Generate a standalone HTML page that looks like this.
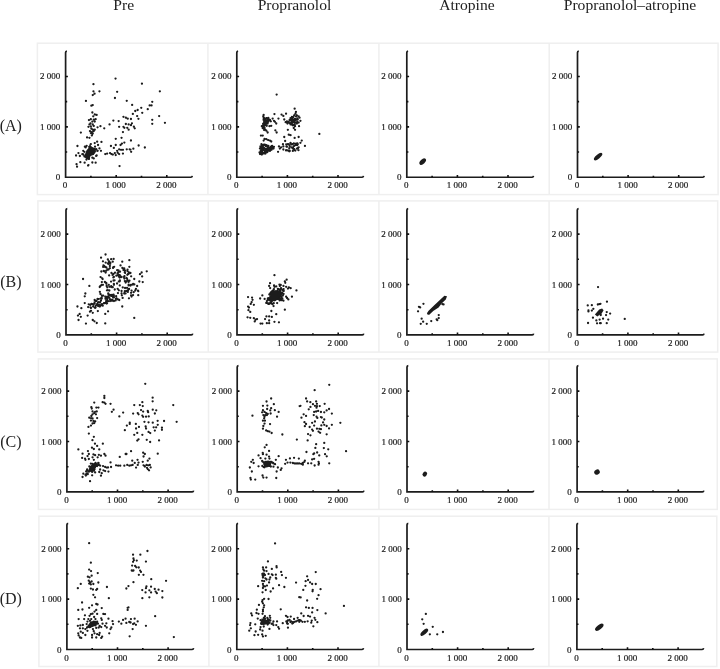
<!DOCTYPE html>
<html><head><meta charset="utf-8"><style>
html,body{margin:0;padding:0;background:#fff;width:720px;height:669px;overflow:hidden}
svg{display:block;will-change:transform}
text{-webkit-font-smoothing:antialiased}
</style></head><body>
<svg width="720" height="669" viewBox="0 0 720 669">
<rect x="37.4" y="43.2" width="680.7" height="151.4" fill="none" stroke="#efefef" stroke-width="1.5"/>
<line x1="207.9" y1="43.2" x2="207.9" y2="194.6" stroke="#efefef" stroke-width="1.5"/>
<line x1="378.9" y1="43.2" x2="378.9" y2="194.6" stroke="#efefef" stroke-width="1.5"/>
<line x1="549.2" y1="43.2" x2="549.2" y2="194.6" stroke="#efefef" stroke-width="1.5"/>
<rect x="37.9" y="200.9" width="679.77" height="151.2" fill="none" stroke="#efefef" stroke-width="1.5"/>
<line x1="208.23" y1="200.9" x2="208.23" y2="352.1" stroke="#efefef" stroke-width="1.5"/>
<line x1="378.9" y1="200.9" x2="378.9" y2="352.1" stroke="#efefef" stroke-width="1.5"/>
<line x1="549.1" y1="200.9" x2="549.1" y2="352.1" stroke="#efefef" stroke-width="1.5"/>
<rect x="38.4" y="358.9" width="678.83" height="150.5" fill="none" stroke="#efefef" stroke-width="1.5"/>
<line x1="208.57" y1="358.9" x2="208.57" y2="509.4" stroke="#efefef" stroke-width="1.5"/>
<line x1="378.9" y1="358.9" x2="378.9" y2="509.4" stroke="#efefef" stroke-width="1.5"/>
<line x1="549.0" y1="358.9" x2="549.0" y2="509.4" stroke="#efefef" stroke-width="1.5"/>
<rect x="38.9" y="516.2" width="677.9" height="150.3" fill="none" stroke="#efefef" stroke-width="1.5"/>
<line x1="208.9" y1="516.2" x2="208.9" y2="666.5" stroke="#efefef" stroke-width="1.5"/>
<line x1="378.9" y1="516.2" x2="378.9" y2="666.5" stroke="#efefef" stroke-width="1.5"/>
<line x1="548.9" y1="516.2" x2="548.9" y2="666.5" stroke="#efefef" stroke-width="1.5"/>
<path d="M66.9,51.05 Q65.6,51.25 65.6,52.45 L65.6,177.25 L190.9,177.25 Q192.1,177.25 192.3,175.95" fill="none" stroke="#1c1c1c" stroke-width="1.7" stroke-linejoin="miter"/>
<path d="M65.6,152.05 h1.6 M90.9,177.25 v-1.6 M65.6,126.85 h2.3 M116.2,177.25 v-2.3 M65.6,101.65 h1.6 M141.5,177.25 v-1.6 M65.6,76.45 h2.3 M166.8,177.25 v-2.3" stroke="#111" stroke-width="1.6" fill="none"/>
<text x="60.3" y="180.25" text-anchor="end" font-family="Liberation Serif" font-size="9" fill="#1a1a1a" stroke="#1a1a1a" stroke-width="0.2">0</text>
<text x="65.1" y="188.25" text-anchor="middle" font-family="Liberation Serif" font-size="9" fill="#1a1a1a" stroke="#1a1a1a" stroke-width="0.2">0</text>
<text x="60.3" y="129.85" text-anchor="end" font-family="Liberation Serif" font-size="9" fill="#1a1a1a" stroke="#1a1a1a" stroke-width="0.2">1 000</text>
<text x="115.7" y="188.25" text-anchor="middle" font-family="Liberation Serif" font-size="9" fill="#1a1a1a" stroke="#1a1a1a" stroke-width="0.2">1 000</text>
<text x="60.3" y="79.45" text-anchor="end" font-family="Liberation Serif" font-size="9" fill="#1a1a1a" stroke="#1a1a1a" stroke-width="0.2">2 000</text>
<text x="166.3" y="188.25" text-anchor="middle" font-family="Liberation Serif" font-size="9" fill="#1a1a1a" stroke="#1a1a1a" stroke-width="0.2">2 000</text>
<path d="M238.1,51.05 Q236.8,51.25 236.8,52.45 L236.8,177.25 L362.1,177.25 Q363.3,177.25 363.5,175.95" fill="none" stroke="#1c1c1c" stroke-width="1.7" stroke-linejoin="miter"/>
<path d="M236.8,152.05 h1.6 M262.1,177.25 v-1.6 M236.8,126.85 h2.3 M287.4,177.25 v-2.3 M236.8,101.65 h1.6 M312.7,177.25 v-1.6 M236.8,76.45 h2.3 M338,177.25 v-2.3" stroke="#111" stroke-width="1.6" fill="none"/>
<text x="231.5" y="180.25" text-anchor="end" font-family="Liberation Serif" font-size="9" fill="#1a1a1a" stroke="#1a1a1a" stroke-width="0.2">0</text>
<text x="236.3" y="188.25" text-anchor="middle" font-family="Liberation Serif" font-size="9" fill="#1a1a1a" stroke="#1a1a1a" stroke-width="0.2">0</text>
<text x="231.5" y="129.85" text-anchor="end" font-family="Liberation Serif" font-size="9" fill="#1a1a1a" stroke="#1a1a1a" stroke-width="0.2">1 000</text>
<text x="286.9" y="188.25" text-anchor="middle" font-family="Liberation Serif" font-size="9" fill="#1a1a1a" stroke="#1a1a1a" stroke-width="0.2">1 000</text>
<text x="231.5" y="79.45" text-anchor="end" font-family="Liberation Serif" font-size="9" fill="#1a1a1a" stroke="#1a1a1a" stroke-width="0.2">2 000</text>
<text x="337.5" y="188.25" text-anchor="middle" font-family="Liberation Serif" font-size="9" fill="#1a1a1a" stroke="#1a1a1a" stroke-width="0.2">2 000</text>
<path d="M408.1,51.05 Q406.8,51.25 406.8,52.45 L406.8,177.25 L532.1,177.25 Q533.3,177.25 533.5,175.95" fill="none" stroke="#1c1c1c" stroke-width="1.7" stroke-linejoin="miter"/>
<path d="M406.8,152.05 h1.6 M432.1,177.25 v-1.6 M406.8,126.85 h2.3 M457.4,177.25 v-2.3 M406.8,101.65 h1.6 M482.7,177.25 v-1.6 M406.8,76.45 h2.3 M508,177.25 v-2.3" stroke="#111" stroke-width="1.6" fill="none"/>
<text x="401.5" y="180.25" text-anchor="end" font-family="Liberation Serif" font-size="9" fill="#1a1a1a" stroke="#1a1a1a" stroke-width="0.2">0</text>
<text x="406.3" y="188.25" text-anchor="middle" font-family="Liberation Serif" font-size="9" fill="#1a1a1a" stroke="#1a1a1a" stroke-width="0.2">0</text>
<text x="401.5" y="129.85" text-anchor="end" font-family="Liberation Serif" font-size="9" fill="#1a1a1a" stroke="#1a1a1a" stroke-width="0.2">1 000</text>
<text x="456.9" y="188.25" text-anchor="middle" font-family="Liberation Serif" font-size="9" fill="#1a1a1a" stroke="#1a1a1a" stroke-width="0.2">1 000</text>
<text x="401.5" y="79.45" text-anchor="end" font-family="Liberation Serif" font-size="9" fill="#1a1a1a" stroke="#1a1a1a" stroke-width="0.2">2 000</text>
<text x="507.5" y="188.25" text-anchor="middle" font-family="Liberation Serif" font-size="9" fill="#1a1a1a" stroke="#1a1a1a" stroke-width="0.2">2 000</text>
<path d="M578.8,51.05 Q577.5,51.25 577.5,52.45 L577.5,177.25 L702.8,177.25 Q704,177.25 704.2,175.95" fill="none" stroke="#1c1c1c" stroke-width="1.7" stroke-linejoin="miter"/>
<path d="M577.5,152.05 h1.6 M602.8,177.25 v-1.6 M577.5,126.85 h2.3 M628.1,177.25 v-2.3 M577.5,101.65 h1.6 M653.4,177.25 v-1.6 M577.5,76.45 h2.3 M678.7,177.25 v-2.3" stroke="#111" stroke-width="1.6" fill="none"/>
<text x="572.2" y="180.25" text-anchor="end" font-family="Liberation Serif" font-size="9" fill="#1a1a1a" stroke="#1a1a1a" stroke-width="0.2">0</text>
<text x="577" y="188.25" text-anchor="middle" font-family="Liberation Serif" font-size="9" fill="#1a1a1a" stroke="#1a1a1a" stroke-width="0.2">0</text>
<text x="572.2" y="129.85" text-anchor="end" font-family="Liberation Serif" font-size="9" fill="#1a1a1a" stroke="#1a1a1a" stroke-width="0.2">1 000</text>
<text x="627.6" y="188.25" text-anchor="middle" font-family="Liberation Serif" font-size="9" fill="#1a1a1a" stroke="#1a1a1a" stroke-width="0.2">1 000</text>
<text x="572.2" y="79.45" text-anchor="end" font-family="Liberation Serif" font-size="9" fill="#1a1a1a" stroke="#1a1a1a" stroke-width="0.2">2 000</text>
<text x="678.2" y="188.25" text-anchor="middle" font-family="Liberation Serif" font-size="9" fill="#1a1a1a" stroke="#1a1a1a" stroke-width="0.2">2 000</text>
<path d="M67.3,208.7 Q66,208.9 66,210.1 L66,334.9 L191.3,334.9 Q192.5,334.9 192.7,333.6" fill="none" stroke="#1c1c1c" stroke-width="1.7" stroke-linejoin="miter"/>
<path d="M66,309.7 h1.6 M91.3,334.9 v-1.6 M66,284.5 h2.3 M116.6,334.9 v-2.3 M66,259.3 h1.6 M141.9,334.9 v-1.6 M66,234.1 h2.3 M167.2,334.9 v-2.3" stroke="#111" stroke-width="1.6" fill="none"/>
<text x="60.7" y="337.9" text-anchor="end" font-family="Liberation Serif" font-size="9" fill="#1a1a1a" stroke="#1a1a1a" stroke-width="0.2">0</text>
<text x="65.5" y="345.9" text-anchor="middle" font-family="Liberation Serif" font-size="9" fill="#1a1a1a" stroke="#1a1a1a" stroke-width="0.2">0</text>
<text x="60.7" y="287.5" text-anchor="end" font-family="Liberation Serif" font-size="9" fill="#1a1a1a" stroke="#1a1a1a" stroke-width="0.2">1 000</text>
<text x="116.1" y="345.9" text-anchor="middle" font-family="Liberation Serif" font-size="9" fill="#1a1a1a" stroke="#1a1a1a" stroke-width="0.2">1 000</text>
<text x="60.7" y="237.1" text-anchor="end" font-family="Liberation Serif" font-size="9" fill="#1a1a1a" stroke="#1a1a1a" stroke-width="0.2">2 000</text>
<text x="166.7" y="345.9" text-anchor="middle" font-family="Liberation Serif" font-size="9" fill="#1a1a1a" stroke="#1a1a1a" stroke-width="0.2">2 000</text>
<path d="M238.3,208.7 Q237,208.9 237,210.1 L237,334.9 L362.3,334.9 Q363.5,334.9 363.7,333.6" fill="none" stroke="#1c1c1c" stroke-width="1.7" stroke-linejoin="miter"/>
<path d="M237,309.7 h1.6 M262.3,334.9 v-1.6 M237,284.5 h2.3 M287.6,334.9 v-2.3 M237,259.3 h1.6 M312.9,334.9 v-1.6 M237,234.1 h2.3 M338.2,334.9 v-2.3" stroke="#111" stroke-width="1.6" fill="none"/>
<text x="231.7" y="337.9" text-anchor="end" font-family="Liberation Serif" font-size="9" fill="#1a1a1a" stroke="#1a1a1a" stroke-width="0.2">0</text>
<text x="236.5" y="345.9" text-anchor="middle" font-family="Liberation Serif" font-size="9" fill="#1a1a1a" stroke="#1a1a1a" stroke-width="0.2">0</text>
<text x="231.7" y="287.5" text-anchor="end" font-family="Liberation Serif" font-size="9" fill="#1a1a1a" stroke="#1a1a1a" stroke-width="0.2">1 000</text>
<text x="287.1" y="345.9" text-anchor="middle" font-family="Liberation Serif" font-size="9" fill="#1a1a1a" stroke="#1a1a1a" stroke-width="0.2">1 000</text>
<text x="231.7" y="237.1" text-anchor="end" font-family="Liberation Serif" font-size="9" fill="#1a1a1a" stroke="#1a1a1a" stroke-width="0.2">2 000</text>
<text x="337.7" y="345.9" text-anchor="middle" font-family="Liberation Serif" font-size="9" fill="#1a1a1a" stroke="#1a1a1a" stroke-width="0.2">2 000</text>
<path d="M408.2,208.7 Q406.9,208.9 406.9,210.1 L406.9,334.9 L532.2,334.9 Q533.4,334.9 533.6,333.6" fill="none" stroke="#1c1c1c" stroke-width="1.7" stroke-linejoin="miter"/>
<path d="M406.9,309.7 h1.6 M432.2,334.9 v-1.6 M406.9,284.5 h2.3 M457.5,334.9 v-2.3 M406.9,259.3 h1.6 M482.8,334.9 v-1.6 M406.9,234.1 h2.3 M508.1,334.9 v-2.3" stroke="#111" stroke-width="1.6" fill="none"/>
<text x="401.6" y="337.9" text-anchor="end" font-family="Liberation Serif" font-size="9" fill="#1a1a1a" stroke="#1a1a1a" stroke-width="0.2">0</text>
<text x="406.4" y="345.9" text-anchor="middle" font-family="Liberation Serif" font-size="9" fill="#1a1a1a" stroke="#1a1a1a" stroke-width="0.2">0</text>
<text x="401.6" y="287.5" text-anchor="end" font-family="Liberation Serif" font-size="9" fill="#1a1a1a" stroke="#1a1a1a" stroke-width="0.2">1 000</text>
<text x="457" y="345.9" text-anchor="middle" font-family="Liberation Serif" font-size="9" fill="#1a1a1a" stroke="#1a1a1a" stroke-width="0.2">1 000</text>
<text x="401.6" y="237.1" text-anchor="end" font-family="Liberation Serif" font-size="9" fill="#1a1a1a" stroke="#1a1a1a" stroke-width="0.2">2 000</text>
<text x="507.6" y="345.9" text-anchor="middle" font-family="Liberation Serif" font-size="9" fill="#1a1a1a" stroke="#1a1a1a" stroke-width="0.2">2 000</text>
<path d="M578.6,208.7 Q577.3,208.9 577.3,210.1 L577.3,334.9 L702.6,334.9 Q703.8,334.9 704,333.6" fill="none" stroke="#1c1c1c" stroke-width="1.7" stroke-linejoin="miter"/>
<path d="M577.3,309.7 h1.6 M602.6,334.9 v-1.6 M577.3,284.5 h2.3 M627.9,334.9 v-2.3 M577.3,259.3 h1.6 M653.2,334.9 v-1.6 M577.3,234.1 h2.3 M678.5,334.9 v-2.3" stroke="#111" stroke-width="1.6" fill="none"/>
<text x="572" y="337.9" text-anchor="end" font-family="Liberation Serif" font-size="9" fill="#1a1a1a" stroke="#1a1a1a" stroke-width="0.2">0</text>
<text x="576.8" y="345.9" text-anchor="middle" font-family="Liberation Serif" font-size="9" fill="#1a1a1a" stroke="#1a1a1a" stroke-width="0.2">0</text>
<text x="572" y="287.5" text-anchor="end" font-family="Liberation Serif" font-size="9" fill="#1a1a1a" stroke="#1a1a1a" stroke-width="0.2">1 000</text>
<text x="627.4" y="345.9" text-anchor="middle" font-family="Liberation Serif" font-size="9" fill="#1a1a1a" stroke="#1a1a1a" stroke-width="0.2">1 000</text>
<text x="572" y="237.1" text-anchor="end" font-family="Liberation Serif" font-size="9" fill="#1a1a1a" stroke="#1a1a1a" stroke-width="0.2">2 000</text>
<text x="678" y="345.9" text-anchor="middle" font-family="Liberation Serif" font-size="9" fill="#1a1a1a" stroke="#1a1a1a" stroke-width="0.2">2 000</text>
<path d="M68.2,365.7 Q66.9,365.9 66.9,367.1 L66.9,491.9 L192.2,491.9 Q193.4,491.9 193.6,490.6" fill="none" stroke="#1c1c1c" stroke-width="1.7" stroke-linejoin="miter"/>
<path d="M66.9,466.7 h1.6 M92.2,491.9 v-1.6 M66.9,441.5 h2.3 M117.5,491.9 v-2.3 M66.9,416.3 h1.6 M142.8,491.9 v-1.6 M66.9,391.1 h2.3 M168.1,491.9 v-2.3" stroke="#111" stroke-width="1.6" fill="none"/>
<text x="61.6" y="494.9" text-anchor="end" font-family="Liberation Serif" font-size="9" fill="#1a1a1a" stroke="#1a1a1a" stroke-width="0.2">0</text>
<text x="66.4" y="502.9" text-anchor="middle" font-family="Liberation Serif" font-size="9" fill="#1a1a1a" stroke="#1a1a1a" stroke-width="0.2">0</text>
<text x="61.6" y="444.5" text-anchor="end" font-family="Liberation Serif" font-size="9" fill="#1a1a1a" stroke="#1a1a1a" stroke-width="0.2">1 000</text>
<text x="117" y="502.9" text-anchor="middle" font-family="Liberation Serif" font-size="9" fill="#1a1a1a" stroke="#1a1a1a" stroke-width="0.2">1 000</text>
<text x="61.6" y="394.1" text-anchor="end" font-family="Liberation Serif" font-size="9" fill="#1a1a1a" stroke="#1a1a1a" stroke-width="0.2">2 000</text>
<text x="167.6" y="502.9" text-anchor="middle" font-family="Liberation Serif" font-size="9" fill="#1a1a1a" stroke="#1a1a1a" stroke-width="0.2">2 000</text>
<path d="M238.5,365.7 Q237.2,365.9 237.2,367.1 L237.2,491.9 L362.5,491.9 Q363.7,491.9 363.9,490.6" fill="none" stroke="#1c1c1c" stroke-width="1.7" stroke-linejoin="miter"/>
<path d="M237.2,466.7 h1.6 M262.5,491.9 v-1.6 M237.2,441.5 h2.3 M287.8,491.9 v-2.3 M237.2,416.3 h1.6 M313.1,491.9 v-1.6 M237.2,391.1 h2.3 M338.4,491.9 v-2.3" stroke="#111" stroke-width="1.6" fill="none"/>
<text x="231.9" y="494.9" text-anchor="end" font-family="Liberation Serif" font-size="9" fill="#1a1a1a" stroke="#1a1a1a" stroke-width="0.2">0</text>
<text x="236.7" y="502.9" text-anchor="middle" font-family="Liberation Serif" font-size="9" fill="#1a1a1a" stroke="#1a1a1a" stroke-width="0.2">0</text>
<text x="231.9" y="444.5" text-anchor="end" font-family="Liberation Serif" font-size="9" fill="#1a1a1a" stroke="#1a1a1a" stroke-width="0.2">1 000</text>
<text x="287.3" y="502.9" text-anchor="middle" font-family="Liberation Serif" font-size="9" fill="#1a1a1a" stroke="#1a1a1a" stroke-width="0.2">1 000</text>
<text x="231.9" y="394.1" text-anchor="end" font-family="Liberation Serif" font-size="9" fill="#1a1a1a" stroke="#1a1a1a" stroke-width="0.2">2 000</text>
<text x="337.9" y="502.9" text-anchor="middle" font-family="Liberation Serif" font-size="9" fill="#1a1a1a" stroke="#1a1a1a" stroke-width="0.2">2 000</text>
<path d="M408.3,365.7 Q407,365.9 407,367.1 L407,491.9 L532.3,491.9 Q533.5,491.9 533.7,490.6" fill="none" stroke="#1c1c1c" stroke-width="1.7" stroke-linejoin="miter"/>
<path d="M407,466.7 h1.6 M432.3,491.9 v-1.6 M407,441.5 h2.3 M457.6,491.9 v-2.3 M407,416.3 h1.6 M482.9,491.9 v-1.6 M407,391.1 h2.3 M508.2,491.9 v-2.3" stroke="#111" stroke-width="1.6" fill="none"/>
<text x="401.7" y="494.9" text-anchor="end" font-family="Liberation Serif" font-size="9" fill="#1a1a1a" stroke="#1a1a1a" stroke-width="0.2">0</text>
<text x="406.5" y="502.9" text-anchor="middle" font-family="Liberation Serif" font-size="9" fill="#1a1a1a" stroke="#1a1a1a" stroke-width="0.2">0</text>
<text x="401.7" y="444.5" text-anchor="end" font-family="Liberation Serif" font-size="9" fill="#1a1a1a" stroke="#1a1a1a" stroke-width="0.2">1 000</text>
<text x="457.1" y="502.9" text-anchor="middle" font-family="Liberation Serif" font-size="9" fill="#1a1a1a" stroke="#1a1a1a" stroke-width="0.2">1 000</text>
<text x="401.7" y="394.1" text-anchor="end" font-family="Liberation Serif" font-size="9" fill="#1a1a1a" stroke="#1a1a1a" stroke-width="0.2">2 000</text>
<text x="507.7" y="502.9" text-anchor="middle" font-family="Liberation Serif" font-size="9" fill="#1a1a1a" stroke="#1a1a1a" stroke-width="0.2">2 000</text>
<path d="M578.4,365.7 Q577.1,365.9 577.1,367.1 L577.1,491.9 L702.4,491.9 Q703.6,491.9 703.8,490.6" fill="none" stroke="#1c1c1c" stroke-width="1.7" stroke-linejoin="miter"/>
<path d="M577.1,466.7 h1.6 M602.4,491.9 v-1.6 M577.1,441.5 h2.3 M627.7,491.9 v-2.3 M577.1,416.3 h1.6 M653,491.9 v-1.6 M577.1,391.1 h2.3 M678.3,491.9 v-2.3" stroke="#111" stroke-width="1.6" fill="none"/>
<text x="571.8" y="494.9" text-anchor="end" font-family="Liberation Serif" font-size="9" fill="#1a1a1a" stroke="#1a1a1a" stroke-width="0.2">0</text>
<text x="576.6" y="502.9" text-anchor="middle" font-family="Liberation Serif" font-size="9" fill="#1a1a1a" stroke="#1a1a1a" stroke-width="0.2">0</text>
<text x="571.8" y="444.5" text-anchor="end" font-family="Liberation Serif" font-size="9" fill="#1a1a1a" stroke="#1a1a1a" stroke-width="0.2">1 000</text>
<text x="627.2" y="502.9" text-anchor="middle" font-family="Liberation Serif" font-size="9" fill="#1a1a1a" stroke="#1a1a1a" stroke-width="0.2">1 000</text>
<text x="571.8" y="394.1" text-anchor="end" font-family="Liberation Serif" font-size="9" fill="#1a1a1a" stroke="#1a1a1a" stroke-width="0.2">2 000</text>
<text x="677.8" y="502.9" text-anchor="middle" font-family="Liberation Serif" font-size="9" fill="#1a1a1a" stroke="#1a1a1a" stroke-width="0.2">2 000</text>
<path d="M68.2,523.3 Q66.9,523.5 66.9,524.7 L66.9,649.5 L192.2,649.5 Q193.4,649.5 193.6,648.2" fill="none" stroke="#1c1c1c" stroke-width="1.7" stroke-linejoin="miter"/>
<path d="M66.9,624.3 h1.6 M92.2,649.5 v-1.6 M66.9,599.1 h2.3 M117.5,649.5 v-2.3 M66.9,573.9 h1.6 M142.8,649.5 v-1.6 M66.9,548.7 h2.3 M168.1,649.5 v-2.3" stroke="#111" stroke-width="1.6" fill="none"/>
<text x="61.6" y="652.5" text-anchor="end" font-family="Liberation Serif" font-size="9" fill="#1a1a1a" stroke="#1a1a1a" stroke-width="0.2">0</text>
<text x="66.4" y="660.5" text-anchor="middle" font-family="Liberation Serif" font-size="9" fill="#1a1a1a" stroke="#1a1a1a" stroke-width="0.2">0</text>
<text x="61.6" y="602.1" text-anchor="end" font-family="Liberation Serif" font-size="9" fill="#1a1a1a" stroke="#1a1a1a" stroke-width="0.2">1 000</text>
<text x="117" y="660.5" text-anchor="middle" font-family="Liberation Serif" font-size="9" fill="#1a1a1a" stroke="#1a1a1a" stroke-width="0.2">1 000</text>
<text x="61.6" y="551.7" text-anchor="end" font-family="Liberation Serif" font-size="9" fill="#1a1a1a" stroke="#1a1a1a" stroke-width="0.2">2 000</text>
<text x="167.6" y="660.5" text-anchor="middle" font-family="Liberation Serif" font-size="9" fill="#1a1a1a" stroke="#1a1a1a" stroke-width="0.2">2 000</text>
<path d="M238.1,523.3 Q236.8,523.5 236.8,524.7 L236.8,649.5 L362.1,649.5 Q363.3,649.5 363.5,648.2" fill="none" stroke="#1c1c1c" stroke-width="1.7" stroke-linejoin="miter"/>
<path d="M236.8,624.3 h1.6 M262.1,649.5 v-1.6 M236.8,599.1 h2.3 M287.4,649.5 v-2.3 M236.8,573.9 h1.6 M312.7,649.5 v-1.6 M236.8,548.7 h2.3 M338,649.5 v-2.3" stroke="#111" stroke-width="1.6" fill="none"/>
<text x="231.5" y="652.5" text-anchor="end" font-family="Liberation Serif" font-size="9" fill="#1a1a1a" stroke="#1a1a1a" stroke-width="0.2">0</text>
<text x="236.3" y="660.5" text-anchor="middle" font-family="Liberation Serif" font-size="9" fill="#1a1a1a" stroke="#1a1a1a" stroke-width="0.2">0</text>
<text x="231.5" y="602.1" text-anchor="end" font-family="Liberation Serif" font-size="9" fill="#1a1a1a" stroke="#1a1a1a" stroke-width="0.2">1 000</text>
<text x="286.9" y="660.5" text-anchor="middle" font-family="Liberation Serif" font-size="9" fill="#1a1a1a" stroke="#1a1a1a" stroke-width="0.2">1 000</text>
<text x="231.5" y="551.7" text-anchor="end" font-family="Liberation Serif" font-size="9" fill="#1a1a1a" stroke="#1a1a1a" stroke-width="0.2">2 000</text>
<text x="337.5" y="660.5" text-anchor="middle" font-family="Liberation Serif" font-size="9" fill="#1a1a1a" stroke="#1a1a1a" stroke-width="0.2">2 000</text>
<path d="M408.3,523.3 Q407,523.5 407,524.7 L407,649.5 L532.3,649.5 Q533.5,649.5 533.7,648.2" fill="none" stroke="#1c1c1c" stroke-width="1.7" stroke-linejoin="miter"/>
<path d="M407,624.3 h1.6 M432.3,649.5 v-1.6 M407,599.1 h2.3 M457.6,649.5 v-2.3 M407,573.9 h1.6 M482.9,649.5 v-1.6 M407,548.7 h2.3 M508.2,649.5 v-2.3" stroke="#111" stroke-width="1.6" fill="none"/>
<text x="401.7" y="652.5" text-anchor="end" font-family="Liberation Serif" font-size="9" fill="#1a1a1a" stroke="#1a1a1a" stroke-width="0.2">0</text>
<text x="406.5" y="660.5" text-anchor="middle" font-family="Liberation Serif" font-size="9" fill="#1a1a1a" stroke="#1a1a1a" stroke-width="0.2">0</text>
<text x="401.7" y="602.1" text-anchor="end" font-family="Liberation Serif" font-size="9" fill="#1a1a1a" stroke="#1a1a1a" stroke-width="0.2">1 000</text>
<text x="457.1" y="660.5" text-anchor="middle" font-family="Liberation Serif" font-size="9" fill="#1a1a1a" stroke="#1a1a1a" stroke-width="0.2">1 000</text>
<text x="401.7" y="551.7" text-anchor="end" font-family="Liberation Serif" font-size="9" fill="#1a1a1a" stroke="#1a1a1a" stroke-width="0.2">2 000</text>
<text x="507.7" y="660.5" text-anchor="middle" font-family="Liberation Serif" font-size="9" fill="#1a1a1a" stroke="#1a1a1a" stroke-width="0.2">2 000</text>
<path d="M578.2,523.3 Q576.9,523.5 576.9,524.7 L576.9,649.5 L702.2,649.5 Q703.4,649.5 703.6,648.2" fill="none" stroke="#1c1c1c" stroke-width="1.7" stroke-linejoin="miter"/>
<path d="M576.9,624.3 h1.6 M602.2,649.5 v-1.6 M576.9,599.1 h2.3 M627.5,649.5 v-2.3 M576.9,573.9 h1.6 M652.8,649.5 v-1.6 M576.9,548.7 h2.3 M678.1,649.5 v-2.3" stroke="#111" stroke-width="1.6" fill="none"/>
<text x="571.6" y="652.5" text-anchor="end" font-family="Liberation Serif" font-size="9" fill="#1a1a1a" stroke="#1a1a1a" stroke-width="0.2">0</text>
<text x="576.4" y="660.5" text-anchor="middle" font-family="Liberation Serif" font-size="9" fill="#1a1a1a" stroke="#1a1a1a" stroke-width="0.2">0</text>
<text x="571.6" y="602.1" text-anchor="end" font-family="Liberation Serif" font-size="9" fill="#1a1a1a" stroke="#1a1a1a" stroke-width="0.2">1 000</text>
<text x="627" y="660.5" text-anchor="middle" font-family="Liberation Serif" font-size="9" fill="#1a1a1a" stroke="#1a1a1a" stroke-width="0.2">1 000</text>
<text x="571.6" y="551.7" text-anchor="end" font-family="Liberation Serif" font-size="9" fill="#1a1a1a" stroke="#1a1a1a" stroke-width="0.2">2 000</text>
<text x="677.6" y="660.5" text-anchor="middle" font-family="Liberation Serif" font-size="9" fill="#1a1a1a" stroke="#1a1a1a" stroke-width="0.2">2 000</text>
<text x="123.7" y="10.2" text-anchor="middle" font-family="Liberation Serif" font-size="15.6" fill="#222">Pre</text>
<text x="294.5" y="10.2" text-anchor="middle" font-family="Liberation Serif" font-size="15.6" fill="#222">Propranolol</text>
<text x="466.9" y="10.2" text-anchor="middle" font-family="Liberation Serif" font-size="15.6" fill="#222">Atropine</text>
<text x="630.0" y="10.2" text-anchor="middle" font-family="Liberation Serif" font-size="15.6" fill="#222">Propranolol–atropine</text>
<text x="10.8" y="130.9" text-anchor="middle" font-family="Liberation Serif" font-size="16" fill="#222">(A)</text>
<text x="10.8" y="287.0" text-anchor="middle" font-family="Liberation Serif" font-size="16" fill="#222">(B)</text>
<text x="10.8" y="446.6" text-anchor="middle" font-family="Liberation Serif" font-size="16" fill="#222">(C)</text>
<text x="10.8" y="604.0" text-anchor="middle" font-family="Liberation Serif" font-size="16" fill="#222">(D)</text>
<path fill="#1c1c1c" d="M114.4,78.6a1.15,1.15 0 1,0 2.3,0a1.15,1.15 0 1,0 -2.3,0M92.3,84.2a1.15,1.15 0 1,0 2.3,0a1.15,1.15 0 1,0 -2.3,0M92.3,91.3a1.15,1.15 0 1,0 2.3,0a1.15,1.15 0 1,0 -2.3,0M98.3,91.3a1.15,1.15 0 1,0 2.3,0a1.15,1.15 0 1,0 -2.3,0M116,91.8a1.15,1.15 0 1,0 2.3,0a1.15,1.15 0 1,0 -2.3,0M91.6,95.1a1.15,1.15 0 1,0 2.3,0a1.15,1.15 0 1,0 -2.3,0M93.4,93.7a1.15,1.15 0 1,0 2.3,0a1.15,1.15 0 1,0 -2.3,0M113.8,98a1.15,1.15 0 1,0 2.3,0a1.15,1.15 0 1,0 -2.3,0M84.8,100.9a1.15,1.15 0 1,0 2.3,0a1.15,1.15 0 1,0 -2.3,0M125.6,100.8a1.15,1.15 0 1,0 2.3,0a1.15,1.15 0 1,0 -2.3,0M90.2,105.7a1.15,1.15 0 1,0 2.3,0a1.15,1.15 0 1,0 -2.3,0M91.6,105.1a1.15,1.15 0 1,0 2.3,0a1.15,1.15 0 1,0 -2.3,0M140.8,83.7a1.15,1.15 0 1,0 2.3,0a1.15,1.15 0 1,0 -2.3,0M158.7,91.3a1.15,1.15 0 1,0 2.3,0a1.15,1.15 0 1,0 -2.3,0M151.1,101.8a1.15,1.15 0 1,0 2.3,0a1.15,1.15 0 1,0 -2.3,0M131,104.9a1.15,1.15 0 1,0 2.3,0a1.15,1.15 0 1,0 -2.3,0M148.5,105.4a1.15,1.15 0 1,0 2.3,0a1.15,1.15 0 1,0 -2.3,0M150.4,105.4a1.15,1.15 0 1,0 2.3,0a1.15,1.15 0 1,0 -2.3,0M140.1,107.8a1.15,1.15 0 1,0 2.3,0a1.15,1.15 0 1,0 -2.3,0M146.6,109.2a1.15,1.15 0 1,0 2.3,0a1.15,1.15 0 1,0 -2.3,0M136.5,110a1.15,1.15 0 1,0 2.3,0a1.15,1.15 0 1,0 -2.3,0M134.1,111a1.15,1.15 0 1,0 2.3,0a1.15,1.15 0 1,0 -2.3,0M158,116.1a1.15,1.15 0 1,0 2.3,0a1.15,1.15 0 1,0 -2.3,0M151.1,119.8a1.15,1.15 0 1,0 2.3,0a1.15,1.15 0 1,0 -2.3,0M151.1,123.8a1.15,1.15 0 1,0 2.3,0a1.15,1.15 0 1,0 -2.3,0M163.8,122.8a1.15,1.15 0 1,0 2.3,0a1.15,1.15 0 1,0 -2.3,0M141.1,112.8a1.15,1.15 0 1,0 2.3,0a1.15,1.15 0 1,0 -2.3,0M131.7,113.9a1.15,1.15 0 1,0 2.3,0a1.15,1.15 0 1,0 -2.3,0M136,116.1a1.15,1.15 0 1,0 2.3,0a1.15,1.15 0 1,0 -2.3,0M137.3,118.8a1.15,1.15 0 1,0 2.3,0a1.15,1.15 0 1,0 -2.3,0M129.8,119a1.15,1.15 0 1,0 2.3,0a1.15,1.15 0 1,0 -2.3,0M130.8,123.3a1.15,1.15 0 1,0 2.3,0a1.15,1.15 0 1,0 -2.3,0M129.8,125.2a1.15,1.15 0 1,0 2.3,0a1.15,1.15 0 1,0 -2.3,0M132.7,126.7a1.15,1.15 0 1,0 2.3,0a1.15,1.15 0 1,0 -2.3,0M133.6,128.3a1.15,1.15 0 1,0 2.3,0a1.15,1.15 0 1,0 -2.3,0M129.8,140.5a1.15,1.15 0 1,0 2.3,0a1.15,1.15 0 1,0 -2.3,0M137.5,145.5a1.15,1.15 0 1,0 2.3,0a1.15,1.15 0 1,0 -2.3,0M143.7,147.5a1.15,1.15 0 1,0 2.3,0a1.15,1.15 0 1,0 -2.3,0M132.2,148.7a1.15,1.15 0 1,0 2.3,0a1.15,1.15 0 1,0 -2.3,0M129.3,149.6a1.15,1.15 0 1,0 2.3,0a1.15,1.15 0 1,0 -2.3,0M130,151.8a1.15,1.15 0 1,0 2.3,0a1.15,1.15 0 1,0 -2.3,0M91.2,112.5a1.15,1.15 0 1,0 2.3,0a1.15,1.15 0 1,0 -2.3,0M95.5,114.9a1.15,1.15 0 1,0 2.3,0a1.15,1.15 0 1,0 -2.3,0M93.6,114.4a1.15,1.15 0 1,0 2.3,0a1.15,1.15 0 1,0 -2.3,0M92.1,116.3a1.15,1.15 0 1,0 2.3,0a1.15,1.15 0 1,0 -2.3,0M87.8,120.1a1.15,1.15 0 1,0 2.3,0a1.15,1.15 0 1,0 -2.3,0M89.7,119.2a1.15,1.15 0 1,0 2.3,0a1.15,1.15 0 1,0 -2.3,0M92.6,119.7a1.15,1.15 0 1,0 2.3,0a1.15,1.15 0 1,0 -2.3,0M94.5,119.2a1.15,1.15 0 1,0 2.3,0a1.15,1.15 0 1,0 -2.3,0M91.2,121.6a1.15,1.15 0 1,0 2.3,0a1.15,1.15 0 1,0 -2.3,0M93.6,121.6a1.15,1.15 0 1,0 2.3,0a1.15,1.15 0 1,0 -2.3,0M89.3,123.5a1.15,1.15 0 1,0 2.3,0a1.15,1.15 0 1,0 -2.3,0M88.3,124.4a1.15,1.15 0 1,0 2.3,0a1.15,1.15 0 1,0 -2.3,0M91.6,124.4a1.15,1.15 0 1,0 2.3,0a1.15,1.15 0 1,0 -2.3,0M87.3,126.8a1.15,1.15 0 1,0 2.3,0a1.15,1.15 0 1,0 -2.3,0M89.7,126.4a1.15,1.15 0 1,0 2.3,0a1.15,1.15 0 1,0 -2.3,0M92.6,125.9a1.15,1.15 0 1,0 2.3,0a1.15,1.15 0 1,0 -2.3,0M90.2,128.7a1.15,1.15 0 1,0 2.3,0a1.15,1.15 0 1,0 -2.3,0M91.6,129.7a1.15,1.15 0 1,0 2.3,0a1.15,1.15 0 1,0 -2.3,0M93.6,129.7a1.15,1.15 0 1,0 2.3,0a1.15,1.15 0 1,0 -2.3,0M88.8,131.1a1.15,1.15 0 1,0 2.3,0a1.15,1.15 0 1,0 -2.3,0M90.7,132.1a1.15,1.15 0 1,0 2.3,0a1.15,1.15 0 1,0 -2.3,0M92.6,131.1a1.15,1.15 0 1,0 2.3,0a1.15,1.15 0 1,0 -2.3,0M89.7,133.1a1.15,1.15 0 1,0 2.3,0a1.15,1.15 0 1,0 -2.3,0M91.6,133.5a1.15,1.15 0 1,0 2.3,0a1.15,1.15 0 1,0 -2.3,0M90.7,135.4a1.15,1.15 0 1,0 2.3,0a1.15,1.15 0 1,0 -2.3,0M96.4,127.3a1.15,1.15 0 1,0 2.3,0a1.15,1.15 0 1,0 -2.3,0M99.3,126.2a1.15,1.15 0 1,0 2.3,0a1.15,1.15 0 1,0 -2.3,0M103.1,128.3a1.15,1.15 0 1,0 2.3,0a1.15,1.15 0 1,0 -2.3,0M79.7,132.6a1.15,1.15 0 1,0 2.3,0a1.15,1.15 0 1,0 -2.3,0M85.9,137.4a1.15,1.15 0 1,0 2.3,0a1.15,1.15 0 1,0 -2.3,0M88.3,137.8a1.15,1.15 0 1,0 2.3,0a1.15,1.15 0 1,0 -2.3,0M89.7,144.1a1.15,1.15 0 1,0 2.3,0a1.15,1.15 0 1,0 -2.3,0M93.6,143.1a1.15,1.15 0 1,0 2.3,0a1.15,1.15 0 1,0 -2.3,0M96,141.7a1.15,1.15 0 1,0 2.3,0a1.15,1.15 0 1,0 -2.3,0M100.3,141.9a1.15,1.15 0 1,0 2.3,0a1.15,1.15 0 1,0 -2.3,0M96.9,145a1.15,1.15 0 1,0 2.3,0a1.15,1.15 0 1,0 -2.3,0M76.3,146a1.15,1.15 0 1,0 2.3,0a1.15,1.15 0 1,0 -2.3,0M84.5,147.4a1.15,1.15 0 1,0 2.3,0a1.15,1.15 0 1,0 -2.3,0M82.1,150.8a1.15,1.15 0 1,0 2.3,0a1.15,1.15 0 1,0 -2.3,0M98.3,148.4a1.15,1.15 0 1,0 2.3,0a1.15,1.15 0 1,0 -2.3,0M99.8,150.8a1.15,1.15 0 1,0 2.3,0a1.15,1.15 0 1,0 -2.3,0M77.3,153.1a1.15,1.15 0 1,0 2.3,0a1.15,1.15 0 1,0 -2.3,0M74.9,155.5a1.15,1.15 0 1,0 2.3,0a1.15,1.15 0 1,0 -2.3,0M78.7,156a1.15,1.15 0 1,0 2.3,0a1.15,1.15 0 1,0 -2.3,0M95.5,155.5a1.15,1.15 0 1,0 2.3,0a1.15,1.15 0 1,0 -2.3,0M92.6,158.4a1.15,1.15 0 1,0 2.3,0a1.15,1.15 0 1,0 -2.3,0M87.8,158.9a1.15,1.15 0 1,0 2.3,0a1.15,1.15 0 1,0 -2.3,0M79.2,162.2a1.15,1.15 0 1,0 2.3,0a1.15,1.15 0 1,0 -2.3,0M83.5,162.7a1.15,1.15 0 1,0 2.3,0a1.15,1.15 0 1,0 -2.3,0M91.2,162.5a1.15,1.15 0 1,0 2.3,0a1.15,1.15 0 1,0 -2.3,0M94.5,162.7a1.15,1.15 0 1,0 2.3,0a1.15,1.15 0 1,0 -2.3,0M75.4,164.2a1.15,1.15 0 1,0 2.3,0a1.15,1.15 0 1,0 -2.3,0M75.9,166.7a1.15,1.15 0 1,0 2.3,0a1.15,1.15 0 1,0 -2.3,0M86.9,165.6a1.15,1.15 0 1,0 2.3,0a1.15,1.15 0 1,0 -2.3,0M87.3,165.1a1.15,1.15 0 1,0 2.3,0a1.15,1.15 0 1,0 -2.3,0M104.1,154.1a1.15,1.15 0 1,0 2.3,0a1.15,1.15 0 1,0 -2.3,0M106,153.6a1.15,1.15 0 1,0 2.3,0a1.15,1.15 0 1,0 -2.3,0M108.9,153.1a1.15,1.15 0 1,0 2.3,0a1.15,1.15 0 1,0 -2.3,0M110.3,154.1a1.15,1.15 0 1,0 2.3,0a1.15,1.15 0 1,0 -2.3,0M111.7,154.6a1.15,1.15 0 1,0 2.3,0a1.15,1.15 0 1,0 -2.3,0M113.7,153.1a1.15,1.15 0 1,0 2.3,0a1.15,1.15 0 1,0 -2.3,0M114.6,155.1a1.15,1.15 0 1,0 2.3,0a1.15,1.15 0 1,0 -2.3,0M116.5,152.7a1.15,1.15 0 1,0 2.3,0a1.15,1.15 0 1,0 -2.3,0M118,154.1a1.15,1.15 0 1,0 2.3,0a1.15,1.15 0 1,0 -2.3,0M116,150.8a1.15,1.15 0 1,0 2.3,0a1.15,1.15 0 1,0 -2.3,0M118,149.3a1.15,1.15 0 1,0 2.3,0a1.15,1.15 0 1,0 -2.3,0M119.9,149.8a1.15,1.15 0 1,0 2.3,0a1.15,1.15 0 1,0 -2.3,0M121.8,149.8a1.15,1.15 0 1,0 2.3,0a1.15,1.15 0 1,0 -2.3,0M121.8,153.6a1.15,1.15 0 1,0 2.3,0a1.15,1.15 0 1,0 -2.3,0M112.7,147.9a1.15,1.15 0 1,0 2.3,0a1.15,1.15 0 1,0 -2.3,0M109.8,146a1.15,1.15 0 1,0 2.3,0a1.15,1.15 0 1,0 -2.3,0M114.6,145a1.15,1.15 0 1,0 2.3,0a1.15,1.15 0 1,0 -2.3,0M119.4,145a1.15,1.15 0 1,0 2.3,0a1.15,1.15 0 1,0 -2.3,0M123.2,142.6a1.15,1.15 0 1,0 2.3,0a1.15,1.15 0 1,0 -2.3,0M120.8,143.6a1.15,1.15 0 1,0 2.3,0a1.15,1.15 0 1,0 -2.3,0M125.6,149.3a1.15,1.15 0 1,0 2.3,0a1.15,1.15 0 1,0 -2.3,0M128.5,149.3a1.15,1.15 0 1,0 2.3,0a1.15,1.15 0 1,0 -2.3,0M118.4,166.1a1.15,1.15 0 1,0 2.3,0a1.15,1.15 0 1,0 -2.3,0M114.6,138.8a1.15,1.15 0 1,0 2.3,0a1.15,1.15 0 1,0 -2.3,0M120.4,137.8a1.15,1.15 0 1,0 2.3,0a1.15,1.15 0 1,0 -2.3,0M121.8,132.1a1.15,1.15 0 1,0 2.3,0a1.15,1.15 0 1,0 -2.3,0M118,126.8a1.15,1.15 0 1,0 2.3,0a1.15,1.15 0 1,0 -2.3,0M122.3,126.8a1.15,1.15 0 1,0 2.3,0a1.15,1.15 0 1,0 -2.3,0M123.2,127.8a1.15,1.15 0 1,0 2.3,0a1.15,1.15 0 1,0 -2.3,0M124.7,124a1.15,1.15 0 1,0 2.3,0a1.15,1.15 0 1,0 -2.3,0M126.1,127.8a1.15,1.15 0 1,0 2.3,0a1.15,1.15 0 1,0 -2.3,0M127.5,129.7a1.15,1.15 0 1,0 2.3,0a1.15,1.15 0 1,0 -2.3,0M127.5,124.4a1.15,1.15 0 1,0 2.3,0a1.15,1.15 0 1,0 -2.3,0M122.3,116.8a1.15,1.15 0 1,0 2.3,0a1.15,1.15 0 1,0 -2.3,0M124.7,117.7a1.15,1.15 0 1,0 2.3,0a1.15,1.15 0 1,0 -2.3,0M126.6,118.7a1.15,1.15 0 1,0 2.3,0a1.15,1.15 0 1,0 -2.3,0M112.2,120.6a1.15,1.15 0 1,0 2.3,0a1.15,1.15 0 1,0 -2.3,0M117.5,121.1a1.15,1.15 0 1,0 2.3,0a1.15,1.15 0 1,0 -2.3,0M108.4,124.4a1.15,1.15 0 1,0 2.3,0a1.15,1.15 0 1,0 -2.3,0M88,152.8a1.15,1.15 0 1,0 2.3,0a1.15,1.15 0 1,0 -2.3,0M96.5,150.8a1.15,1.15 0 1,0 2.3,0a1.15,1.15 0 1,0 -2.3,0M89,153.3a1.15,1.15 0 1,0 2.3,0a1.15,1.15 0 1,0 -2.3,0M83.2,151.8a1.15,1.15 0 1,0 2.3,0a1.15,1.15 0 1,0 -2.3,0M91.2,157.7a1.15,1.15 0 1,0 2.3,0a1.15,1.15 0 1,0 -2.3,0M91.6,153.9a1.15,1.15 0 1,0 2.3,0a1.15,1.15 0 1,0 -2.3,0M87.8,158.7a1.15,1.15 0 1,0 2.3,0a1.15,1.15 0 1,0 -2.3,0M89.2,154.4a1.15,1.15 0 1,0 2.3,0a1.15,1.15 0 1,0 -2.3,0M88.8,154.9a1.15,1.15 0 1,0 2.3,0a1.15,1.15 0 1,0 -2.3,0M88.1,146.8a1.15,1.15 0 1,0 2.3,0a1.15,1.15 0 1,0 -2.3,0M95,155.9a1.15,1.15 0 1,0 2.3,0a1.15,1.15 0 1,0 -2.3,0M85.5,145.8a1.15,1.15 0 1,0 2.3,0a1.15,1.15 0 1,0 -2.3,0M93.6,149.4a1.15,1.15 0 1,0 2.3,0a1.15,1.15 0 1,0 -2.3,0M95.1,149.1a1.15,1.15 0 1,0 2.3,0a1.15,1.15 0 1,0 -2.3,0M96.2,150.9a1.15,1.15 0 1,0 2.3,0a1.15,1.15 0 1,0 -2.3,0M81.2,154.2a1.15,1.15 0 1,0 2.3,0a1.15,1.15 0 1,0 -2.3,0M93.9,146.7a1.15,1.15 0 1,0 2.3,0a1.15,1.15 0 1,0 -2.3,0M89.9,150.4a1.15,1.15 0 1,0 2.3,0a1.15,1.15 0 1,0 -2.3,0M83.3,156.4a1.15,1.15 0 1,0 2.3,0a1.15,1.15 0 1,0 -2.3,0M82.2,154.5a1.15,1.15 0 1,0 2.3,0a1.15,1.15 0 1,0 -2.3,0M83.7,146.7a1.15,1.15 0 1,0 2.3,0a1.15,1.15 0 1,0 -2.3,0M85.3,159.6a1.15,1.15 0 1,0 2.3,0a1.15,1.15 0 1,0 -2.3,0"/>
<polygon fill="#1c1c1c" points="89.7,143.9 91.8,146.8 95.6,148.5 96,151.8 93.9,154.7 90.6,156 89.3,159.8 86.4,158.9 83.9,156.8 85.1,153.9 86.4,150.6 88.5,148"/>
<path fill="#1c1c1c" d="M262.5,115a1.15,1.15 0 1,0 2.3,0a1.15,1.15 0 1,0 -2.3,0M262.1,116.3a1.15,1.15 0 1,0 2.3,0a1.15,1.15 0 1,0 -2.3,0M273.3,114.1a1.15,1.15 0 1,0 2.3,0a1.15,1.15 0 1,0 -2.3,0M263.4,118.6a1.15,1.15 0 1,0 2.3,0a1.15,1.15 0 1,0 -2.3,0M265.2,118.1a1.15,1.15 0 1,0 2.3,0a1.15,1.15 0 1,0 -2.3,0M267,118.6a1.15,1.15 0 1,0 2.3,0a1.15,1.15 0 1,0 -2.3,0M262.5,119.9a1.15,1.15 0 1,0 2.3,0a1.15,1.15 0 1,0 -2.3,0M264.3,119.9a1.15,1.15 0 1,0 2.3,0a1.15,1.15 0 1,0 -2.3,0M266.1,120.8a1.15,1.15 0 1,0 2.3,0a1.15,1.15 0 1,0 -2.3,0M268.8,119.9a1.15,1.15 0 1,0 2.3,0a1.15,1.15 0 1,0 -2.3,0M271.5,118.6a1.15,1.15 0 1,0 2.3,0a1.15,1.15 0 1,0 -2.3,0M272.8,120.8a1.15,1.15 0 1,0 2.3,0a1.15,1.15 0 1,0 -2.3,0M273.7,121.7a1.15,1.15 0 1,0 2.3,0a1.15,1.15 0 1,0 -2.3,0M263,122.2a1.15,1.15 0 1,0 2.3,0a1.15,1.15 0 1,0 -2.3,0M264.8,122.6a1.15,1.15 0 1,0 2.3,0a1.15,1.15 0 1,0 -2.3,0M266.5,123.5a1.15,1.15 0 1,0 2.3,0a1.15,1.15 0 1,0 -2.3,0M269.7,121.3a1.15,1.15 0 1,0 2.3,0a1.15,1.15 0 1,0 -2.3,0M262.1,124.4a1.15,1.15 0 1,0 2.3,0a1.15,1.15 0 1,0 -2.3,0M263.9,124.9a1.15,1.15 0 1,0 2.3,0a1.15,1.15 0 1,0 -2.3,0M265.6,125.8a1.15,1.15 0 1,0 2.3,0a1.15,1.15 0 1,0 -2.3,0M268.3,126.2a1.15,1.15 0 1,0 2.3,0a1.15,1.15 0 1,0 -2.3,0M270.1,125.8a1.15,1.15 0 1,0 2.3,0a1.15,1.15 0 1,0 -2.3,0M261.6,127.6a1.15,1.15 0 1,0 2.3,0a1.15,1.15 0 1,0 -2.3,0M263.4,128a1.15,1.15 0 1,0 2.3,0a1.15,1.15 0 1,0 -2.3,0M264.3,129.8a1.15,1.15 0 1,0 2.3,0a1.15,1.15 0 1,0 -2.3,0M265.2,130.7a1.15,1.15 0 1,0 2.3,0a1.15,1.15 0 1,0 -2.3,0M266.5,132.5a1.15,1.15 0 1,0 2.3,0a1.15,1.15 0 1,0 -2.3,0M275.1,123.5a1.15,1.15 0 1,0 2.3,0a1.15,1.15 0 1,0 -2.3,0M277.3,118.6a1.15,1.15 0 1,0 2.3,0a1.15,1.15 0 1,0 -2.3,0M274.2,130.3a1.15,1.15 0 1,0 2.3,0a1.15,1.15 0 1,0 -2.3,0M275.5,132.5a1.15,1.15 0 1,0 2.3,0a1.15,1.15 0 1,0 -2.3,0M260.7,126.2a1.15,1.15 0 1,0 2.3,0a1.15,1.15 0 1,0 -2.3,0M262.3,126.5a1.15,1.15 0 1,0 2.3,0a1.15,1.15 0 1,0 -2.3,0M262.7,127.9a1.15,1.15 0 1,0 2.3,0a1.15,1.15 0 1,0 -2.3,0M264.8,120.4a1.15,1.15 0 1,0 2.3,0a1.15,1.15 0 1,0 -2.3,0M265.4,118.2a1.15,1.15 0 1,0 2.3,0a1.15,1.15 0 1,0 -2.3,0M266.9,120.4a1.15,1.15 0 1,0 2.3,0a1.15,1.15 0 1,0 -2.3,0M262.8,117.8a1.15,1.15 0 1,0 2.3,0a1.15,1.15 0 1,0 -2.3,0M264.7,118.8a1.15,1.15 0 1,0 2.3,0a1.15,1.15 0 1,0 -2.3,0M262.3,128.2a1.15,1.15 0 1,0 2.3,0a1.15,1.15 0 1,0 -2.3,0M264.4,124.7a1.15,1.15 0 1,0 2.3,0a1.15,1.15 0 1,0 -2.3,0M263.6,123.8a1.15,1.15 0 1,0 2.3,0a1.15,1.15 0 1,0 -2.3,0M262.5,117.7a1.15,1.15 0 1,0 2.3,0a1.15,1.15 0 1,0 -2.3,0M267.4,120.4a1.15,1.15 0 1,0 2.3,0a1.15,1.15 0 1,0 -2.3,0M266.8,120.1a1.15,1.15 0 1,0 2.3,0a1.15,1.15 0 1,0 -2.3,0M262,123.7a1.15,1.15 0 1,0 2.3,0a1.15,1.15 0 1,0 -2.3,0M267.1,120a1.15,1.15 0 1,0 2.3,0a1.15,1.15 0 1,0 -2.3,0M264.1,122.2a1.15,1.15 0 1,0 2.3,0a1.15,1.15 0 1,0 -2.3,0M264.4,122.4a1.15,1.15 0 1,0 2.3,0a1.15,1.15 0 1,0 -2.3,0M264.7,123.9a1.15,1.15 0 1,0 2.3,0a1.15,1.15 0 1,0 -2.3,0M262.8,125.4a1.15,1.15 0 1,0 2.3,0a1.15,1.15 0 1,0 -2.3,0M262.5,119.5a1.15,1.15 0 1,0 2.3,0a1.15,1.15 0 1,0 -2.3,0M263.7,125.3a1.15,1.15 0 1,0 2.3,0a1.15,1.15 0 1,0 -2.3,0M263.4,118.6a1.15,1.15 0 1,0 2.3,0a1.15,1.15 0 1,0 -2.3,0M261.6,128.2a1.15,1.15 0 1,0 2.3,0a1.15,1.15 0 1,0 -2.3,0M266.7,122.3a1.15,1.15 0 1,0 2.3,0a1.15,1.15 0 1,0 -2.3,0M263.9,120.6a1.15,1.15 0 1,0 2.3,0a1.15,1.15 0 1,0 -2.3,0M267.5,119.4a1.15,1.15 0 1,0 2.3,0a1.15,1.15 0 1,0 -2.3,0M261.7,128.1a1.15,1.15 0 1,0 2.3,0a1.15,1.15 0 1,0 -2.3,0M267.2,117.9a1.15,1.15 0 1,0 2.3,0a1.15,1.15 0 1,0 -2.3,0M263,121.1a1.15,1.15 0 1,0 2.3,0a1.15,1.15 0 1,0 -2.3,0M264.2,119.5a1.15,1.15 0 1,0 2.3,0a1.15,1.15 0 1,0 -2.3,0M263,130.1a1.15,1.15 0 1,0 2.3,0a1.15,1.15 0 1,0 -2.3,0M264.2,125.1a1.15,1.15 0 1,0 2.3,0a1.15,1.15 0 1,0 -2.3,0M267.3,121.4a1.15,1.15 0 1,0 2.3,0a1.15,1.15 0 1,0 -2.3,0M265,121a1.15,1.15 0 1,0 2.3,0a1.15,1.15 0 1,0 -2.3,0M265.4,120.7a1.15,1.15 0 1,0 2.3,0a1.15,1.15 0 1,0 -2.3,0M293.5,108.7a1.15,1.15 0 1,0 2.3,0a1.15,1.15 0 1,0 -2.3,0M294.8,111.9a1.15,1.15 0 1,0 2.3,0a1.15,1.15 0 1,0 -2.3,0M294.3,113.7a1.15,1.15 0 1,0 2.3,0a1.15,1.15 0 1,0 -2.3,0M280.4,114.6a1.15,1.15 0 1,0 2.3,0a1.15,1.15 0 1,0 -2.3,0M282.2,115.9a1.15,1.15 0 1,0 2.3,0a1.15,1.15 0 1,0 -2.3,0M284.9,113.7a1.15,1.15 0 1,0 2.3,0a1.15,1.15 0 1,0 -2.3,0M283.1,119.5a1.15,1.15 0 1,0 2.3,0a1.15,1.15 0 1,0 -2.3,0M284.5,122.2a1.15,1.15 0 1,0 2.3,0a1.15,1.15 0 1,0 -2.3,0M286.3,123.5a1.15,1.15 0 1,0 2.3,0a1.15,1.15 0 1,0 -2.3,0M287.6,121.7a1.15,1.15 0 1,0 2.3,0a1.15,1.15 0 1,0 -2.3,0M288.5,119.9a1.15,1.15 0 1,0 2.3,0a1.15,1.15 0 1,0 -2.3,0M289.4,118.1a1.15,1.15 0 1,0 2.3,0a1.15,1.15 0 1,0 -2.3,0M290.8,116.8a1.15,1.15 0 1,0 2.3,0a1.15,1.15 0 1,0 -2.3,0M293,115.5a1.15,1.15 0 1,0 2.3,0a1.15,1.15 0 1,0 -2.3,0M295.7,115.5a1.15,1.15 0 1,0 2.3,0a1.15,1.15 0 1,0 -2.3,0M297.5,116.3a1.15,1.15 0 1,0 2.3,0a1.15,1.15 0 1,0 -2.3,0M298.4,117.7a1.15,1.15 0 1,0 2.3,0a1.15,1.15 0 1,0 -2.3,0M299.3,120.8a1.15,1.15 0 1,0 2.3,0a1.15,1.15 0 1,0 -2.3,0M297.5,122.6a1.15,1.15 0 1,0 2.3,0a1.15,1.15 0 1,0 -2.3,0M295.7,123.5a1.15,1.15 0 1,0 2.3,0a1.15,1.15 0 1,0 -2.3,0M294.8,119.9a1.15,1.15 0 1,0 2.3,0a1.15,1.15 0 1,0 -2.3,0M292.1,119.9a1.15,1.15 0 1,0 2.3,0a1.15,1.15 0 1,0 -2.3,0M290.3,122.6a1.15,1.15 0 1,0 2.3,0a1.15,1.15 0 1,0 -2.3,0M289.4,124.4a1.15,1.15 0 1,0 2.3,0a1.15,1.15 0 1,0 -2.3,0M291.7,125.3a1.15,1.15 0 1,0 2.3,0a1.15,1.15 0 1,0 -2.3,0M293.9,126.2a1.15,1.15 0 1,0 2.3,0a1.15,1.15 0 1,0 -2.3,0M292.6,128a1.15,1.15 0 1,0 2.3,0a1.15,1.15 0 1,0 -2.3,0M293.9,129.8a1.15,1.15 0 1,0 2.3,0a1.15,1.15 0 1,0 -2.3,0M297.9,126.2a1.15,1.15 0 1,0 2.3,0a1.15,1.15 0 1,0 -2.3,0M286.7,129.8a1.15,1.15 0 1,0 2.3,0a1.15,1.15 0 1,0 -2.3,0M285.8,121.3a1.15,1.15 0 1,0 2.3,0a1.15,1.15 0 1,0 -2.3,0M296.6,119.5a1.15,1.15 0 1,0 2.3,0a1.15,1.15 0 1,0 -2.3,0M293,122.2a1.15,1.15 0 1,0 2.3,0a1.15,1.15 0 1,0 -2.3,0M290.3,120.8a1.15,1.15 0 1,0 2.3,0a1.15,1.15 0 1,0 -2.3,0M288.5,123.1a1.15,1.15 0 1,0 2.3,0a1.15,1.15 0 1,0 -2.3,0M294.8,116.3a1.15,1.15 0 1,0 2.3,0a1.15,1.15 0 1,0 -2.3,0M296.1,118.3a1.15,1.15 0 1,0 2.3,0a1.15,1.15 0 1,0 -2.3,0M293.7,118.9a1.15,1.15 0 1,0 2.3,0a1.15,1.15 0 1,0 -2.3,0M291.9,117.4a1.15,1.15 0 1,0 2.3,0a1.15,1.15 0 1,0 -2.3,0M293.3,120.9a1.15,1.15 0 1,0 2.3,0a1.15,1.15 0 1,0 -2.3,0M292.8,124.9a1.15,1.15 0 1,0 2.3,0a1.15,1.15 0 1,0 -2.3,0M293.6,124.8a1.15,1.15 0 1,0 2.3,0a1.15,1.15 0 1,0 -2.3,0M295.5,122.6a1.15,1.15 0 1,0 2.3,0a1.15,1.15 0 1,0 -2.3,0M290.1,119.9a1.15,1.15 0 1,0 2.3,0a1.15,1.15 0 1,0 -2.3,0M295.2,122.5a1.15,1.15 0 1,0 2.3,0a1.15,1.15 0 1,0 -2.3,0M293.7,122.7a1.15,1.15 0 1,0 2.3,0a1.15,1.15 0 1,0 -2.3,0M290.1,123.8a1.15,1.15 0 1,0 2.3,0a1.15,1.15 0 1,0 -2.3,0M293.5,119.8a1.15,1.15 0 1,0 2.3,0a1.15,1.15 0 1,0 -2.3,0M287.6,122.2a1.15,1.15 0 1,0 2.3,0a1.15,1.15 0 1,0 -2.3,0M291.9,122.1a1.15,1.15 0 1,0 2.3,0a1.15,1.15 0 1,0 -2.3,0M291,123a1.15,1.15 0 1,0 2.3,0a1.15,1.15 0 1,0 -2.3,0M290.7,122.5a1.15,1.15 0 1,0 2.3,0a1.15,1.15 0 1,0 -2.3,0M290,122.6a1.15,1.15 0 1,0 2.3,0a1.15,1.15 0 1,0 -2.3,0M292.3,121.5a1.15,1.15 0 1,0 2.3,0a1.15,1.15 0 1,0 -2.3,0M293.5,122.1a1.15,1.15 0 1,0 2.3,0a1.15,1.15 0 1,0 -2.3,0M290.5,121.5a1.15,1.15 0 1,0 2.3,0a1.15,1.15 0 1,0 -2.3,0M291,124.8a1.15,1.15 0 1,0 2.3,0a1.15,1.15 0 1,0 -2.3,0M296.1,122a1.15,1.15 0 1,0 2.3,0a1.15,1.15 0 1,0 -2.3,0M290.9,119.2a1.15,1.15 0 1,0 2.3,0a1.15,1.15 0 1,0 -2.3,0M292.3,120.9a1.15,1.15 0 1,0 2.3,0a1.15,1.15 0 1,0 -2.3,0M290.3,121a1.15,1.15 0 1,0 2.3,0a1.15,1.15 0 1,0 -2.3,0M259.8,135.6a1.15,1.15 0 1,0 2.3,0a1.15,1.15 0 1,0 -2.3,0M261.6,135.6a1.15,1.15 0 1,0 2.3,0a1.15,1.15 0 1,0 -2.3,0M263.4,138.8a1.15,1.15 0 1,0 2.3,0a1.15,1.15 0 1,0 -2.3,0M265.2,139.2a1.15,1.15 0 1,0 2.3,0a1.15,1.15 0 1,0 -2.3,0M267,140.1a1.15,1.15 0 1,0 2.3,0a1.15,1.15 0 1,0 -2.3,0M268.8,140.6a1.15,1.15 0 1,0 2.3,0a1.15,1.15 0 1,0 -2.3,0M270.1,141.5a1.15,1.15 0 1,0 2.3,0a1.15,1.15 0 1,0 -2.3,0M262.5,140.6a1.15,1.15 0 1,0 2.3,0a1.15,1.15 0 1,0 -2.3,0M260.3,144.2a1.15,1.15 0 1,0 2.3,0a1.15,1.15 0 1,0 -2.3,0M271,145.9a1.15,1.15 0 1,0 2.3,0a1.15,1.15 0 1,0 -2.3,0M272.8,146.8a1.15,1.15 0 1,0 2.3,0a1.15,1.15 0 1,0 -2.3,0M272.4,148.6a1.15,1.15 0 1,0 2.3,0a1.15,1.15 0 1,0 -2.3,0M270.6,149.5a1.15,1.15 0 1,0 2.3,0a1.15,1.15 0 1,0 -2.3,0M268.8,150.9a1.15,1.15 0 1,0 2.3,0a1.15,1.15 0 1,0 -2.3,0M266.1,152.2a1.15,1.15 0 1,0 2.3,0a1.15,1.15 0 1,0 -2.3,0M264.3,153.6a1.15,1.15 0 1,0 2.3,0a1.15,1.15 0 1,0 -2.3,0M258.9,154a1.15,1.15 0 1,0 2.3,0a1.15,1.15 0 1,0 -2.3,0M260.7,154.5a1.15,1.15 0 1,0 2.3,0a1.15,1.15 0 1,0 -2.3,0M266.5,148.5a1.15,1.15 0 1,0 2.3,0a1.15,1.15 0 1,0 -2.3,0M265.6,145.5a1.15,1.15 0 1,0 2.3,0a1.15,1.15 0 1,0 -2.3,0M260.8,148.7a1.15,1.15 0 1,0 2.3,0a1.15,1.15 0 1,0 -2.3,0M261.2,148.8a1.15,1.15 0 1,0 2.3,0a1.15,1.15 0 1,0 -2.3,0M268.2,148.5a1.15,1.15 0 1,0 2.3,0a1.15,1.15 0 1,0 -2.3,0M265.4,151.7a1.15,1.15 0 1,0 2.3,0a1.15,1.15 0 1,0 -2.3,0M263.2,144.7a1.15,1.15 0 1,0 2.3,0a1.15,1.15 0 1,0 -2.3,0M269.3,150.2a1.15,1.15 0 1,0 2.3,0a1.15,1.15 0 1,0 -2.3,0M267.5,150.6a1.15,1.15 0 1,0 2.3,0a1.15,1.15 0 1,0 -2.3,0M272,147.9a1.15,1.15 0 1,0 2.3,0a1.15,1.15 0 1,0 -2.3,0M268.9,148a1.15,1.15 0 1,0 2.3,0a1.15,1.15 0 1,0 -2.3,0M266.2,151a1.15,1.15 0 1,0 2.3,0a1.15,1.15 0 1,0 -2.3,0M262.5,145a1.15,1.15 0 1,0 2.3,0a1.15,1.15 0 1,0 -2.3,0M264.8,151.6a1.15,1.15 0 1,0 2.3,0a1.15,1.15 0 1,0 -2.3,0M266.5,148.8a1.15,1.15 0 1,0 2.3,0a1.15,1.15 0 1,0 -2.3,0M267.2,146a1.15,1.15 0 1,0 2.3,0a1.15,1.15 0 1,0 -2.3,0M260.6,147.5a1.15,1.15 0 1,0 2.3,0a1.15,1.15 0 1,0 -2.3,0M262.8,148a1.15,1.15 0 1,0 2.3,0a1.15,1.15 0 1,0 -2.3,0M262.2,147.3a1.15,1.15 0 1,0 2.3,0a1.15,1.15 0 1,0 -2.3,0M269.2,149.8a1.15,1.15 0 1,0 2.3,0a1.15,1.15 0 1,0 -2.3,0M261.7,145.3a1.15,1.15 0 1,0 2.3,0a1.15,1.15 0 1,0 -2.3,0M269.9,146.6a1.15,1.15 0 1,0 2.3,0a1.15,1.15 0 1,0 -2.3,0M260.4,154.2a1.15,1.15 0 1,0 2.3,0a1.15,1.15 0 1,0 -2.3,0M258.8,148.4a1.15,1.15 0 1,0 2.3,0a1.15,1.15 0 1,0 -2.3,0M258.4,152.5a1.15,1.15 0 1,0 2.3,0a1.15,1.15 0 1,0 -2.3,0M268.8,147.7a1.15,1.15 0 1,0 2.3,0a1.15,1.15 0 1,0 -2.3,0M272,148a1.15,1.15 0 1,0 2.3,0a1.15,1.15 0 1,0 -2.3,0M260.8,144.9a1.15,1.15 0 1,0 2.3,0a1.15,1.15 0 1,0 -2.3,0M264.7,146.2a1.15,1.15 0 1,0 2.3,0a1.15,1.15 0 1,0 -2.3,0M261.1,145.2a1.15,1.15 0 1,0 2.3,0a1.15,1.15 0 1,0 -2.3,0M265.6,145.9a1.15,1.15 0 1,0 2.3,0a1.15,1.15 0 1,0 -2.3,0M261.7,148.5a1.15,1.15 0 1,0 2.3,0a1.15,1.15 0 1,0 -2.3,0M271,148.7a1.15,1.15 0 1,0 2.3,0a1.15,1.15 0 1,0 -2.3,0M262.9,153.4a1.15,1.15 0 1,0 2.3,0a1.15,1.15 0 1,0 -2.3,0M267.9,148.4a1.15,1.15 0 1,0 2.3,0a1.15,1.15 0 1,0 -2.3,0M267.2,146.6a1.15,1.15 0 1,0 2.3,0a1.15,1.15 0 1,0 -2.3,0M262.3,148.4a1.15,1.15 0 1,0 2.3,0a1.15,1.15 0 1,0 -2.3,0M269.1,149.9a1.15,1.15 0 1,0 2.3,0a1.15,1.15 0 1,0 -2.3,0M259.6,150.7a1.15,1.15 0 1,0 2.3,0a1.15,1.15 0 1,0 -2.3,0M262.8,149.9a1.15,1.15 0 1,0 2.3,0a1.15,1.15 0 1,0 -2.3,0M270,146.7a1.15,1.15 0 1,0 2.3,0a1.15,1.15 0 1,0 -2.3,0M266.1,149.7a1.15,1.15 0 1,0 2.3,0a1.15,1.15 0 1,0 -2.3,0M261.4,149.9a1.15,1.15 0 1,0 2.3,0a1.15,1.15 0 1,0 -2.3,0M264.8,148.8a1.15,1.15 0 1,0 2.3,0a1.15,1.15 0 1,0 -2.3,0M263.4,152.3a1.15,1.15 0 1,0 2.3,0a1.15,1.15 0 1,0 -2.3,0M260.1,153.1a1.15,1.15 0 1,0 2.3,0a1.15,1.15 0 1,0 -2.3,0M260.9,151.2a1.15,1.15 0 1,0 2.3,0a1.15,1.15 0 1,0 -2.3,0M260.5,148.8a1.15,1.15 0 1,0 2.3,0a1.15,1.15 0 1,0 -2.3,0M264.1,145a1.15,1.15 0 1,0 2.3,0a1.15,1.15 0 1,0 -2.3,0M268.1,149.1a1.15,1.15 0 1,0 2.3,0a1.15,1.15 0 1,0 -2.3,0M267.9,149.7a1.15,1.15 0 1,0 2.3,0a1.15,1.15 0 1,0 -2.3,0M266,149.6a1.15,1.15 0 1,0 2.3,0a1.15,1.15 0 1,0 -2.3,0M262.3,153.4a1.15,1.15 0 1,0 2.3,0a1.15,1.15 0 1,0 -2.3,0M259.3,153.2a1.15,1.15 0 1,0 2.3,0a1.15,1.15 0 1,0 -2.3,0M270.4,149.3a1.15,1.15 0 1,0 2.3,0a1.15,1.15 0 1,0 -2.3,0M266.7,147.2a1.15,1.15 0 1,0 2.3,0a1.15,1.15 0 1,0 -2.3,0M262.6,147.8a1.15,1.15 0 1,0 2.3,0a1.15,1.15 0 1,0 -2.3,0M262.9,148.1a1.15,1.15 0 1,0 2.3,0a1.15,1.15 0 1,0 -2.3,0M264,152.6a1.15,1.15 0 1,0 2.3,0a1.15,1.15 0 1,0 -2.3,0M264.9,149.9a1.15,1.15 0 1,0 2.3,0a1.15,1.15 0 1,0 -2.3,0M261.7,147a1.15,1.15 0 1,0 2.3,0a1.15,1.15 0 1,0 -2.3,0M259.3,146.4a1.15,1.15 0 1,0 2.3,0a1.15,1.15 0 1,0 -2.3,0M261.8,152.9a1.15,1.15 0 1,0 2.3,0a1.15,1.15 0 1,0 -2.3,0M265.2,145.3a1.15,1.15 0 1,0 2.3,0a1.15,1.15 0 1,0 -2.3,0M264.7,145.4a1.15,1.15 0 1,0 2.3,0a1.15,1.15 0 1,0 -2.3,0M266.1,148.7a1.15,1.15 0 1,0 2.3,0a1.15,1.15 0 1,0 -2.3,0M270.3,146.8a1.15,1.15 0 1,0 2.3,0a1.15,1.15 0 1,0 -2.3,0M270.2,146.7a1.15,1.15 0 1,0 2.3,0a1.15,1.15 0 1,0 -2.3,0M258.6,152.5a1.15,1.15 0 1,0 2.3,0a1.15,1.15 0 1,0 -2.3,0M262,147.9a1.15,1.15 0 1,0 2.3,0a1.15,1.15 0 1,0 -2.3,0M260.1,152.8a1.15,1.15 0 1,0 2.3,0a1.15,1.15 0 1,0 -2.3,0M259.3,151.8a1.15,1.15 0 1,0 2.3,0a1.15,1.15 0 1,0 -2.3,0M263.7,151.2a1.15,1.15 0 1,0 2.3,0a1.15,1.15 0 1,0 -2.3,0M262.2,145a1.15,1.15 0 1,0 2.3,0a1.15,1.15 0 1,0 -2.3,0M260.5,154.2a1.15,1.15 0 1,0 2.3,0a1.15,1.15 0 1,0 -2.3,0M287.6,134.7a1.15,1.15 0 1,0 2.3,0a1.15,1.15 0 1,0 -2.3,0M289.4,135.2a1.15,1.15 0 1,0 2.3,0a1.15,1.15 0 1,0 -2.3,0M283.1,137a1.15,1.15 0 1,0 2.3,0a1.15,1.15 0 1,0 -2.3,0M293.5,137.9a1.15,1.15 0 1,0 2.3,0a1.15,1.15 0 1,0 -2.3,0M297.5,137a1.15,1.15 0 1,0 2.3,0a1.15,1.15 0 1,0 -2.3,0M300.6,140.6a1.15,1.15 0 1,0 2.3,0a1.15,1.15 0 1,0 -2.3,0M299.3,142.8a1.15,1.15 0 1,0 2.3,0a1.15,1.15 0 1,0 -2.3,0M284,141a1.15,1.15 0 1,0 2.3,0a1.15,1.15 0 1,0 -2.3,0M281.8,144.2a1.15,1.15 0 1,0 2.3,0a1.15,1.15 0 1,0 -2.3,0M277.8,146.4a1.15,1.15 0 1,0 2.3,0a1.15,1.15 0 1,0 -2.3,0M278.7,148.6a1.15,1.15 0 1,0 2.3,0a1.15,1.15 0 1,0 -2.3,0M280,147.3a1.15,1.15 0 1,0 2.3,0a1.15,1.15 0 1,0 -2.3,0M282.2,149.5a1.15,1.15 0 1,0 2.3,0a1.15,1.15 0 1,0 -2.3,0M276.9,151.8a1.15,1.15 0 1,0 2.3,0a1.15,1.15 0 1,0 -2.3,0M284.9,150.4a1.15,1.15 0 1,0 2.3,0a1.15,1.15 0 1,0 -2.3,0M286.7,150.4a1.15,1.15 0 1,0 2.3,0a1.15,1.15 0 1,0 -2.3,0M288.1,151.3a1.15,1.15 0 1,0 2.3,0a1.15,1.15 0 1,0 -2.3,0M289.4,142.8a1.15,1.15 0 1,0 2.3,0a1.15,1.15 0 1,0 -2.3,0M291.2,144.2a1.15,1.15 0 1,0 2.3,0a1.15,1.15 0 1,0 -2.3,0M293,145.9a1.15,1.15 0 1,0 2.3,0a1.15,1.15 0 1,0 -2.3,0M294.8,145a1.15,1.15 0 1,0 2.3,0a1.15,1.15 0 1,0 -2.3,0M296.6,144.2a1.15,1.15 0 1,0 2.3,0a1.15,1.15 0 1,0 -2.3,0M297.5,147.3a1.15,1.15 0 1,0 2.3,0a1.15,1.15 0 1,0 -2.3,0M295.7,148.6a1.15,1.15 0 1,0 2.3,0a1.15,1.15 0 1,0 -2.3,0M293.9,150.4a1.15,1.15 0 1,0 2.3,0a1.15,1.15 0 1,0 -2.3,0M292.1,148.6a1.15,1.15 0 1,0 2.3,0a1.15,1.15 0 1,0 -2.3,0M290.3,147.3a1.15,1.15 0 1,0 2.3,0a1.15,1.15 0 1,0 -2.3,0M288.5,145.9a1.15,1.15 0 1,0 2.3,0a1.15,1.15 0 1,0 -2.3,0M286.7,144.2a1.15,1.15 0 1,0 2.3,0a1.15,1.15 0 1,0 -2.3,0M285.8,146.8a1.15,1.15 0 1,0 2.3,0a1.15,1.15 0 1,0 -2.3,0M303.8,145.9a1.15,1.15 0 1,0 2.3,0a1.15,1.15 0 1,0 -2.3,0M282.2,146.4a1.15,1.15 0 1,0 2.3,0a1.15,1.15 0 1,0 -2.3,0M291.7,150.9a1.15,1.15 0 1,0 2.3,0a1.15,1.15 0 1,0 -2.3,0M288.1,148.2a1.15,1.15 0 1,0 2.3,0a1.15,1.15 0 1,0 -2.3,0M292.8,149a1.15,1.15 0 1,0 2.3,0a1.15,1.15 0 1,0 -2.3,0M294.2,150.6a1.15,1.15 0 1,0 2.3,0a1.15,1.15 0 1,0 -2.3,0M285.3,146.5a1.15,1.15 0 1,0 2.3,0a1.15,1.15 0 1,0 -2.3,0M296.8,148.2a1.15,1.15 0 1,0 2.3,0a1.15,1.15 0 1,0 -2.3,0M296.2,143.4a1.15,1.15 0 1,0 2.3,0a1.15,1.15 0 1,0 -2.3,0M290.8,144.6a1.15,1.15 0 1,0 2.3,0a1.15,1.15 0 1,0 -2.3,0M291.8,147.5a1.15,1.15 0 1,0 2.3,0a1.15,1.15 0 1,0 -2.3,0M285.1,144.3a1.15,1.15 0 1,0 2.3,0a1.15,1.15 0 1,0 -2.3,0M288.4,150.6a1.15,1.15 0 1,0 2.3,0a1.15,1.15 0 1,0 -2.3,0M294.5,143.8a1.15,1.15 0 1,0 2.3,0a1.15,1.15 0 1,0 -2.3,0M294.9,143.6a1.15,1.15 0 1,0 2.3,0a1.15,1.15 0 1,0 -2.3,0M292.7,143.5a1.15,1.15 0 1,0 2.3,0a1.15,1.15 0 1,0 -2.3,0M285,150.2a1.15,1.15 0 1,0 2.3,0a1.15,1.15 0 1,0 -2.3,0M287.6,144.3a1.15,1.15 0 1,0 2.3,0a1.15,1.15 0 1,0 -2.3,0M297.3,150.2a1.15,1.15 0 1,0 2.3,0a1.15,1.15 0 1,0 -2.3,0M288.6,151a1.15,1.15 0 1,0 2.3,0a1.15,1.15 0 1,0 -2.3,0M291.7,148.4a1.15,1.15 0 1,0 2.3,0a1.15,1.15 0 1,0 -2.3,0M287.5,150.8a1.15,1.15 0 1,0 2.3,0a1.15,1.15 0 1,0 -2.3,0M296.2,145a1.15,1.15 0 1,0 2.3,0a1.15,1.15 0 1,0 -2.3,0M289.5,143.8a1.15,1.15 0 1,0 2.3,0a1.15,1.15 0 1,0 -2.3,0M275.5,94.6a1.15,1.15 0 1,0 2.3,0a1.15,1.15 0 1,0 -2.3,0M318.2,133.9a1.15,1.15 0 1,0 2.3,0a1.15,1.15 0 1,0 -2.3,0"/>
<ellipse fill="#1c1c1c" cx="422.7" cy="161.6" rx="4" ry="2.3" transform="rotate(-45 422.7 161.6)"/>
<ellipse fill="#1c1c1c" cx="598.1" cy="156.6" rx="5.2" ry="2" transform="rotate(-40 598.1 156.6)"/>
<path fill="#1c1c1c" d="M104.4,254.5a1.15,1.15 0 1,0 2.3,0a1.15,1.15 0 1,0 -2.3,0M99.9,257.7a1.15,1.15 0 1,0 2.3,0a1.15,1.15 0 1,0 -2.3,0M101.8,261.3a1.15,1.15 0 1,0 2.3,0a1.15,1.15 0 1,0 -2.3,0M121.1,261.7a1.15,1.15 0 1,0 2.3,0a1.15,1.15 0 1,0 -2.3,0M128.2,260.2a1.15,1.15 0 1,0 2.3,0a1.15,1.15 0 1,0 -2.3,0M119.4,265.4a1.15,1.15 0 1,0 2.3,0a1.15,1.15 0 1,0 -2.3,0M128.2,266.8a1.15,1.15 0 1,0 2.3,0a1.15,1.15 0 1,0 -2.3,0M145.6,271.3a1.15,1.15 0 1,0 2.3,0a1.15,1.15 0 1,0 -2.3,0M140.5,272.5a1.15,1.15 0 1,0 2.3,0a1.15,1.15 0 1,0 -2.3,0M138.8,274.2a1.15,1.15 0 1,0 2.3,0a1.15,1.15 0 1,0 -2.3,0M141,276.4a1.15,1.15 0 1,0 2.3,0a1.15,1.15 0 1,0 -2.3,0M141.6,282.1a1.15,1.15 0 1,0 2.3,0a1.15,1.15 0 1,0 -2.3,0M138.2,281.5a1.15,1.15 0 1,0 2.3,0a1.15,1.15 0 1,0 -2.3,0M133.1,279a1.15,1.15 0 1,0 2.3,0a1.15,1.15 0 1,0 -2.3,0M81.9,279a1.15,1.15 0 1,0 2.3,0a1.15,1.15 0 1,0 -2.3,0M88.2,285.9a1.15,1.15 0 1,0 2.3,0a1.15,1.15 0 1,0 -2.3,0M84.2,293.5a1.15,1.15 0 1,0 2.3,0a1.15,1.15 0 1,0 -2.3,0M83.6,296.3a1.15,1.15 0 1,0 2.3,0a1.15,1.15 0 1,0 -2.3,0M83.6,303.1a1.15,1.15 0 1,0 2.3,0a1.15,1.15 0 1,0 -2.3,0M87.6,304.3a1.15,1.15 0 1,0 2.3,0a1.15,1.15 0 1,0 -2.3,0M76.3,306.5a1.15,1.15 0 1,0 2.3,0a1.15,1.15 0 1,0 -2.3,0M80.2,308.2a1.15,1.15 0 1,0 2.3,0a1.15,1.15 0 1,0 -2.3,0M88.8,311.7a1.15,1.15 0 1,0 2.3,0a1.15,1.15 0 1,0 -2.3,0M91.6,312.8a1.15,1.15 0 1,0 2.3,0a1.15,1.15 0 1,0 -2.3,0M96.7,311.1a1.15,1.15 0 1,0 2.3,0a1.15,1.15 0 1,0 -2.3,0M106.9,311.3a1.15,1.15 0 1,0 2.3,0a1.15,1.15 0 1,0 -2.3,0M104.1,313.9a1.15,1.15 0 1,0 2.3,0a1.15,1.15 0 1,0 -2.3,0M78.5,313.9a1.15,1.15 0 1,0 2.3,0a1.15,1.15 0 1,0 -2.3,0M76.8,315.6a1.15,1.15 0 1,0 2.3,0a1.15,1.15 0 1,0 -2.3,0M79.7,316.8a1.15,1.15 0 1,0 2.3,0a1.15,1.15 0 1,0 -2.3,0M86.5,315.6a1.15,1.15 0 1,0 2.3,0a1.15,1.15 0 1,0 -2.3,0M77.4,320a1.15,1.15 0 1,0 2.3,0a1.15,1.15 0 1,0 -2.3,0M91.6,320a1.15,1.15 0 1,0 2.3,0a1.15,1.15 0 1,0 -2.3,0M93.3,321.3a1.15,1.15 0 1,0 2.3,0a1.15,1.15 0 1,0 -2.3,0M95.6,323a1.15,1.15 0 1,0 2.3,0a1.15,1.15 0 1,0 -2.3,0M84.8,323.6a1.15,1.15 0 1,0 2.3,0a1.15,1.15 0 1,0 -2.3,0M104.1,323.4a1.15,1.15 0 1,0 2.3,0a1.15,1.15 0 1,0 -2.3,0M121.1,306.5a1.15,1.15 0 1,0 2.3,0a1.15,1.15 0 1,0 -2.3,0M133.1,317.9a1.15,1.15 0 1,0 2.3,0a1.15,1.15 0 1,0 -2.3,0M137.1,295.2a1.15,1.15 0 1,0 2.3,0a1.15,1.15 0 1,0 -2.3,0M137.1,291.2a1.15,1.15 0 1,0 2.3,0a1.15,1.15 0 1,0 -2.3,0M134.8,288.9a1.15,1.15 0 1,0 2.3,0a1.15,1.15 0 1,0 -2.3,0M101.2,305.3a1.15,1.15 0 1,0 2.3,0a1.15,1.15 0 1,0 -2.3,0M111.3,295.9a1.15,1.15 0 1,0 2.3,0a1.15,1.15 0 1,0 -2.3,0M129.4,285.6a1.15,1.15 0 1,0 2.3,0a1.15,1.15 0 1,0 -2.3,0M103.8,266.8a1.15,1.15 0 1,0 2.3,0a1.15,1.15 0 1,0 -2.3,0M123.9,288a1.15,1.15 0 1,0 2.3,0a1.15,1.15 0 1,0 -2.3,0M115.4,298.5a1.15,1.15 0 1,0 2.3,0a1.15,1.15 0 1,0 -2.3,0M116,270.2a1.15,1.15 0 1,0 2.3,0a1.15,1.15 0 1,0 -2.3,0M102.6,271a1.15,1.15 0 1,0 2.3,0a1.15,1.15 0 1,0 -2.3,0M107.7,261.9a1.15,1.15 0 1,0 2.3,0a1.15,1.15 0 1,0 -2.3,0M110.3,300.7a1.15,1.15 0 1,0 2.3,0a1.15,1.15 0 1,0 -2.3,0M108.6,295a1.15,1.15 0 1,0 2.3,0a1.15,1.15 0 1,0 -2.3,0M101.1,278.4a1.15,1.15 0 1,0 2.3,0a1.15,1.15 0 1,0 -2.3,0M130.4,290.6a1.15,1.15 0 1,0 2.3,0a1.15,1.15 0 1,0 -2.3,0M112.8,284.8a1.15,1.15 0 1,0 2.3,0a1.15,1.15 0 1,0 -2.3,0M123.1,268.5a1.15,1.15 0 1,0 2.3,0a1.15,1.15 0 1,0 -2.3,0M129.8,284.9a1.15,1.15 0 1,0 2.3,0a1.15,1.15 0 1,0 -2.3,0M126.2,274.8a1.15,1.15 0 1,0 2.3,0a1.15,1.15 0 1,0 -2.3,0M109.2,262.6a1.15,1.15 0 1,0 2.3,0a1.15,1.15 0 1,0 -2.3,0M102,266.9a1.15,1.15 0 1,0 2.3,0a1.15,1.15 0 1,0 -2.3,0M104.5,262.6a1.15,1.15 0 1,0 2.3,0a1.15,1.15 0 1,0 -2.3,0M96.4,299a1.15,1.15 0 1,0 2.3,0a1.15,1.15 0 1,0 -2.3,0M115.9,283.5a1.15,1.15 0 1,0 2.3,0a1.15,1.15 0 1,0 -2.3,0M123.1,293.5a1.15,1.15 0 1,0 2.3,0a1.15,1.15 0 1,0 -2.3,0M125.4,278a1.15,1.15 0 1,0 2.3,0a1.15,1.15 0 1,0 -2.3,0M98.6,287a1.15,1.15 0 1,0 2.3,0a1.15,1.15 0 1,0 -2.3,0M131.5,284.5a1.15,1.15 0 1,0 2.3,0a1.15,1.15 0 1,0 -2.3,0M111.6,261.7a1.15,1.15 0 1,0 2.3,0a1.15,1.15 0 1,0 -2.3,0M102,295.6a1.15,1.15 0 1,0 2.3,0a1.15,1.15 0 1,0 -2.3,0M111.9,267.9a1.15,1.15 0 1,0 2.3,0a1.15,1.15 0 1,0 -2.3,0M136.8,290.7a1.15,1.15 0 1,0 2.3,0a1.15,1.15 0 1,0 -2.3,0M112,297.6a1.15,1.15 0 1,0 2.3,0a1.15,1.15 0 1,0 -2.3,0M105.1,283a1.15,1.15 0 1,0 2.3,0a1.15,1.15 0 1,0 -2.3,0M118.6,285.4a1.15,1.15 0 1,0 2.3,0a1.15,1.15 0 1,0 -2.3,0M96.8,302.6a1.15,1.15 0 1,0 2.3,0a1.15,1.15 0 1,0 -2.3,0M127.7,272.3a1.15,1.15 0 1,0 2.3,0a1.15,1.15 0 1,0 -2.3,0M110.1,286.2a1.15,1.15 0 1,0 2.3,0a1.15,1.15 0 1,0 -2.3,0M125,281.5a1.15,1.15 0 1,0 2.3,0a1.15,1.15 0 1,0 -2.3,0M98.7,306.5a1.15,1.15 0 1,0 2.3,0a1.15,1.15 0 1,0 -2.3,0M108.7,266a1.15,1.15 0 1,0 2.3,0a1.15,1.15 0 1,0 -2.3,0M126.5,280.3a1.15,1.15 0 1,0 2.3,0a1.15,1.15 0 1,0 -2.3,0M89.8,308a1.15,1.15 0 1,0 2.3,0a1.15,1.15 0 1,0 -2.3,0M127.1,290a1.15,1.15 0 1,0 2.3,0a1.15,1.15 0 1,0 -2.3,0M112.7,283.9a1.15,1.15 0 1,0 2.3,0a1.15,1.15 0 1,0 -2.3,0M110,259.2a1.15,1.15 0 1,0 2.3,0a1.15,1.15 0 1,0 -2.3,0M132,284a1.15,1.15 0 1,0 2.3,0a1.15,1.15 0 1,0 -2.3,0M105.9,303.2a1.15,1.15 0 1,0 2.3,0a1.15,1.15 0 1,0 -2.3,0M130.3,295.8a1.15,1.15 0 1,0 2.3,0a1.15,1.15 0 1,0 -2.3,0M116.8,299.4a1.15,1.15 0 1,0 2.3,0a1.15,1.15 0 1,0 -2.3,0M123.7,291.2a1.15,1.15 0 1,0 2.3,0a1.15,1.15 0 1,0 -2.3,0M116.8,293.1a1.15,1.15 0 1,0 2.3,0a1.15,1.15 0 1,0 -2.3,0M113.9,272.7a1.15,1.15 0 1,0 2.3,0a1.15,1.15 0 1,0 -2.3,0M129.3,273a1.15,1.15 0 1,0 2.3,0a1.15,1.15 0 1,0 -2.3,0M120.4,291a1.15,1.15 0 1,0 2.3,0a1.15,1.15 0 1,0 -2.3,0M117.6,276.5a1.15,1.15 0 1,0 2.3,0a1.15,1.15 0 1,0 -2.3,0M107.1,293.5a1.15,1.15 0 1,0 2.3,0a1.15,1.15 0 1,0 -2.3,0M129.9,295.3a1.15,1.15 0 1,0 2.3,0a1.15,1.15 0 1,0 -2.3,0M106.5,298.3a1.15,1.15 0 1,0 2.3,0a1.15,1.15 0 1,0 -2.3,0M108.7,286.8a1.15,1.15 0 1,0 2.3,0a1.15,1.15 0 1,0 -2.3,0M118.6,281.3a1.15,1.15 0 1,0 2.3,0a1.15,1.15 0 1,0 -2.3,0M123.6,272.2a1.15,1.15 0 1,0 2.3,0a1.15,1.15 0 1,0 -2.3,0M130,276.3a1.15,1.15 0 1,0 2.3,0a1.15,1.15 0 1,0 -2.3,0M120.4,277a1.15,1.15 0 1,0 2.3,0a1.15,1.15 0 1,0 -2.3,0M106.8,263.6a1.15,1.15 0 1,0 2.3,0a1.15,1.15 0 1,0 -2.3,0M123.9,270.5a1.15,1.15 0 1,0 2.3,0a1.15,1.15 0 1,0 -2.3,0M112.4,294.7a1.15,1.15 0 1,0 2.3,0a1.15,1.15 0 1,0 -2.3,0M108.7,268.2a1.15,1.15 0 1,0 2.3,0a1.15,1.15 0 1,0 -2.3,0M106.7,263.5a1.15,1.15 0 1,0 2.3,0a1.15,1.15 0 1,0 -2.3,0M107.6,284.8a1.15,1.15 0 1,0 2.3,0a1.15,1.15 0 1,0 -2.3,0M102.3,265.3a1.15,1.15 0 1,0 2.3,0a1.15,1.15 0 1,0 -2.3,0M110.8,295a1.15,1.15 0 1,0 2.3,0a1.15,1.15 0 1,0 -2.3,0M99.4,277.1a1.15,1.15 0 1,0 2.3,0a1.15,1.15 0 1,0 -2.3,0M98.9,302.6a1.15,1.15 0 1,0 2.3,0a1.15,1.15 0 1,0 -2.3,0M118.5,277.6a1.15,1.15 0 1,0 2.3,0a1.15,1.15 0 1,0 -2.3,0M108,275.4a1.15,1.15 0 1,0 2.3,0a1.15,1.15 0 1,0 -2.3,0M123.5,292.7a1.15,1.15 0 1,0 2.3,0a1.15,1.15 0 1,0 -2.3,0M126.4,269.6a1.15,1.15 0 1,0 2.3,0a1.15,1.15 0 1,0 -2.3,0M109.8,299.7a1.15,1.15 0 1,0 2.3,0a1.15,1.15 0 1,0 -2.3,0M125.9,278.8a1.15,1.15 0 1,0 2.3,0a1.15,1.15 0 1,0 -2.3,0M113.4,280.3a1.15,1.15 0 1,0 2.3,0a1.15,1.15 0 1,0 -2.3,0M116.5,288.8a1.15,1.15 0 1,0 2.3,0a1.15,1.15 0 1,0 -2.3,0M110.5,287a1.15,1.15 0 1,0 2.3,0a1.15,1.15 0 1,0 -2.3,0M114.7,298.6a1.15,1.15 0 1,0 2.3,0a1.15,1.15 0 1,0 -2.3,0M126.3,271a1.15,1.15 0 1,0 2.3,0a1.15,1.15 0 1,0 -2.3,0M107.4,269.6a1.15,1.15 0 1,0 2.3,0a1.15,1.15 0 1,0 -2.3,0M101.5,279.1a1.15,1.15 0 1,0 2.3,0a1.15,1.15 0 1,0 -2.3,0M109.1,263.8a1.15,1.15 0 1,0 2.3,0a1.15,1.15 0 1,0 -2.3,0M100.7,282.1a1.15,1.15 0 1,0 2.3,0a1.15,1.15 0 1,0 -2.3,0M105.5,286a1.15,1.15 0 1,0 2.3,0a1.15,1.15 0 1,0 -2.3,0M114.5,300.4a1.15,1.15 0 1,0 2.3,0a1.15,1.15 0 1,0 -2.3,0M105.2,267.5a1.15,1.15 0 1,0 2.3,0a1.15,1.15 0 1,0 -2.3,0M117.4,271a1.15,1.15 0 1,0 2.3,0a1.15,1.15 0 1,0 -2.3,0M99.6,298.4a1.15,1.15 0 1,0 2.3,0a1.15,1.15 0 1,0 -2.3,0M112,267.4a1.15,1.15 0 1,0 2.3,0a1.15,1.15 0 1,0 -2.3,0M124,273.1a1.15,1.15 0 1,0 2.3,0a1.15,1.15 0 1,0 -2.3,0M94.4,300.9a1.15,1.15 0 1,0 2.3,0a1.15,1.15 0 1,0 -2.3,0M121.6,287.4a1.15,1.15 0 1,0 2.3,0a1.15,1.15 0 1,0 -2.3,0M131.9,295.1a1.15,1.15 0 1,0 2.3,0a1.15,1.15 0 1,0 -2.3,0M112.3,274a1.15,1.15 0 1,0 2.3,0a1.15,1.15 0 1,0 -2.3,0M105.2,283.7a1.15,1.15 0 1,0 2.3,0a1.15,1.15 0 1,0 -2.3,0M117,272.6a1.15,1.15 0 1,0 2.3,0a1.15,1.15 0 1,0 -2.3,0M100.4,285a1.15,1.15 0 1,0 2.3,0a1.15,1.15 0 1,0 -2.3,0M132.5,292.2a1.15,1.15 0 1,0 2.3,0a1.15,1.15 0 1,0 -2.3,0M111.6,287.2a1.15,1.15 0 1,0 2.3,0a1.15,1.15 0 1,0 -2.3,0M128.3,280.7a1.15,1.15 0 1,0 2.3,0a1.15,1.15 0 1,0 -2.3,0M98.7,291.8a1.15,1.15 0 1,0 2.3,0a1.15,1.15 0 1,0 -2.3,0M127.5,285.4a1.15,1.15 0 1,0 2.3,0a1.15,1.15 0 1,0 -2.3,0M93.4,302.3a1.15,1.15 0 1,0 2.3,0a1.15,1.15 0 1,0 -2.3,0M125.4,290.9a1.15,1.15 0 1,0 2.3,0a1.15,1.15 0 1,0 -2.3,0M108.3,286.6a1.15,1.15 0 1,0 2.3,0a1.15,1.15 0 1,0 -2.3,0M104.1,296.7a1.15,1.15 0 1,0 2.3,0a1.15,1.15 0 1,0 -2.3,0M118.6,275.2a1.15,1.15 0 1,0 2.3,0a1.15,1.15 0 1,0 -2.3,0M107.3,294.3a1.15,1.15 0 1,0 2.3,0a1.15,1.15 0 1,0 -2.3,0M108.2,290.5a1.15,1.15 0 1,0 2.3,0a1.15,1.15 0 1,0 -2.3,0M110.3,272.9a1.15,1.15 0 1,0 2.3,0a1.15,1.15 0 1,0 -2.3,0M117.7,281.4a1.15,1.15 0 1,0 2.3,0a1.15,1.15 0 1,0 -2.3,0M127.8,298.3a1.15,1.15 0 1,0 2.3,0a1.15,1.15 0 1,0 -2.3,0M124.4,293.4a1.15,1.15 0 1,0 2.3,0a1.15,1.15 0 1,0 -2.3,0M136,286a1.15,1.15 0 1,0 2.3,0a1.15,1.15 0 1,0 -2.3,0M105.8,290.3a1.15,1.15 0 1,0 2.3,0a1.15,1.15 0 1,0 -2.3,0M112.7,277a1.15,1.15 0 1,0 2.3,0a1.15,1.15 0 1,0 -2.3,0M120.7,295.3a1.15,1.15 0 1,0 2.3,0a1.15,1.15 0 1,0 -2.3,0M117.3,274.7a1.15,1.15 0 1,0 2.3,0a1.15,1.15 0 1,0 -2.3,0M112.5,258.9a1.15,1.15 0 1,0 2.3,0a1.15,1.15 0 1,0 -2.3,0M106.7,259.5a1.15,1.15 0 1,0 2.3,0a1.15,1.15 0 1,0 -2.3,0M97.5,299.1a1.15,1.15 0 1,0 2.3,0a1.15,1.15 0 1,0 -2.3,0M122.3,269.9a1.15,1.15 0 1,0 2.3,0a1.15,1.15 0 1,0 -2.3,0M107.9,261.3a1.15,1.15 0 1,0 2.3,0a1.15,1.15 0 1,0 -2.3,0M112.8,301a1.15,1.15 0 1,0 2.3,0a1.15,1.15 0 1,0 -2.3,0M116.4,273.4a1.15,1.15 0 1,0 2.3,0a1.15,1.15 0 1,0 -2.3,0M112.2,277.4a1.15,1.15 0 1,0 2.3,0a1.15,1.15 0 1,0 -2.3,0M118.7,280.4a1.15,1.15 0 1,0 2.3,0a1.15,1.15 0 1,0 -2.3,0M113.6,289.5a1.15,1.15 0 1,0 2.3,0a1.15,1.15 0 1,0 -2.3,0M103.1,266a1.15,1.15 0 1,0 2.3,0a1.15,1.15 0 1,0 -2.3,0M97,306a1.15,1.15 0 1,0 2.3,0a1.15,1.15 0 1,0 -2.3,0M106.5,269.5a1.15,1.15 0 1,0 2.3,0a1.15,1.15 0 1,0 -2.3,0M130.4,296.5a1.15,1.15 0 1,0 2.3,0a1.15,1.15 0 1,0 -2.3,0M125.9,287.9a1.15,1.15 0 1,0 2.3,0a1.15,1.15 0 1,0 -2.3,0M133.2,284.4a1.15,1.15 0 1,0 2.3,0a1.15,1.15 0 1,0 -2.3,0M101.8,284.8a1.15,1.15 0 1,0 2.3,0a1.15,1.15 0 1,0 -2.3,0M105,301.6a1.15,1.15 0 1,0 2.3,0a1.15,1.15 0 1,0 -2.3,0M118.1,300a1.15,1.15 0 1,0 2.3,0a1.15,1.15 0 1,0 -2.3,0M122.8,277.1a1.15,1.15 0 1,0 2.3,0a1.15,1.15 0 1,0 -2.3,0M129.9,292.8a1.15,1.15 0 1,0 2.3,0a1.15,1.15 0 1,0 -2.3,0M111.1,300a1.15,1.15 0 1,0 2.3,0a1.15,1.15 0 1,0 -2.3,0M117,275.1a1.15,1.15 0 1,0 2.3,0a1.15,1.15 0 1,0 -2.3,0M121.5,297.9a1.15,1.15 0 1,0 2.3,0a1.15,1.15 0 1,0 -2.3,0M94.4,307.5a1.15,1.15 0 1,0 2.3,0a1.15,1.15 0 1,0 -2.3,0M99.3,294a1.15,1.15 0 1,0 2.3,0a1.15,1.15 0 1,0 -2.3,0M107.6,263.9a1.15,1.15 0 1,0 2.3,0a1.15,1.15 0 1,0 -2.3,0M99.1,286.2a1.15,1.15 0 1,0 2.3,0a1.15,1.15 0 1,0 -2.3,0M100.2,271.5a1.15,1.15 0 1,0 2.3,0a1.15,1.15 0 1,0 -2.3,0M124.5,282.5a1.15,1.15 0 1,0 2.3,0a1.15,1.15 0 1,0 -2.3,0M113,266.8a1.15,1.15 0 1,0 2.3,0a1.15,1.15 0 1,0 -2.3,0M100.8,295.7a1.15,1.15 0 1,0 2.3,0a1.15,1.15 0 1,0 -2.3,0M106.5,290.2a1.15,1.15 0 1,0 2.3,0a1.15,1.15 0 1,0 -2.3,0M134.1,290.5a1.15,1.15 0 1,0 2.3,0a1.15,1.15 0 1,0 -2.3,0M101.6,305.7a1.15,1.15 0 1,0 2.3,0a1.15,1.15 0 1,0 -2.3,0M118.9,271.7a1.15,1.15 0 1,0 2.3,0a1.15,1.15 0 1,0 -2.3,0M95.4,300.9a1.15,1.15 0 1,0 2.3,0a1.15,1.15 0 1,0 -2.3,0M126.7,291.9a1.15,1.15 0 1,0 2.3,0a1.15,1.15 0 1,0 -2.3,0M123.2,278.5a1.15,1.15 0 1,0 2.3,0a1.15,1.15 0 1,0 -2.3,0M105.6,303.5a1.15,1.15 0 1,0 2.3,0a1.15,1.15 0 1,0 -2.3,0M121.2,267.9a1.15,1.15 0 1,0 2.3,0a1.15,1.15 0 1,0 -2.3,0M103.1,271.1a1.15,1.15 0 1,0 2.3,0a1.15,1.15 0 1,0 -2.3,0M103.7,282a1.15,1.15 0 1,0 2.3,0a1.15,1.15 0 1,0 -2.3,0M123.7,281.1a1.15,1.15 0 1,0 2.3,0a1.15,1.15 0 1,0 -2.3,0M119,276.1a1.15,1.15 0 1,0 2.3,0a1.15,1.15 0 1,0 -2.3,0M96.1,303.8a1.15,1.15 0 1,0 2.3,0a1.15,1.15 0 1,0 -2.3,0M127.5,284.6a1.15,1.15 0 1,0 2.3,0a1.15,1.15 0 1,0 -2.3,0M120.4,293.4a1.15,1.15 0 1,0 2.3,0a1.15,1.15 0 1,0 -2.3,0M115.2,275.7a1.15,1.15 0 1,0 2.3,0a1.15,1.15 0 1,0 -2.3,0M105.2,270.6a1.15,1.15 0 1,0 2.3,0a1.15,1.15 0 1,0 -2.3,0M127,273.9a1.15,1.15 0 1,0 2.3,0a1.15,1.15 0 1,0 -2.3,0M127.9,289a1.15,1.15 0 1,0 2.3,0a1.15,1.15 0 1,0 -2.3,0M106.1,287.4a1.15,1.15 0 1,0 2.3,0a1.15,1.15 0 1,0 -2.3,0M96,304.7a1.15,1.15 0 1,0 2.3,0a1.15,1.15 0 1,0 -2.3,0M123.3,276.2a1.15,1.15 0 1,0 2.3,0a1.15,1.15 0 1,0 -2.3,0M127.5,273.8a1.15,1.15 0 1,0 2.3,0a1.15,1.15 0 1,0 -2.3,0M117.7,290.3a1.15,1.15 0 1,0 2.3,0a1.15,1.15 0 1,0 -2.3,0M117.3,270.5a1.15,1.15 0 1,0 2.3,0a1.15,1.15 0 1,0 -2.3,0M104.5,272.5a1.15,1.15 0 1,0 2.3,0a1.15,1.15 0 1,0 -2.3,0M112.4,280.5a1.15,1.15 0 1,0 2.3,0a1.15,1.15 0 1,0 -2.3,0M111.4,274.9a1.15,1.15 0 1,0 2.3,0a1.15,1.15 0 1,0 -2.3,0M127.4,281.9a1.15,1.15 0 1,0 2.3,0a1.15,1.15 0 1,0 -2.3,0M109.9,281.6a1.15,1.15 0 1,0 2.3,0a1.15,1.15 0 1,0 -2.3,0M106.9,301.2a1.15,1.15 0 1,0 2.3,0a1.15,1.15 0 1,0 -2.3,0M112.8,297.2a1.15,1.15 0 1,0 2.3,0a1.15,1.15 0 1,0 -2.3,0M115,296.2a1.15,1.15 0 1,0 2.3,0a1.15,1.15 0 1,0 -2.3,0M108.9,301.1a1.15,1.15 0 1,0 2.3,0a1.15,1.15 0 1,0 -2.3,0M105.9,299.1a1.15,1.15 0 1,0 2.3,0a1.15,1.15 0 1,0 -2.3,0M100.5,297.6a1.15,1.15 0 1,0 2.3,0a1.15,1.15 0 1,0 -2.3,0M109.6,295.4a1.15,1.15 0 1,0 2.3,0a1.15,1.15 0 1,0 -2.3,0M93.5,300a1.15,1.15 0 1,0 2.3,0a1.15,1.15 0 1,0 -2.3,0M100.6,298.5a1.15,1.15 0 1,0 2.3,0a1.15,1.15 0 1,0 -2.3,0M111.1,300.4a1.15,1.15 0 1,0 2.3,0a1.15,1.15 0 1,0 -2.3,0M108.9,299.2a1.15,1.15 0 1,0 2.3,0a1.15,1.15 0 1,0 -2.3,0M104.6,298.1a1.15,1.15 0 1,0 2.3,0a1.15,1.15 0 1,0 -2.3,0M104.8,298.4a1.15,1.15 0 1,0 2.3,0a1.15,1.15 0 1,0 -2.3,0M111.9,295.3a1.15,1.15 0 1,0 2.3,0a1.15,1.15 0 1,0 -2.3,0M106.2,299.1a1.15,1.15 0 1,0 2.3,0a1.15,1.15 0 1,0 -2.3,0M100.8,304.1a1.15,1.15 0 1,0 2.3,0a1.15,1.15 0 1,0 -2.3,0M110.1,295.9a1.15,1.15 0 1,0 2.3,0a1.15,1.15 0 1,0 -2.3,0M105.1,301a1.15,1.15 0 1,0 2.3,0a1.15,1.15 0 1,0 -2.3,0M104.3,298.8a1.15,1.15 0 1,0 2.3,0a1.15,1.15 0 1,0 -2.3,0M105.4,297a1.15,1.15 0 1,0 2.3,0a1.15,1.15 0 1,0 -2.3,0M102.8,303.2a1.15,1.15 0 1,0 2.3,0a1.15,1.15 0 1,0 -2.3,0M97.7,302.1a1.15,1.15 0 1,0 2.3,0a1.15,1.15 0 1,0 -2.3,0M108.1,297.3a1.15,1.15 0 1,0 2.3,0a1.15,1.15 0 1,0 -2.3,0M103.7,303.2a1.15,1.15 0 1,0 2.3,0a1.15,1.15 0 1,0 -2.3,0M111.2,300.7a1.15,1.15 0 1,0 2.3,0a1.15,1.15 0 1,0 -2.3,0M99.8,300.7a1.15,1.15 0 1,0 2.3,0a1.15,1.15 0 1,0 -2.3,0M107,296.3a1.15,1.15 0 1,0 2.3,0a1.15,1.15 0 1,0 -2.3,0M97.8,304.8a1.15,1.15 0 1,0 2.3,0a1.15,1.15 0 1,0 -2.3,0M111.7,300.6a1.15,1.15 0 1,0 2.3,0a1.15,1.15 0 1,0 -2.3,0M112.7,295.6a1.15,1.15 0 1,0 2.3,0a1.15,1.15 0 1,0 -2.3,0M93.8,307.7a1.15,1.15 0 1,0 2.3,0a1.15,1.15 0 1,0 -2.3,0M99.4,305.5a1.15,1.15 0 1,0 2.3,0a1.15,1.15 0 1,0 -2.3,0M93.5,303.5a1.15,1.15 0 1,0 2.3,0a1.15,1.15 0 1,0 -2.3,0M89.7,307.9a1.15,1.15 0 1,0 2.3,0a1.15,1.15 0 1,0 -2.3,0M89.4,307.3a1.15,1.15 0 1,0 2.3,0a1.15,1.15 0 1,0 -2.3,0M95.5,304.8a1.15,1.15 0 1,0 2.3,0a1.15,1.15 0 1,0 -2.3,0M90.3,304a1.15,1.15 0 1,0 2.3,0a1.15,1.15 0 1,0 -2.3,0M93.9,307.9a1.15,1.15 0 1,0 2.3,0a1.15,1.15 0 1,0 -2.3,0M94.5,305.8a1.15,1.15 0 1,0 2.3,0a1.15,1.15 0 1,0 -2.3,0M92.1,304.4a1.15,1.15 0 1,0 2.3,0a1.15,1.15 0 1,0 -2.3,0M89.9,310.8a1.15,1.15 0 1,0 2.3,0a1.15,1.15 0 1,0 -2.3,0M97.9,305.9a1.15,1.15 0 1,0 2.3,0a1.15,1.15 0 1,0 -2.3,0M97.7,305.3a1.15,1.15 0 1,0 2.3,0a1.15,1.15 0 1,0 -2.3,0M92,306.5a1.15,1.15 0 1,0 2.3,0a1.15,1.15 0 1,0 -2.3,0M89.1,304.9a1.15,1.15 0 1,0 2.3,0a1.15,1.15 0 1,0 -2.3,0M87,307.1a1.15,1.15 0 1,0 2.3,0a1.15,1.15 0 1,0 -2.3,0M91.8,304.2a1.15,1.15 0 1,0 2.3,0a1.15,1.15 0 1,0 -2.3,0M100.4,305a1.15,1.15 0 1,0 2.3,0a1.15,1.15 0 1,0 -2.3,0"/>
<path fill="#1c1c1c" d="M276.7,289a1.15,1.15 0 1,0 2.3,0a1.15,1.15 0 1,0 -2.3,0M270.2,292a1.15,1.15 0 1,0 2.3,0a1.15,1.15 0 1,0 -2.3,0M278.5,298.9a1.15,1.15 0 1,0 2.3,0a1.15,1.15 0 1,0 -2.3,0M281.3,290a1.15,1.15 0 1,0 2.3,0a1.15,1.15 0 1,0 -2.3,0M272.8,289.1a1.15,1.15 0 1,0 2.3,0a1.15,1.15 0 1,0 -2.3,0M269.2,296.3a1.15,1.15 0 1,0 2.3,0a1.15,1.15 0 1,0 -2.3,0M276.9,296.9a1.15,1.15 0 1,0 2.3,0a1.15,1.15 0 1,0 -2.3,0M269.2,297.6a1.15,1.15 0 1,0 2.3,0a1.15,1.15 0 1,0 -2.3,0M279.8,288.7a1.15,1.15 0 1,0 2.3,0a1.15,1.15 0 1,0 -2.3,0M271.4,291a1.15,1.15 0 1,0 2.3,0a1.15,1.15 0 1,0 -2.3,0M282.4,293.8a1.15,1.15 0 1,0 2.3,0a1.15,1.15 0 1,0 -2.3,0M272.1,297a1.15,1.15 0 1,0 2.3,0a1.15,1.15 0 1,0 -2.3,0M277.9,289.3a1.15,1.15 0 1,0 2.3,0a1.15,1.15 0 1,0 -2.3,0M269.4,293a1.15,1.15 0 1,0 2.3,0a1.15,1.15 0 1,0 -2.3,0M276.7,294.2a1.15,1.15 0 1,0 2.3,0a1.15,1.15 0 1,0 -2.3,0M271.9,291.8a1.15,1.15 0 1,0 2.3,0a1.15,1.15 0 1,0 -2.3,0M270.1,302.9a1.15,1.15 0 1,0 2.3,0a1.15,1.15 0 1,0 -2.3,0M276.9,297.9a1.15,1.15 0 1,0 2.3,0a1.15,1.15 0 1,0 -2.3,0M268.3,299.7a1.15,1.15 0 1,0 2.3,0a1.15,1.15 0 1,0 -2.3,0M268.2,294.4a1.15,1.15 0 1,0 2.3,0a1.15,1.15 0 1,0 -2.3,0M275.3,299.1a1.15,1.15 0 1,0 2.3,0a1.15,1.15 0 1,0 -2.3,0M270.9,292.7a1.15,1.15 0 1,0 2.3,0a1.15,1.15 0 1,0 -2.3,0M269.1,303a1.15,1.15 0 1,0 2.3,0a1.15,1.15 0 1,0 -2.3,0M281,293.4a1.15,1.15 0 1,0 2.3,0a1.15,1.15 0 1,0 -2.3,0M277,294.7a1.15,1.15 0 1,0 2.3,0a1.15,1.15 0 1,0 -2.3,0M281.7,295.6a1.15,1.15 0 1,0 2.3,0a1.15,1.15 0 1,0 -2.3,0M270,292.4a1.15,1.15 0 1,0 2.3,0a1.15,1.15 0 1,0 -2.3,0M275.3,292.6a1.15,1.15 0 1,0 2.3,0a1.15,1.15 0 1,0 -2.3,0M272.4,292a1.15,1.15 0 1,0 2.3,0a1.15,1.15 0 1,0 -2.3,0M267.2,298.2a1.15,1.15 0 1,0 2.3,0a1.15,1.15 0 1,0 -2.3,0M279.5,295.1a1.15,1.15 0 1,0 2.3,0a1.15,1.15 0 1,0 -2.3,0M277.5,296.8a1.15,1.15 0 1,0 2.3,0a1.15,1.15 0 1,0 -2.3,0M270.1,298.4a1.15,1.15 0 1,0 2.3,0a1.15,1.15 0 1,0 -2.3,0M281,292.6a1.15,1.15 0 1,0 2.3,0a1.15,1.15 0 1,0 -2.3,0M274.3,291.4a1.15,1.15 0 1,0 2.3,0a1.15,1.15 0 1,0 -2.3,0M270.6,298.4a1.15,1.15 0 1,0 2.3,0a1.15,1.15 0 1,0 -2.3,0M276.2,291a1.15,1.15 0 1,0 2.3,0a1.15,1.15 0 1,0 -2.3,0M278.9,296.9a1.15,1.15 0 1,0 2.3,0a1.15,1.15 0 1,0 -2.3,0M279.2,296.7a1.15,1.15 0 1,0 2.3,0a1.15,1.15 0 1,0 -2.3,0M265.6,302.8a1.15,1.15 0 1,0 2.3,0a1.15,1.15 0 1,0 -2.3,0M266.5,300.2a1.15,1.15 0 1,0 2.3,0a1.15,1.15 0 1,0 -2.3,0M279,290.6a1.15,1.15 0 1,0 2.3,0a1.15,1.15 0 1,0 -2.3,0M273.8,297a1.15,1.15 0 1,0 2.3,0a1.15,1.15 0 1,0 -2.3,0M270,301.9a1.15,1.15 0 1,0 2.3,0a1.15,1.15 0 1,0 -2.3,0M272.9,291.9a1.15,1.15 0 1,0 2.3,0a1.15,1.15 0 1,0 -2.3,0M272.6,289.5a1.15,1.15 0 1,0 2.3,0a1.15,1.15 0 1,0 -2.3,0M267.9,303.9a1.15,1.15 0 1,0 2.3,0a1.15,1.15 0 1,0 -2.3,0M276.8,299.1a1.15,1.15 0 1,0 2.3,0a1.15,1.15 0 1,0 -2.3,0M276.3,292.7a1.15,1.15 0 1,0 2.3,0a1.15,1.15 0 1,0 -2.3,0M280.1,296.7a1.15,1.15 0 1,0 2.3,0a1.15,1.15 0 1,0 -2.3,0M281.2,298.5a1.15,1.15 0 1,0 2.3,0a1.15,1.15 0 1,0 -2.3,0M282.4,293.9a1.15,1.15 0 1,0 2.3,0a1.15,1.15 0 1,0 -2.3,0M279.9,288.1a1.15,1.15 0 1,0 2.3,0a1.15,1.15 0 1,0 -2.3,0M278.5,297.7a1.15,1.15 0 1,0 2.3,0a1.15,1.15 0 1,0 -2.3,0M265.7,301.1a1.15,1.15 0 1,0 2.3,0a1.15,1.15 0 1,0 -2.3,0M265.1,302.9a1.15,1.15 0 1,0 2.3,0a1.15,1.15 0 1,0 -2.3,0M282.5,289.1a1.15,1.15 0 1,0 2.3,0a1.15,1.15 0 1,0 -2.3,0M280,300a1.15,1.15 0 1,0 2.3,0a1.15,1.15 0 1,0 -2.3,0M267.1,298.7a1.15,1.15 0 1,0 2.3,0a1.15,1.15 0 1,0 -2.3,0M267,303.8a1.15,1.15 0 1,0 2.3,0a1.15,1.15 0 1,0 -2.3,0M277.7,297.4a1.15,1.15 0 1,0 2.3,0a1.15,1.15 0 1,0 -2.3,0M268.3,303.3a1.15,1.15 0 1,0 2.3,0a1.15,1.15 0 1,0 -2.3,0M282.6,290.9a1.15,1.15 0 1,0 2.3,0a1.15,1.15 0 1,0 -2.3,0M267.5,298.7a1.15,1.15 0 1,0 2.3,0a1.15,1.15 0 1,0 -2.3,0M273.1,298.6a1.15,1.15 0 1,0 2.3,0a1.15,1.15 0 1,0 -2.3,0M275,292.9a1.15,1.15 0 1,0 2.3,0a1.15,1.15 0 1,0 -2.3,0M274.2,299.9a1.15,1.15 0 1,0 2.3,0a1.15,1.15 0 1,0 -2.3,0M273.5,300.3a1.15,1.15 0 1,0 2.3,0a1.15,1.15 0 1,0 -2.3,0M276,303.1a1.15,1.15 0 1,0 2.3,0a1.15,1.15 0 1,0 -2.3,0M278.5,291.4a1.15,1.15 0 1,0 2.3,0a1.15,1.15 0 1,0 -2.3,0M265.2,302.8a1.15,1.15 0 1,0 2.3,0a1.15,1.15 0 1,0 -2.3,0M266.7,298.5a1.15,1.15 0 1,0 2.3,0a1.15,1.15 0 1,0 -2.3,0M267.1,303.3a1.15,1.15 0 1,0 2.3,0a1.15,1.15 0 1,0 -2.3,0M278.5,300.4a1.15,1.15 0 1,0 2.3,0a1.15,1.15 0 1,0 -2.3,0M277.5,293.4a1.15,1.15 0 1,0 2.3,0a1.15,1.15 0 1,0 -2.3,0M269.6,293.8a1.15,1.15 0 1,0 2.3,0a1.15,1.15 0 1,0 -2.3,0M280.2,298.9a1.15,1.15 0 1,0 2.3,0a1.15,1.15 0 1,0 -2.3,0M273.2,294.1a1.15,1.15 0 1,0 2.3,0a1.15,1.15 0 1,0 -2.3,0M268.9,299.1a1.15,1.15 0 1,0 2.3,0a1.15,1.15 0 1,0 -2.3,0M270.3,303.5a1.15,1.15 0 1,0 2.3,0a1.15,1.15 0 1,0 -2.3,0M271.4,304.1a1.15,1.15 0 1,0 2.3,0a1.15,1.15 0 1,0 -2.3,0M272.6,303.2a1.15,1.15 0 1,0 2.3,0a1.15,1.15 0 1,0 -2.3,0M280.5,300a1.15,1.15 0 1,0 2.3,0a1.15,1.15 0 1,0 -2.3,0M269,288.1a1.15,1.15 0 1,0 2.3,0a1.15,1.15 0 1,0 -2.3,0M278.7,285.9a1.15,1.15 0 1,0 2.3,0a1.15,1.15 0 1,0 -2.3,0M273.3,275.2a1.15,1.15 0 1,0 2.3,0a1.15,1.15 0 1,0 -2.3,0M285.5,279.7a1.15,1.15 0 1,0 2.3,0a1.15,1.15 0 1,0 -2.3,0M283.7,281.5a1.15,1.15 0 1,0 2.3,0a1.15,1.15 0 1,0 -2.3,0M284.1,282.8a1.15,1.15 0 1,0 2.3,0a1.15,1.15 0 1,0 -2.3,0M268.9,283.2a1.15,1.15 0 1,0 2.3,0a1.15,1.15 0 1,0 -2.3,0M268,285.9a1.15,1.15 0 1,0 2.3,0a1.15,1.15 0 1,0 -2.3,0M272.9,285.5a1.15,1.15 0 1,0 2.3,0a1.15,1.15 0 1,0 -2.3,0M273.3,286.8a1.15,1.15 0 1,0 2.3,0a1.15,1.15 0 1,0 -2.3,0M275.1,286.4a1.15,1.15 0 1,0 2.3,0a1.15,1.15 0 1,0 -2.3,0M278.3,284.6a1.15,1.15 0 1,0 2.3,0a1.15,1.15 0 1,0 -2.3,0M279.6,285a1.15,1.15 0 1,0 2.3,0a1.15,1.15 0 1,0 -2.3,0M282.3,285.9a1.15,1.15 0 1,0 2.3,0a1.15,1.15 0 1,0 -2.3,0M285,286.8a1.15,1.15 0 1,0 2.3,0a1.15,1.15 0 1,0 -2.3,0M286.8,288.6a1.15,1.15 0 1,0 2.3,0a1.15,1.15 0 1,0 -2.3,0M289.5,288.2a1.15,1.15 0 1,0 2.3,0a1.15,1.15 0 1,0 -2.3,0M287.7,287.3a1.15,1.15 0 1,0 2.3,0a1.15,1.15 0 1,0 -2.3,0M295.3,290.4a1.15,1.15 0 1,0 2.3,0a1.15,1.15 0 1,0 -2.3,0M290.8,296.7a1.15,1.15 0 1,0 2.3,0a1.15,1.15 0 1,0 -2.3,0M285,296.7a1.15,1.15 0 1,0 2.3,0a1.15,1.15 0 1,0 -2.3,0M285.9,298a1.15,1.15 0 1,0 2.3,0a1.15,1.15 0 1,0 -2.3,0M287.2,299.4a1.15,1.15 0 1,0 2.3,0a1.15,1.15 0 1,0 -2.3,0M282.3,300.7a1.15,1.15 0 1,0 2.3,0a1.15,1.15 0 1,0 -2.3,0M272.4,306.1a1.15,1.15 0 1,0 2.3,0a1.15,1.15 0 1,0 -2.3,0M261.2,295.4a1.15,1.15 0 1,0 2.3,0a1.15,1.15 0 1,0 -2.3,0M259,298.5a1.15,1.15 0 1,0 2.3,0a1.15,1.15 0 1,0 -2.3,0M263.5,298.9a1.15,1.15 0 1,0 2.3,0a1.15,1.15 0 1,0 -2.3,0M246.9,297.1a1.15,1.15 0 1,0 2.3,0a1.15,1.15 0 1,0 -2.3,0M250.9,297.6a1.15,1.15 0 1,0 2.3,0a1.15,1.15 0 1,0 -2.3,0M251.4,299.8a1.15,1.15 0 1,0 2.3,0a1.15,1.15 0 1,0 -2.3,0M250.5,302.1a1.15,1.15 0 1,0 2.3,0a1.15,1.15 0 1,0 -2.3,0M249.6,303.9a1.15,1.15 0 1,0 2.3,0a1.15,1.15 0 1,0 -2.3,0M252.7,304.8a1.15,1.15 0 1,0 2.3,0a1.15,1.15 0 1,0 -2.3,0M246.9,306.6a1.15,1.15 0 1,0 2.3,0a1.15,1.15 0 1,0 -2.3,0M247.8,307.5a1.15,1.15 0 1,0 2.3,0a1.15,1.15 0 1,0 -2.3,0M247.3,310.2a1.15,1.15 0 1,0 2.3,0a1.15,1.15 0 1,0 -2.3,0M249.1,311.9a1.15,1.15 0 1,0 2.3,0a1.15,1.15 0 1,0 -2.3,0M246.4,317.3a1.15,1.15 0 1,0 2.3,0a1.15,1.15 0 1,0 -2.3,0M249.1,317.8a1.15,1.15 0 1,0 2.3,0a1.15,1.15 0 1,0 -2.3,0M252.7,318.2a1.15,1.15 0 1,0 2.3,0a1.15,1.15 0 1,0 -2.3,0M254.5,319.6a1.15,1.15 0 1,0 2.3,0a1.15,1.15 0 1,0 -2.3,0M255.9,319.1a1.15,1.15 0 1,0 2.3,0a1.15,1.15 0 1,0 -2.3,0M253.6,321.4a1.15,1.15 0 1,0 2.3,0a1.15,1.15 0 1,0 -2.3,0M263.9,319.1a1.15,1.15 0 1,0 2.3,0a1.15,1.15 0 1,0 -2.3,0M268,320.5a1.15,1.15 0 1,0 2.3,0a1.15,1.15 0 1,0 -2.3,0M265.3,316.4a1.15,1.15 0 1,0 2.3,0a1.15,1.15 0 1,0 -2.3,0M268,316.4a1.15,1.15 0 1,0 2.3,0a1.15,1.15 0 1,0 -2.3,0M270.7,316.9a1.15,1.15 0 1,0 2.3,0a1.15,1.15 0 1,0 -2.3,0M275.1,314.2a1.15,1.15 0 1,0 2.3,0a1.15,1.15 0 1,0 -2.3,0M283.7,309.7a1.15,1.15 0 1,0 2.3,0a1.15,1.15 0 1,0 -2.3,0M270.2,311a1.15,1.15 0 1,0 2.3,0a1.15,1.15 0 1,0 -2.3,0M273.3,321.8a1.15,1.15 0 1,0 2.3,0a1.15,1.15 0 1,0 -2.3,0M277.8,322.3a1.15,1.15 0 1,0 2.3,0a1.15,1.15 0 1,0 -2.3,0M259.4,323.6a1.15,1.15 0 1,0 2.3,0a1.15,1.15 0 1,0 -2.3,0M261.2,323.6a1.15,1.15 0 1,0 2.3,0a1.15,1.15 0 1,0 -2.3,0M265.7,323.2a1.15,1.15 0 1,0 2.3,0a1.15,1.15 0 1,0 -2.3,0M268,323.2a1.15,1.15 0 1,0 2.3,0a1.15,1.15 0 1,0 -2.3,0"/>
<polygon fill="#1c1c1c" points="268.7,301.2 270.9,292.2 274.5,290.4 280.8,290.4 282.6,294 278.5,298 272.3,302.1"/>
<path fill="#1c1c1c" d="M422.3,303.8a1.15,1.15 0 1,0 2.3,0a1.15,1.15 0 1,0 -2.3,0M417.8,306.8a1.15,1.15 0 1,0 2.3,0a1.15,1.15 0 1,0 -2.3,0M419,307.4a1.15,1.15 0 1,0 2.3,0a1.15,1.15 0 1,0 -2.3,0M416.9,311.3a1.15,1.15 0 1,0 2.3,0a1.15,1.15 0 1,0 -2.3,0M441.2,304.1a1.15,1.15 0 1,0 2.3,0a1.15,1.15 0 1,0 -2.3,0M442.4,304.4a1.15,1.15 0 1,0 2.3,0a1.15,1.15 0 1,0 -2.3,0M437.6,315.1a1.15,1.15 0 1,0 2.3,0a1.15,1.15 0 1,0 -2.3,0M437.6,318.1a1.15,1.15 0 1,0 2.3,0a1.15,1.15 0 1,0 -2.3,0M435.5,319.3a1.15,1.15 0 1,0 2.3,0a1.15,1.15 0 1,0 -2.3,0M436.1,320.2a1.15,1.15 0 1,0 2.3,0a1.15,1.15 0 1,0 -2.3,0M420.5,318.7a1.15,1.15 0 1,0 2.3,0a1.15,1.15 0 1,0 -2.3,0M422,321.7a1.15,1.15 0 1,0 2.3,0a1.15,1.15 0 1,0 -2.3,0M419.6,323.8a1.15,1.15 0 1,0 2.3,0a1.15,1.15 0 1,0 -2.3,0M425.6,323.8a1.15,1.15 0 1,0 2.3,0a1.15,1.15 0 1,0 -2.3,0M430.1,321.1a1.15,1.15 0 1,0 2.3,0a1.15,1.15 0 1,0 -2.3,0"/>
<polygon fill="#1c1c1c" points="426.9,313.2 428.6,310.7 434,305.4 439.6,300.2 444.4,295.7 447,296.3 445.8,299.6 441.6,303.5 438.6,307.5 433.2,311 429.3,314.7 427.7,314.7"/>
<path fill="#1c1c1c" d="M596.9,287.1a1.15,1.15 0 1,0 2.3,0a1.15,1.15 0 1,0 -2.3,0M605.8,301.7a1.15,1.15 0 1,0 2.3,0a1.15,1.15 0 1,0 -2.3,0M586.6,305.4a1.15,1.15 0 1,0 2.3,0a1.15,1.15 0 1,0 -2.3,0M590.7,305.2a1.15,1.15 0 1,0 2.3,0a1.15,1.15 0 1,0 -2.3,0M596.7,304.5a1.15,1.15 0 1,0 2.3,0a1.15,1.15 0 1,0 -2.3,0M598.2,304.1a1.15,1.15 0 1,0 2.3,0a1.15,1.15 0 1,0 -2.3,0M599.3,303.8a1.15,1.15 0 1,0 2.3,0a1.15,1.15 0 1,0 -2.3,0M587.3,310.3a1.15,1.15 0 1,0 2.3,0a1.15,1.15 0 1,0 -2.3,0M587.3,311.4a1.15,1.15 0 1,0 2.3,0a1.15,1.15 0 1,0 -2.3,0M590.7,310.6a1.15,1.15 0 1,0 2.3,0a1.15,1.15 0 1,0 -2.3,0M592.2,308.8a1.15,1.15 0 1,0 2.3,0a1.15,1.15 0 1,0 -2.3,0M605.6,312.1a1.15,1.15 0 1,0 2.3,0a1.15,1.15 0 1,0 -2.3,0M609,313.6a1.15,1.15 0 1,0 2.3,0a1.15,1.15 0 1,0 -2.3,0M604.9,315.1a1.15,1.15 0 1,0 2.3,0a1.15,1.15 0 1,0 -2.3,0M599.6,315a1.15,1.15 0 1,0 2.3,0a1.15,1.15 0 1,0 -2.3,0M591.8,317.7a1.15,1.15 0 1,0 2.3,0a1.15,1.15 0 1,0 -2.3,0M595.2,320.4a1.15,1.15 0 1,0 2.3,0a1.15,1.15 0 1,0 -2.3,0M598.5,319.6a1.15,1.15 0 1,0 2.3,0a1.15,1.15 0 1,0 -2.3,0M601.9,318.7a1.15,1.15 0 1,0 2.3,0a1.15,1.15 0 1,0 -2.3,0M607.1,319.6a1.15,1.15 0 1,0 2.3,0a1.15,1.15 0 1,0 -2.3,0M586.9,323a1.15,1.15 0 1,0 2.3,0a1.15,1.15 0 1,0 -2.3,0M595.9,323.3a1.15,1.15 0 1,0 2.3,0a1.15,1.15 0 1,0 -2.3,0M598.9,323.2a1.15,1.15 0 1,0 2.3,0a1.15,1.15 0 1,0 -2.3,0M599.6,323.2a1.15,1.15 0 1,0 2.3,0a1.15,1.15 0 1,0 -2.3,0M605.6,323.2a1.15,1.15 0 1,0 2.3,0a1.15,1.15 0 1,0 -2.3,0M623.6,318.9a1.15,1.15 0 1,0 2.3,0a1.15,1.15 0 1,0 -2.3,0"/>
<polygon fill="#1c1c1c" points="594.9,314.5 599.2,309.6 602.1,308.6 603.6,310.2 601.8,313.3 597.3,316.5"/>
<path fill="#1c1c1c" d="M103.2,395.9a1.15,1.15 0 1,0 2.3,0a1.15,1.15 0 1,0 -2.3,0M103.2,398a1.15,1.15 0 1,0 2.3,0a1.15,1.15 0 1,0 -2.3,0M101.5,402.2a1.15,1.15 0 1,0 2.3,0a1.15,1.15 0 1,0 -2.3,0M103.2,402.6a1.15,1.15 0 1,0 2.3,0a1.15,1.15 0 1,0 -2.3,0M104.4,403.8a1.15,1.15 0 1,0 2.3,0a1.15,1.15 0 1,0 -2.3,0M109.4,403.8a1.15,1.15 0 1,0 2.3,0a1.15,1.15 0 1,0 -2.3,0M93.1,402.6a1.15,1.15 0 1,0 2.3,0a1.15,1.15 0 1,0 -2.3,0M90.2,407.2a1.15,1.15 0 1,0 2.3,0a1.15,1.15 0 1,0 -2.3,0M90.6,408.5a1.15,1.15 0 1,0 2.3,0a1.15,1.15 0 1,0 -2.3,0M95.2,407.6a1.15,1.15 0 1,0 2.3,0a1.15,1.15 0 1,0 -2.3,0M97.3,407.6a1.15,1.15 0 1,0 2.3,0a1.15,1.15 0 1,0 -2.3,0M91.4,411.4a1.15,1.15 0 1,0 2.3,0a1.15,1.15 0 1,0 -2.3,0M94,411.8a1.15,1.15 0 1,0 2.3,0a1.15,1.15 0 1,0 -2.3,0M95.6,411.4a1.15,1.15 0 1,0 2.3,0a1.15,1.15 0 1,0 -2.3,0M93.1,413.1a1.15,1.15 0 1,0 2.3,0a1.15,1.15 0 1,0 -2.3,0M91.4,414.3a1.15,1.15 0 1,0 2.3,0a1.15,1.15 0 1,0 -2.3,0M94.8,414.3a1.15,1.15 0 1,0 2.3,0a1.15,1.15 0 1,0 -2.3,0M90.2,416a1.15,1.15 0 1,0 2.3,0a1.15,1.15 0 1,0 -2.3,0M88.1,417.7a1.15,1.15 0 1,0 2.3,0a1.15,1.15 0 1,0 -2.3,0M89.8,418.1a1.15,1.15 0 1,0 2.3,0a1.15,1.15 0 1,0 -2.3,0M91.4,418.5a1.15,1.15 0 1,0 2.3,0a1.15,1.15 0 1,0 -2.3,0M96,418.1a1.15,1.15 0 1,0 2.3,0a1.15,1.15 0 1,0 -2.3,0M89.8,420.6a1.15,1.15 0 1,0 2.3,0a1.15,1.15 0 1,0 -2.3,0M92.3,421a1.15,1.15 0 1,0 2.3,0a1.15,1.15 0 1,0 -2.3,0M94,421.4a1.15,1.15 0 1,0 2.3,0a1.15,1.15 0 1,0 -2.3,0M91.4,423.5a1.15,1.15 0 1,0 2.3,0a1.15,1.15 0 1,0 -2.3,0M93.1,423.1a1.15,1.15 0 1,0 2.3,0a1.15,1.15 0 1,0 -2.3,0M89.8,425.6a1.15,1.15 0 1,0 2.3,0a1.15,1.15 0 1,0 -2.3,0M87.3,426.9a1.15,1.15 0 1,0 2.3,0a1.15,1.15 0 1,0 -2.3,0M112.4,409.7a1.15,1.15 0 1,0 2.3,0a1.15,1.15 0 1,0 -2.3,0M110.7,411.8a1.15,1.15 0 1,0 2.3,0a1.15,1.15 0 1,0 -2.3,0M122,412.6a1.15,1.15 0 1,0 2.3,0a1.15,1.15 0 1,0 -2.3,0M118.2,416.4a1.15,1.15 0 1,0 2.3,0a1.15,1.15 0 1,0 -2.3,0M87.7,433.6a1.15,1.15 0 1,0 2.3,0a1.15,1.15 0 1,0 -2.3,0M123.7,430.2a1.15,1.15 0 1,0 2.3,0a1.15,1.15 0 1,0 -2.3,0M144.1,383.8a1.15,1.15 0 1,0 2.3,0a1.15,1.15 0 1,0 -2.3,0M151.5,397.7a1.15,1.15 0 1,0 2.3,0a1.15,1.15 0 1,0 -2.3,0M151.5,401.3a1.15,1.15 0 1,0 2.3,0a1.15,1.15 0 1,0 -2.3,0M141.2,402.2a1.15,1.15 0 1,0 2.3,0a1.15,1.15 0 1,0 -2.3,0M133.1,405.1a1.15,1.15 0 1,0 2.3,0a1.15,1.15 0 1,0 -2.3,0M138.7,405.1a1.15,1.15 0 1,0 2.3,0a1.15,1.15 0 1,0 -2.3,0M141.6,406.1a1.15,1.15 0 1,0 2.3,0a1.15,1.15 0 1,0 -2.3,0M172.1,405.1a1.15,1.15 0 1,0 2.3,0a1.15,1.15 0 1,0 -2.3,0M139.9,410.1a1.15,1.15 0 1,0 2.3,0a1.15,1.15 0 1,0 -2.3,0M142,411.6a1.15,1.15 0 1,0 2.3,0a1.15,1.15 0 1,0 -2.3,0M146.6,411a1.15,1.15 0 1,0 2.3,0a1.15,1.15 0 1,0 -2.3,0M147,412.2a1.15,1.15 0 1,0 2.3,0a1.15,1.15 0 1,0 -2.3,0M151.6,409.7a1.15,1.15 0 1,0 2.3,0a1.15,1.15 0 1,0 -2.3,0M155.1,410.3a1.15,1.15 0 1,0 2.3,0a1.15,1.15 0 1,0 -2.3,0M153.7,413.5a1.15,1.15 0 1,0 2.3,0a1.15,1.15 0 1,0 -2.3,0M132,413.6a1.15,1.15 0 1,0 2.3,0a1.15,1.15 0 1,0 -2.3,0M136.6,413.1a1.15,1.15 0 1,0 2.3,0a1.15,1.15 0 1,0 -2.3,0M137.4,414.3a1.15,1.15 0 1,0 2.3,0a1.15,1.15 0 1,0 -2.3,0M141.2,415.6a1.15,1.15 0 1,0 2.3,0a1.15,1.15 0 1,0 -2.3,0M142,416.8a1.15,1.15 0 1,0 2.3,0a1.15,1.15 0 1,0 -2.3,0M144.9,416.7a1.15,1.15 0 1,0 2.3,0a1.15,1.15 0 1,0 -2.3,0M147.6,416.4a1.15,1.15 0 1,0 2.3,0a1.15,1.15 0 1,0 -2.3,0M143.3,421.8a1.15,1.15 0 1,0 2.3,0a1.15,1.15 0 1,0 -2.3,0M147.4,422.3a1.15,1.15 0 1,0 2.3,0a1.15,1.15 0 1,0 -2.3,0M151.6,422.7a1.15,1.15 0 1,0 2.3,0a1.15,1.15 0 1,0 -2.3,0M156.5,420.8a1.15,1.15 0 1,0 2.3,0a1.15,1.15 0 1,0 -2.3,0M162.9,421a1.15,1.15 0 1,0 2.3,0a1.15,1.15 0 1,0 -2.3,0M175.5,421.8a1.15,1.15 0 1,0 2.3,0a1.15,1.15 0 1,0 -2.3,0M128.6,422.7a1.15,1.15 0 1,0 2.3,0a1.15,1.15 0 1,0 -2.3,0M128.6,423.9a1.15,1.15 0 1,0 2.3,0a1.15,1.15 0 1,0 -2.3,0M134.7,423.9a1.15,1.15 0 1,0 2.3,0a1.15,1.15 0 1,0 -2.3,0M125.7,425.6a1.15,1.15 0 1,0 2.3,0a1.15,1.15 0 1,0 -2.3,0M137.8,426.9a1.15,1.15 0 1,0 2.3,0a1.15,1.15 0 1,0 -2.3,0M134.9,428.5a1.15,1.15 0 1,0 2.3,0a1.15,1.15 0 1,0 -2.3,0M144.5,426.4a1.15,1.15 0 1,0 2.3,0a1.15,1.15 0 1,0 -2.3,0M144.9,428.5a1.15,1.15 0 1,0 2.3,0a1.15,1.15 0 1,0 -2.3,0M152.5,427.3a1.15,1.15 0 1,0 2.3,0a1.15,1.15 0 1,0 -2.3,0M155,427.3a1.15,1.15 0 1,0 2.3,0a1.15,1.15 0 1,0 -2.3,0M156.6,424.8a1.15,1.15 0 1,0 2.3,0a1.15,1.15 0 1,0 -2.3,0M160.8,427.7a1.15,1.15 0 1,0 2.3,0a1.15,1.15 0 1,0 -2.3,0M160.8,429.8a1.15,1.15 0 1,0 2.3,0a1.15,1.15 0 1,0 -2.3,0M153.7,430.6a1.15,1.15 0 1,0 2.3,0a1.15,1.15 0 1,0 -2.3,0M147.4,431.9a1.15,1.15 0 1,0 2.3,0a1.15,1.15 0 1,0 -2.3,0M149.1,433.1a1.15,1.15 0 1,0 2.3,0a1.15,1.15 0 1,0 -2.3,0M136.1,432.9a1.15,1.15 0 1,0 2.3,0a1.15,1.15 0 1,0 -2.3,0M133.1,434.8a1.15,1.15 0 1,0 2.3,0a1.15,1.15 0 1,0 -2.3,0M141.2,434.8a1.15,1.15 0 1,0 2.3,0a1.15,1.15 0 1,0 -2.3,0M86,469.5a1.15,1.15 0 1,0 2.3,0a1.15,1.15 0 1,0 -2.3,0M84.7,474.8a1.15,1.15 0 1,0 2.3,0a1.15,1.15 0 1,0 -2.3,0M85.8,470.3a1.15,1.15 0 1,0 2.3,0a1.15,1.15 0 1,0 -2.3,0M90.7,471.6a1.15,1.15 0 1,0 2.3,0a1.15,1.15 0 1,0 -2.3,0M91.3,467.1a1.15,1.15 0 1,0 2.3,0a1.15,1.15 0 1,0 -2.3,0M85,471.4a1.15,1.15 0 1,0 2.3,0a1.15,1.15 0 1,0 -2.3,0M85.2,473.8a1.15,1.15 0 1,0 2.3,0a1.15,1.15 0 1,0 -2.3,0M91.4,464a1.15,1.15 0 1,0 2.3,0a1.15,1.15 0 1,0 -2.3,0M97.1,463a1.15,1.15 0 1,0 2.3,0a1.15,1.15 0 1,0 -2.3,0M90.6,469.9a1.15,1.15 0 1,0 2.3,0a1.15,1.15 0 1,0 -2.3,0M91.2,470.5a1.15,1.15 0 1,0 2.3,0a1.15,1.15 0 1,0 -2.3,0M95.5,464.9a1.15,1.15 0 1,0 2.3,0a1.15,1.15 0 1,0 -2.3,0M90.5,471.1a1.15,1.15 0 1,0 2.3,0a1.15,1.15 0 1,0 -2.3,0M96,466a1.15,1.15 0 1,0 2.3,0a1.15,1.15 0 1,0 -2.3,0M89.7,463.6a1.15,1.15 0 1,0 2.3,0a1.15,1.15 0 1,0 -2.3,0M92.1,468.2a1.15,1.15 0 1,0 2.3,0a1.15,1.15 0 1,0 -2.3,0M94.4,463a1.15,1.15 0 1,0 2.3,0a1.15,1.15 0 1,0 -2.3,0M90.9,469.5a1.15,1.15 0 1,0 2.3,0a1.15,1.15 0 1,0 -2.3,0M93.5,469.1a1.15,1.15 0 1,0 2.3,0a1.15,1.15 0 1,0 -2.3,0M86.6,474.2a1.15,1.15 0 1,0 2.3,0a1.15,1.15 0 1,0 -2.3,0M88.2,466.5a1.15,1.15 0 1,0 2.3,0a1.15,1.15 0 1,0 -2.3,0M92.9,470.4a1.15,1.15 0 1,0 2.3,0a1.15,1.15 0 1,0 -2.3,0M87.3,471.3a1.15,1.15 0 1,0 2.3,0a1.15,1.15 0 1,0 -2.3,0M95.7,464.7a1.15,1.15 0 1,0 2.3,0a1.15,1.15 0 1,0 -2.3,0M94.1,466.6a1.15,1.15 0 1,0 2.3,0a1.15,1.15 0 1,0 -2.3,0M84.4,474.9a1.15,1.15 0 1,0 2.3,0a1.15,1.15 0 1,0 -2.3,0M86.5,473.5a1.15,1.15 0 1,0 2.3,0a1.15,1.15 0 1,0 -2.3,0M94.4,462.9a1.15,1.15 0 1,0 2.3,0a1.15,1.15 0 1,0 -2.3,0M91,471.9a1.15,1.15 0 1,0 2.3,0a1.15,1.15 0 1,0 -2.3,0M84.7,475.5a1.15,1.15 0 1,0 2.3,0a1.15,1.15 0 1,0 -2.3,0M91.2,471.8a1.15,1.15 0 1,0 2.3,0a1.15,1.15 0 1,0 -2.3,0M97.5,463.1a1.15,1.15 0 1,0 2.3,0a1.15,1.15 0 1,0 -2.3,0M90.1,470.6a1.15,1.15 0 1,0 2.3,0a1.15,1.15 0 1,0 -2.3,0M91.6,469.7a1.15,1.15 0 1,0 2.3,0a1.15,1.15 0 1,0 -2.3,0M94.7,464.3a1.15,1.15 0 1,0 2.3,0a1.15,1.15 0 1,0 -2.3,0M92.7,436.8a1.15,1.15 0 1,0 2.3,0a1.15,1.15 0 1,0 -2.3,0M91.3,440.2a1.15,1.15 0 1,0 2.3,0a1.15,1.15 0 1,0 -2.3,0M93.8,443.7a1.15,1.15 0 1,0 2.3,0a1.15,1.15 0 1,0 -2.3,0M96,445.9a1.15,1.15 0 1,0 2.3,0a1.15,1.15 0 1,0 -2.3,0M101.7,443.7a1.15,1.15 0 1,0 2.3,0a1.15,1.15 0 1,0 -2.3,0M77.2,449.4a1.15,1.15 0 1,0 2.3,0a1.15,1.15 0 1,0 -2.3,0M90.8,447.7a1.15,1.15 0 1,0 2.3,0a1.15,1.15 0 1,0 -2.3,0M92.7,449a1.15,1.15 0 1,0 2.3,0a1.15,1.15 0 1,0 -2.3,0M98.1,449.4a1.15,1.15 0 1,0 2.3,0a1.15,1.15 0 1,0 -2.3,0M86.8,451.1a1.15,1.15 0 1,0 2.3,0a1.15,1.15 0 1,0 -2.3,0M81.4,453.7a1.15,1.15 0 1,0 2.3,0a1.15,1.15 0 1,0 -2.3,0M87.7,454a1.15,1.15 0 1,0 2.3,0a1.15,1.15 0 1,0 -2.3,0M86.4,456.1a1.15,1.15 0 1,0 2.3,0a1.15,1.15 0 1,0 -2.3,0M92.3,454.4a1.15,1.15 0 1,0 2.3,0a1.15,1.15 0 1,0 -2.3,0M94,455.2a1.15,1.15 0 1,0 2.3,0a1.15,1.15 0 1,0 -2.3,0M97.7,454.8a1.15,1.15 0 1,0 2.3,0a1.15,1.15 0 1,0 -2.3,0M99.8,455.7a1.15,1.15 0 1,0 2.3,0a1.15,1.15 0 1,0 -2.3,0M103.2,454a1.15,1.15 0 1,0 2.3,0a1.15,1.15 0 1,0 -2.3,0M104.4,455.7a1.15,1.15 0 1,0 2.3,0a1.15,1.15 0 1,0 -2.3,0M81,457.9a1.15,1.15 0 1,0 2.3,0a1.15,1.15 0 1,0 -2.3,0M83.9,458.6a1.15,1.15 0 1,0 2.3,0a1.15,1.15 0 1,0 -2.3,0M84.3,459.8a1.15,1.15 0 1,0 2.3,0a1.15,1.15 0 1,0 -2.3,0M87.7,459a1.15,1.15 0 1,0 2.3,0a1.15,1.15 0 1,0 -2.3,0M91.4,457.3a1.15,1.15 0 1,0 2.3,0a1.15,1.15 0 1,0 -2.3,0M92.7,459.8a1.15,1.15 0 1,0 2.3,0a1.15,1.15 0 1,0 -2.3,0M96.5,457.3a1.15,1.15 0 1,0 2.3,0a1.15,1.15 0 1,0 -2.3,0M97.7,464.9a1.15,1.15 0 1,0 2.3,0a1.15,1.15 0 1,0 -2.3,0M99,465.7a1.15,1.15 0 1,0 2.3,0a1.15,1.15 0 1,0 -2.3,0M101.9,466.1a1.15,1.15 0 1,0 2.3,0a1.15,1.15 0 1,0 -2.3,0M104,467a1.15,1.15 0 1,0 2.3,0a1.15,1.15 0 1,0 -2.3,0M105.7,467.6a1.15,1.15 0 1,0 2.3,0a1.15,1.15 0 1,0 -2.3,0M106.9,467.4a1.15,1.15 0 1,0 2.3,0a1.15,1.15 0 1,0 -2.3,0M109.9,467a1.15,1.15 0 1,0 2.3,0a1.15,1.15 0 1,0 -2.3,0M109.4,462.4a1.15,1.15 0 1,0 2.3,0a1.15,1.15 0 1,0 -2.3,0M99,469.5a1.15,1.15 0 1,0 2.3,0a1.15,1.15 0 1,0 -2.3,0M102.3,470.3a1.15,1.15 0 1,0 2.3,0a1.15,1.15 0 1,0 -2.3,0M104,471.1a1.15,1.15 0 1,0 2.3,0a1.15,1.15 0 1,0 -2.3,0M107.3,471.6a1.15,1.15 0 1,0 2.3,0a1.15,1.15 0 1,0 -2.3,0M98.1,472a1.15,1.15 0 1,0 2.3,0a1.15,1.15 0 1,0 -2.3,0M100.6,473.2a1.15,1.15 0 1,0 2.3,0a1.15,1.15 0 1,0 -2.3,0M99.8,475.7a1.15,1.15 0 1,0 2.3,0a1.15,1.15 0 1,0 -2.3,0M94,472.4a1.15,1.15 0 1,0 2.3,0a1.15,1.15 0 1,0 -2.3,0M91,475.3a1.15,1.15 0 1,0 2.3,0a1.15,1.15 0 1,0 -2.3,0M88.9,481.2a1.15,1.15 0 1,0 2.3,0a1.15,1.15 0 1,0 -2.3,0M118.6,456.9a1.15,1.15 0 1,0 2.3,0a1.15,1.15 0 1,0 -2.3,0M114.9,465.3a1.15,1.15 0 1,0 2.3,0a1.15,1.15 0 1,0 -2.3,0M117,465.7a1.15,1.15 0 1,0 2.3,0a1.15,1.15 0 1,0 -2.3,0M119.1,465.7a1.15,1.15 0 1,0 2.3,0a1.15,1.15 0 1,0 -2.3,0M123.2,465.7a1.15,1.15 0 1,0 2.3,0a1.15,1.15 0 1,0 -2.3,0M124.5,454a1.15,1.15 0 1,0 2.3,0a1.15,1.15 0 1,0 -2.3,0M82.2,473.7a1.15,1.15 0 1,0 2.3,0a1.15,1.15 0 1,0 -2.3,0M81.4,477a1.15,1.15 0 1,0 2.3,0a1.15,1.15 0 1,0 -2.3,0M136.1,440.6a1.15,1.15 0 1,0 2.3,0a1.15,1.15 0 1,0 -2.3,0M137.4,439.3a1.15,1.15 0 1,0 2.3,0a1.15,1.15 0 1,0 -2.3,0M145.6,439.8a1.15,1.15 0 1,0 2.3,0a1.15,1.15 0 1,0 -2.3,0M149,442a1.15,1.15 0 1,0 2.3,0a1.15,1.15 0 1,0 -2.3,0M157.9,440.4a1.15,1.15 0 1,0 2.3,0a1.15,1.15 0 1,0 -2.3,0M129.9,451.2a1.15,1.15 0 1,0 2.3,0a1.15,1.15 0 1,0 -2.3,0M125.3,454a1.15,1.15 0 1,0 2.3,0a1.15,1.15 0 1,0 -2.3,0M142,452.7a1.15,1.15 0 1,0 2.3,0a1.15,1.15 0 1,0 -2.3,0M143.7,454a1.15,1.15 0 1,0 2.3,0a1.15,1.15 0 1,0 -2.3,0M142.4,456.5a1.15,1.15 0 1,0 2.3,0a1.15,1.15 0 1,0 -2.3,0M156.6,453.7a1.15,1.15 0 1,0 2.3,0a1.15,1.15 0 1,0 -2.3,0M148.3,458.6a1.15,1.15 0 1,0 2.3,0a1.15,1.15 0 1,0 -2.3,0M146.6,460.7a1.15,1.15 0 1,0 2.3,0a1.15,1.15 0 1,0 -2.3,0M131.1,460.7a1.15,1.15 0 1,0 2.3,0a1.15,1.15 0 1,0 -2.3,0M136.4,459.8a1.15,1.15 0 1,0 2.3,0a1.15,1.15 0 1,0 -2.3,0M141.6,461.8a1.15,1.15 0 1,0 2.3,0a1.15,1.15 0 1,0 -2.3,0M137.4,462.6a1.15,1.15 0 1,0 2.3,0a1.15,1.15 0 1,0 -2.3,0M133.6,462.9a1.15,1.15 0 1,0 2.3,0a1.15,1.15 0 1,0 -2.3,0M136.6,464.9a1.15,1.15 0 1,0 2.3,0a1.15,1.15 0 1,0 -2.3,0M134.9,467.6a1.15,1.15 0 1,0 2.3,0a1.15,1.15 0 1,0 -2.3,0M126.1,464.9a1.15,1.15 0 1,0 2.3,0a1.15,1.15 0 1,0 -2.3,0M128.2,465.7a1.15,1.15 0 1,0 2.3,0a1.15,1.15 0 1,0 -2.3,0M129.9,465.3a1.15,1.15 0 1,0 2.3,0a1.15,1.15 0 1,0 -2.3,0M131.5,464.9a1.15,1.15 0 1,0 2.3,0a1.15,1.15 0 1,0 -2.3,0M142.4,465.3a1.15,1.15 0 1,0 2.3,0a1.15,1.15 0 1,0 -2.3,0M143.7,466.5a1.15,1.15 0 1,0 2.3,0a1.15,1.15 0 1,0 -2.3,0M145.4,464.9a1.15,1.15 0 1,0 2.3,0a1.15,1.15 0 1,0 -2.3,0M147,465.3a1.15,1.15 0 1,0 2.3,0a1.15,1.15 0 1,0 -2.3,0M148.7,464.9a1.15,1.15 0 1,0 2.3,0a1.15,1.15 0 1,0 -2.3,0M149.5,467.4a1.15,1.15 0 1,0 2.3,0a1.15,1.15 0 1,0 -2.3,0M145.8,467.8a1.15,1.15 0 1,0 2.3,0a1.15,1.15 0 1,0 -2.3,0M147.9,470.3a1.15,1.15 0 1,0 2.3,0a1.15,1.15 0 1,0 -2.3,0M146.6,469.1a1.15,1.15 0 1,0 2.3,0a1.15,1.15 0 1,0 -2.3,0"/>
<polygon fill="#1c1c1c" points="88,471.1 90.1,466.1 94.3,462.8 97.2,463.6 95.9,467.4 92.2,470.7 89.2,472.8"/>
<path fill="#1c1c1c" d="M270,398.5a1.15,1.15 0 1,0 2.3,0a1.15,1.15 0 1,0 -2.3,0M265.4,401.5a1.15,1.15 0 1,0 2.3,0a1.15,1.15 0 1,0 -2.3,0M272.7,404.2a1.15,1.15 0 1,0 2.3,0a1.15,1.15 0 1,0 -2.3,0M261.8,405.8a1.15,1.15 0 1,0 2.3,0a1.15,1.15 0 1,0 -2.3,0M266.2,405.6a1.15,1.15 0 1,0 2.3,0a1.15,1.15 0 1,0 -2.3,0M266,409a1.15,1.15 0 1,0 2.3,0a1.15,1.15 0 1,0 -2.3,0M270,408.2a1.15,1.15 0 1,0 2.3,0a1.15,1.15 0 1,0 -2.3,0M269.1,410.4a1.15,1.15 0 1,0 2.3,0a1.15,1.15 0 1,0 -2.3,0M273.7,410.2a1.15,1.15 0 1,0 2.3,0a1.15,1.15 0 1,0 -2.3,0M277.5,411.9a1.15,1.15 0 1,0 2.3,0a1.15,1.15 0 1,0 -2.3,0M261.8,410.2a1.15,1.15 0 1,0 2.3,0a1.15,1.15 0 1,0 -2.3,0M261,412.3a1.15,1.15 0 1,0 2.3,0a1.15,1.15 0 1,0 -2.3,0M263.4,411.9a1.15,1.15 0 1,0 2.3,0a1.15,1.15 0 1,0 -2.3,0M265,413.1a1.15,1.15 0 1,0 2.3,0a1.15,1.15 0 1,0 -2.3,0M266.6,413.9a1.15,1.15 0 1,0 2.3,0a1.15,1.15 0 1,0 -2.3,0M269.5,413.5a1.15,1.15 0 1,0 2.3,0a1.15,1.15 0 1,0 -2.3,0M262.2,415.1a1.15,1.15 0 1,0 2.3,0a1.15,1.15 0 1,0 -2.3,0M264.2,415.1a1.15,1.15 0 1,0 2.3,0a1.15,1.15 0 1,0 -2.3,0M265.8,415.1a1.15,1.15 0 1,0 2.3,0a1.15,1.15 0 1,0 -2.3,0M263.4,416.7a1.15,1.15 0 1,0 2.3,0a1.15,1.15 0 1,0 -2.3,0M263,418.3a1.15,1.15 0 1,0 2.3,0a1.15,1.15 0 1,0 -2.3,0M261.8,420.7a1.15,1.15 0 1,0 2.3,0a1.15,1.15 0 1,0 -2.3,0M263.8,420.7a1.15,1.15 0 1,0 2.3,0a1.15,1.15 0 1,0 -2.3,0M263.4,423.6a1.15,1.15 0 1,0 2.3,0a1.15,1.15 0 1,0 -2.3,0M262.2,426a1.15,1.15 0 1,0 2.3,0a1.15,1.15 0 1,0 -2.3,0M261.8,428.7a1.15,1.15 0 1,0 2.3,0a1.15,1.15 0 1,0 -2.3,0M265,430.4a1.15,1.15 0 1,0 2.3,0a1.15,1.15 0 1,0 -2.3,0M266.6,431.2a1.15,1.15 0 1,0 2.3,0a1.15,1.15 0 1,0 -2.3,0M268.3,431.6a1.15,1.15 0 1,0 2.3,0a1.15,1.15 0 1,0 -2.3,0M270.5,433a1.15,1.15 0 1,0 2.3,0a1.15,1.15 0 1,0 -2.3,0M268.9,424.1a1.15,1.15 0 1,0 2.3,0a1.15,1.15 0 1,0 -2.3,0M275.9,416.7a1.15,1.15 0 1,0 2.3,0a1.15,1.15 0 1,0 -2.3,0M251.3,415.7a1.15,1.15 0 1,0 2.3,0a1.15,1.15 0 1,0 -2.3,0M281.2,434.5a1.15,1.15 0 1,0 2.3,0a1.15,1.15 0 1,0 -2.3,0M298.5,406.1a1.15,1.15 0 1,0 2.3,0a1.15,1.15 0 1,0 -2.3,0M328.1,384.8a1.15,1.15 0 1,0 2.3,0a1.15,1.15 0 1,0 -2.3,0M313.5,390.2a1.15,1.15 0 1,0 2.3,0a1.15,1.15 0 1,0 -2.3,0M304.9,398.5a1.15,1.15 0 1,0 2.3,0a1.15,1.15 0 1,0 -2.3,0M306,401.4a1.15,1.15 0 1,0 2.3,0a1.15,1.15 0 1,0 -2.3,0M309.2,402.2a1.15,1.15 0 1,0 2.3,0a1.15,1.15 0 1,0 -2.3,0M315,401.4a1.15,1.15 0 1,0 2.3,0a1.15,1.15 0 1,0 -2.3,0M315.8,403.8a1.15,1.15 0 1,0 2.3,0a1.15,1.15 0 1,0 -2.3,0M311.8,404.2a1.15,1.15 0 1,0 2.3,0a1.15,1.15 0 1,0 -2.3,0M313.8,405.8a1.15,1.15 0 1,0 2.3,0a1.15,1.15 0 1,0 -2.3,0M315.8,406.2a1.15,1.15 0 1,0 2.3,0a1.15,1.15 0 1,0 -2.3,0M318.6,406.1a1.15,1.15 0 1,0 2.3,0a1.15,1.15 0 1,0 -2.3,0M323.5,403.8a1.15,1.15 0 1,0 2.3,0a1.15,1.15 0 1,0 -2.3,0M299.3,405.8a1.15,1.15 0 1,0 2.3,0a1.15,1.15 0 1,0 -2.3,0M309.3,406.9a1.15,1.15 0 1,0 2.3,0a1.15,1.15 0 1,0 -2.3,0M315.4,407.7a1.15,1.15 0 1,0 2.3,0a1.15,1.15 0 1,0 -2.3,0M307.6,409.3a1.15,1.15 0 1,0 2.3,0a1.15,1.15 0 1,0 -2.3,0M327.9,409a1.15,1.15 0 1,0 2.3,0a1.15,1.15 0 1,0 -2.3,0M325.5,410.4a1.15,1.15 0 1,0 2.3,0a1.15,1.15 0 1,0 -2.3,0M313,411.9a1.15,1.15 0 1,0 2.3,0a1.15,1.15 0 1,0 -2.3,0M315,411.5a1.15,1.15 0 1,0 2.3,0a1.15,1.15 0 1,0 -2.3,0M317,410.9a1.15,1.15 0 1,0 2.3,0a1.15,1.15 0 1,0 -2.3,0M319.8,412a1.15,1.15 0 1,0 2.3,0a1.15,1.15 0 1,0 -2.3,0M323.1,412.3a1.15,1.15 0 1,0 2.3,0a1.15,1.15 0 1,0 -2.3,0M330.7,413.6a1.15,1.15 0 1,0 2.3,0a1.15,1.15 0 1,0 -2.3,0M302.5,414.3a1.15,1.15 0 1,0 2.3,0a1.15,1.15 0 1,0 -2.3,0M304.9,415.9a1.15,1.15 0 1,0 2.3,0a1.15,1.15 0 1,0 -2.3,0M312.6,415.1a1.15,1.15 0 1,0 2.3,0a1.15,1.15 0 1,0 -2.3,0M300.3,417.7a1.15,1.15 0 1,0 2.3,0a1.15,1.15 0 1,0 -2.3,0M315.4,416.7a1.15,1.15 0 1,0 2.3,0a1.15,1.15 0 1,0 -2.3,0M316.2,417.9a1.15,1.15 0 1,0 2.3,0a1.15,1.15 0 1,0 -2.3,0M319.8,417.1a1.15,1.15 0 1,0 2.3,0a1.15,1.15 0 1,0 -2.3,0M320.6,417.5a1.15,1.15 0 1,0 2.3,0a1.15,1.15 0 1,0 -2.3,0M323.1,419.5a1.15,1.15 0 1,0 2.3,0a1.15,1.15 0 1,0 -2.3,0M303.3,422.2a1.15,1.15 0 1,0 2.3,0a1.15,1.15 0 1,0 -2.3,0M304.9,424a1.15,1.15 0 1,0 2.3,0a1.15,1.15 0 1,0 -2.3,0M311,422.8a1.15,1.15 0 1,0 2.3,0a1.15,1.15 0 1,0 -2.3,0M313.8,421.5a1.15,1.15 0 1,0 2.3,0a1.15,1.15 0 1,0 -2.3,0M321.9,422.4a1.15,1.15 0 1,0 2.3,0a1.15,1.15 0 1,0 -2.3,0M330.7,424.8a1.15,1.15 0 1,0 2.3,0a1.15,1.15 0 1,0 -2.3,0M339.2,422.8a1.15,1.15 0 1,0 2.3,0a1.15,1.15 0 1,0 -2.3,0M303.7,426.2a1.15,1.15 0 1,0 2.3,0a1.15,1.15 0 1,0 -2.3,0M308.5,427a1.15,1.15 0 1,0 2.3,0a1.15,1.15 0 1,0 -2.3,0M313,425.6a1.15,1.15 0 1,0 2.3,0a1.15,1.15 0 1,0 -2.3,0M320.2,425.4a1.15,1.15 0 1,0 2.3,0a1.15,1.15 0 1,0 -2.3,0M323.1,424.8a1.15,1.15 0 1,0 2.3,0a1.15,1.15 0 1,0 -2.3,0M325.5,426a1.15,1.15 0 1,0 2.3,0a1.15,1.15 0 1,0 -2.3,0M311,429.6a1.15,1.15 0 1,0 2.3,0a1.15,1.15 0 1,0 -2.3,0M311.8,430.8a1.15,1.15 0 1,0 2.3,0a1.15,1.15 0 1,0 -2.3,0M315.8,428.7a1.15,1.15 0 1,0 2.3,0a1.15,1.15 0 1,0 -2.3,0M318.2,428.8a1.15,1.15 0 1,0 2.3,0a1.15,1.15 0 1,0 -2.3,0M319.8,429.2a1.15,1.15 0 1,0 2.3,0a1.15,1.15 0 1,0 -2.3,0M327.9,428.4a1.15,1.15 0 1,0 2.3,0a1.15,1.15 0 1,0 -2.3,0M317.4,431.6a1.15,1.15 0 1,0 2.3,0a1.15,1.15 0 1,0 -2.3,0M319,432.8a1.15,1.15 0 1,0 2.3,0a1.15,1.15 0 1,0 -2.3,0M306.9,434.1a1.15,1.15 0 1,0 2.3,0a1.15,1.15 0 1,0 -2.3,0M309.3,435.3a1.15,1.15 0 1,0 2.3,0a1.15,1.15 0 1,0 -2.3,0M325.5,434.3a1.15,1.15 0 1,0 2.3,0a1.15,1.15 0 1,0 -2.3,0M261.4,461.5a1.15,1.15 0 1,0 2.3,0a1.15,1.15 0 1,0 -2.3,0M270.4,461.8a1.15,1.15 0 1,0 2.3,0a1.15,1.15 0 1,0 -2.3,0M263.4,467.3a1.15,1.15 0 1,0 2.3,0a1.15,1.15 0 1,0 -2.3,0M269.7,466.5a1.15,1.15 0 1,0 2.3,0a1.15,1.15 0 1,0 -2.3,0M271.9,463a1.15,1.15 0 1,0 2.3,0a1.15,1.15 0 1,0 -2.3,0M261.2,466a1.15,1.15 0 1,0 2.3,0a1.15,1.15 0 1,0 -2.3,0M295.7,439.6a1.15,1.15 0 1,0 2.3,0a1.15,1.15 0 1,0 -2.3,0M265.4,444.9a1.15,1.15 0 1,0 2.3,0a1.15,1.15 0 1,0 -2.3,0M263.6,447.3a1.15,1.15 0 1,0 2.3,0a1.15,1.15 0 1,0 -2.3,0M267.9,450.9a1.15,1.15 0 1,0 2.3,0a1.15,1.15 0 1,0 -2.3,0M261.6,452.9a1.15,1.15 0 1,0 2.3,0a1.15,1.15 0 1,0 -2.3,0M261.8,454.2a1.15,1.15 0 1,0 2.3,0a1.15,1.15 0 1,0 -2.3,0M257.4,455.4a1.15,1.15 0 1,0 2.3,0a1.15,1.15 0 1,0 -2.3,0M265.4,454.7a1.15,1.15 0 1,0 2.3,0a1.15,1.15 0 1,0 -2.3,0M267.9,456.6a1.15,1.15 0 1,0 2.3,0a1.15,1.15 0 1,0 -2.3,0M259.4,458.2a1.15,1.15 0 1,0 2.3,0a1.15,1.15 0 1,0 -2.3,0M264.2,458.6a1.15,1.15 0 1,0 2.3,0a1.15,1.15 0 1,0 -2.3,0M268.3,458.6a1.15,1.15 0 1,0 2.3,0a1.15,1.15 0 1,0 -2.3,0M277.5,456.2a1.15,1.15 0 1,0 2.3,0a1.15,1.15 0 1,0 -2.3,0M274.7,459.8a1.15,1.15 0 1,0 2.3,0a1.15,1.15 0 1,0 -2.3,0M251.7,459.8a1.15,1.15 0 1,0 2.3,0a1.15,1.15 0 1,0 -2.3,0M250.1,461.8a1.15,1.15 0 1,0 2.3,0a1.15,1.15 0 1,0 -2.3,0M252.5,463a1.15,1.15 0 1,0 2.3,0a1.15,1.15 0 1,0 -2.3,0M261,461a1.15,1.15 0 1,0 2.3,0a1.15,1.15 0 1,0 -2.3,0M262.6,462.6a1.15,1.15 0 1,0 2.3,0a1.15,1.15 0 1,0 -2.3,0M264.2,461.8a1.15,1.15 0 1,0 2.3,0a1.15,1.15 0 1,0 -2.3,0M265.8,461.8a1.15,1.15 0 1,0 2.3,0a1.15,1.15 0 1,0 -2.3,0M267.4,462.6a1.15,1.15 0 1,0 2.3,0a1.15,1.15 0 1,0 -2.3,0M269.1,461.8a1.15,1.15 0 1,0 2.3,0a1.15,1.15 0 1,0 -2.3,0M270.7,462.6a1.15,1.15 0 1,0 2.3,0a1.15,1.15 0 1,0 -2.3,0M272.3,463.4a1.15,1.15 0 1,0 2.3,0a1.15,1.15 0 1,0 -2.3,0M273.9,464.2a1.15,1.15 0 1,0 2.3,0a1.15,1.15 0 1,0 -2.3,0M263.4,464.2a1.15,1.15 0 1,0 2.3,0a1.15,1.15 0 1,0 -2.3,0M265,464.2a1.15,1.15 0 1,0 2.3,0a1.15,1.15 0 1,0 -2.3,0M266.6,465.1a1.15,1.15 0 1,0 2.3,0a1.15,1.15 0 1,0 -2.3,0M268.3,465.9a1.15,1.15 0 1,0 2.3,0a1.15,1.15 0 1,0 -2.3,0M262.6,467.1a1.15,1.15 0 1,0 2.3,0a1.15,1.15 0 1,0 -2.3,0M264.2,466.3a1.15,1.15 0 1,0 2.3,0a1.15,1.15 0 1,0 -2.3,0M272.3,466.7a1.15,1.15 0 1,0 2.3,0a1.15,1.15 0 1,0 -2.3,0M276.7,467.5a1.15,1.15 0 1,0 2.3,0a1.15,1.15 0 1,0 -2.3,0M280.4,468.3a1.15,1.15 0 1,0 2.3,0a1.15,1.15 0 1,0 -2.3,0M279.6,469.9a1.15,1.15 0 1,0 2.3,0a1.15,1.15 0 1,0 -2.3,0M275.5,471.5a1.15,1.15 0 1,0 2.3,0a1.15,1.15 0 1,0 -2.3,0M257.4,466.3a1.15,1.15 0 1,0 2.3,0a1.15,1.15 0 1,0 -2.3,0M248.7,467.5a1.15,1.15 0 1,0 2.3,0a1.15,1.15 0 1,0 -2.3,0M250.7,471.5a1.15,1.15 0 1,0 2.3,0a1.15,1.15 0 1,0 -2.3,0M261.4,475.5a1.15,1.15 0 1,0 2.3,0a1.15,1.15 0 1,0 -2.3,0M262.2,477.6a1.15,1.15 0 1,0 2.3,0a1.15,1.15 0 1,0 -2.3,0M265.4,477.6a1.15,1.15 0 1,0 2.3,0a1.15,1.15 0 1,0 -2.3,0M249.3,478a1.15,1.15 0 1,0 2.3,0a1.15,1.15 0 1,0 -2.3,0M249.7,479.6a1.15,1.15 0 1,0 2.3,0a1.15,1.15 0 1,0 -2.3,0M254.1,479.6a1.15,1.15 0 1,0 2.3,0a1.15,1.15 0 1,0 -2.3,0M275.1,478a1.15,1.15 0 1,0 2.3,0a1.15,1.15 0 1,0 -2.3,0M284.8,459.8a1.15,1.15 0 1,0 2.3,0a1.15,1.15 0 1,0 -2.3,0M288.8,458.4a1.15,1.15 0 1,0 2.3,0a1.15,1.15 0 1,0 -2.3,0M292.9,457.8a1.15,1.15 0 1,0 2.3,0a1.15,1.15 0 1,0 -2.3,0M297.7,458.6a1.15,1.15 0 1,0 2.3,0a1.15,1.15 0 1,0 -2.3,0M284,463.8a1.15,1.15 0 1,0 2.3,0a1.15,1.15 0 1,0 -2.3,0M286.4,462.6a1.15,1.15 0 1,0 2.3,0a1.15,1.15 0 1,0 -2.3,0M289.2,462.6a1.15,1.15 0 1,0 2.3,0a1.15,1.15 0 1,0 -2.3,0M291.7,463a1.15,1.15 0 1,0 2.3,0a1.15,1.15 0 1,0 -2.3,0M293.3,463.4a1.15,1.15 0 1,0 2.3,0a1.15,1.15 0 1,0 -2.3,0M294.9,463.4a1.15,1.15 0 1,0 2.3,0a1.15,1.15 0 1,0 -2.3,0M296.5,463.4a1.15,1.15 0 1,0 2.3,0a1.15,1.15 0 1,0 -2.3,0M298.1,463.4a1.15,1.15 0 1,0 2.3,0a1.15,1.15 0 1,0 -2.3,0M306.5,440.4a1.15,1.15 0 1,0 2.3,0a1.15,1.15 0 1,0 -2.3,0M315,444.2a1.15,1.15 0 1,0 2.3,0a1.15,1.15 0 1,0 -2.3,0M323.1,442.9a1.15,1.15 0 1,0 2.3,0a1.15,1.15 0 1,0 -2.3,0M314.2,447.9a1.15,1.15 0 1,0 2.3,0a1.15,1.15 0 1,0 -2.3,0M322.7,448.1a1.15,1.15 0 1,0 2.3,0a1.15,1.15 0 1,0 -2.3,0M327.1,449.3a1.15,1.15 0 1,0 2.3,0a1.15,1.15 0 1,0 -2.3,0M344.9,451.2a1.15,1.15 0 1,0 2.3,0a1.15,1.15 0 1,0 -2.3,0M305.3,452a1.15,1.15 0 1,0 2.3,0a1.15,1.15 0 1,0 -2.3,0M312.2,454.2a1.15,1.15 0 1,0 2.3,0a1.15,1.15 0 1,0 -2.3,0M313,453.4a1.15,1.15 0 1,0 2.3,0a1.15,1.15 0 1,0 -2.3,0M316,452.5a1.15,1.15 0 1,0 2.3,0a1.15,1.15 0 1,0 -2.3,0M318.1,455.4a1.15,1.15 0 1,0 2.3,0a1.15,1.15 0 1,0 -2.3,0M323.9,454.2a1.15,1.15 0 1,0 2.3,0a1.15,1.15 0 1,0 -2.3,0M325.6,456.3a1.15,1.15 0 1,0 2.3,0a1.15,1.15 0 1,0 -2.3,0M311,459.4a1.15,1.15 0 1,0 2.3,0a1.15,1.15 0 1,0 -2.3,0M313,458.8a1.15,1.15 0 1,0 2.3,0a1.15,1.15 0 1,0 -2.3,0M303.7,460.6a1.15,1.15 0 1,0 2.3,0a1.15,1.15 0 1,0 -2.3,0M303.3,461.8a1.15,1.15 0 1,0 2.3,0a1.15,1.15 0 1,0 -2.3,0M301.7,463a1.15,1.15 0 1,0 2.3,0a1.15,1.15 0 1,0 -2.3,0M300.1,463.8a1.15,1.15 0 1,0 2.3,0a1.15,1.15 0 1,0 -2.3,0M301.7,464.7a1.15,1.15 0 1,0 2.3,0a1.15,1.15 0 1,0 -2.3,0M306.9,463.3a1.15,1.15 0 1,0 2.3,0a1.15,1.15 0 1,0 -2.3,0M310.1,463.3a1.15,1.15 0 1,0 2.3,0a1.15,1.15 0 1,0 -2.3,0M313.5,465.5a1.15,1.15 0 1,0 2.3,0a1.15,1.15 0 1,0 -2.3,0M317.4,461.8a1.15,1.15 0 1,0 2.3,0a1.15,1.15 0 1,0 -2.3,0M317.8,463.4a1.15,1.15 0 1,0 2.3,0a1.15,1.15 0 1,0 -2.3,0M317.4,464.7a1.15,1.15 0 1,0 2.3,0a1.15,1.15 0 1,0 -2.3,0M328.1,463.3a1.15,1.15 0 1,0 2.3,0a1.15,1.15 0 1,0 -2.3,0"/>
<ellipse fill="#1c1c1c" cx="267.3" cy="464" rx="3.8" ry="3.2" transform="rotate(-20 267.3 464)"/>
<ellipse fill="#1c1c1c" cx="424.8" cy="474.1" rx="2.6" ry="2.1" transform="rotate(-50 424.8 474.1)"/>
<ellipse fill="#1c1c1c" cx="597" cy="472.1" rx="2.9" ry="2.5" transform="rotate(-30 597 472.1)"/>
<path fill="#1c1c1c" d="M88,543.2a1.15,1.15 0 1,0 2.3,0a1.15,1.15 0 1,0 -2.3,0M89.7,562.7a1.15,1.15 0 1,0 2.3,0a1.15,1.15 0 1,0 -2.3,0M88,569.6a1.15,1.15 0 1,0 2.3,0a1.15,1.15 0 1,0 -2.3,0M89.9,571.1a1.15,1.15 0 1,0 2.3,0a1.15,1.15 0 1,0 -2.3,0M96.6,573.1a1.15,1.15 0 1,0 2.3,0a1.15,1.15 0 1,0 -2.3,0M86.7,576.7a1.15,1.15 0 1,0 2.3,0a1.15,1.15 0 1,0 -2.3,0M88.4,577.3a1.15,1.15 0 1,0 2.3,0a1.15,1.15 0 1,0 -2.3,0M90.5,575.7a1.15,1.15 0 1,0 2.3,0a1.15,1.15 0 1,0 -2.3,0M87.6,580.7a1.15,1.15 0 1,0 2.3,0a1.15,1.15 0 1,0 -2.3,0M88.8,582.4a1.15,1.15 0 1,0 2.3,0a1.15,1.15 0 1,0 -2.3,0M90.5,581.5a1.15,1.15 0 1,0 2.3,0a1.15,1.15 0 1,0 -2.3,0M88,583.6a1.15,1.15 0 1,0 2.3,0a1.15,1.15 0 1,0 -2.3,0M89.7,584.4a1.15,1.15 0 1,0 2.3,0a1.15,1.15 0 1,0 -2.3,0M92.2,584a1.15,1.15 0 1,0 2.3,0a1.15,1.15 0 1,0 -2.3,0M97.2,582.5a1.15,1.15 0 1,0 2.3,0a1.15,1.15 0 1,0 -2.3,0M79.6,583.9a1.15,1.15 0 1,0 2.3,0a1.15,1.15 0 1,0 -2.3,0M76.7,588.2a1.15,1.15 0 1,0 2.3,0a1.15,1.15 0 1,0 -2.3,0M105.8,587a1.15,1.15 0 1,0 2.3,0a1.15,1.15 0 1,0 -2.3,0M125.2,588.5a1.15,1.15 0 1,0 2.3,0a1.15,1.15 0 1,0 -2.3,0M89.7,588.6a1.15,1.15 0 1,0 2.3,0a1.15,1.15 0 1,0 -2.3,0M91.8,589.5a1.15,1.15 0 1,0 2.3,0a1.15,1.15 0 1,0 -2.3,0M95.1,589.9a1.15,1.15 0 1,0 2.3,0a1.15,1.15 0 1,0 -2.3,0M96,589a1.15,1.15 0 1,0 2.3,0a1.15,1.15 0 1,0 -2.3,0M146.3,551a1.15,1.15 0 1,0 2.3,0a1.15,1.15 0 1,0 -2.3,0M131.9,554.7a1.15,1.15 0 1,0 2.3,0a1.15,1.15 0 1,0 -2.3,0M139.2,554.7a1.15,1.15 0 1,0 2.3,0a1.15,1.15 0 1,0 -2.3,0M132.3,558.5a1.15,1.15 0 1,0 2.3,0a1.15,1.15 0 1,0 -2.3,0M132.7,560.2a1.15,1.15 0 1,0 2.3,0a1.15,1.15 0 1,0 -2.3,0M135.6,560.6a1.15,1.15 0 1,0 2.3,0a1.15,1.15 0 1,0 -2.3,0M131.9,561.8a1.15,1.15 0 1,0 2.3,0a1.15,1.15 0 1,0 -2.3,0M144.8,561.6a1.15,1.15 0 1,0 2.3,0a1.15,1.15 0 1,0 -2.3,0M131,565.6a1.15,1.15 0 1,0 2.3,0a1.15,1.15 0 1,0 -2.3,0M134,566a1.15,1.15 0 1,0 2.3,0a1.15,1.15 0 1,0 -2.3,0M135.2,567.3a1.15,1.15 0 1,0 2.3,0a1.15,1.15 0 1,0 -2.3,0M137.6,567.5a1.15,1.15 0 1,0 2.3,0a1.15,1.15 0 1,0 -2.3,0M130.6,570.5a1.15,1.15 0 1,0 2.3,0a1.15,1.15 0 1,0 -2.3,0M132.3,570.5a1.15,1.15 0 1,0 2.3,0a1.15,1.15 0 1,0 -2.3,0M139,570.6a1.15,1.15 0 1,0 2.3,0a1.15,1.15 0 1,0 -2.3,0M139.8,571.9a1.15,1.15 0 1,0 2.3,0a1.15,1.15 0 1,0 -2.3,0M137.7,574.8a1.15,1.15 0 1,0 2.3,0a1.15,1.15 0 1,0 -2.3,0M142.3,574.8a1.15,1.15 0 1,0 2.3,0a1.15,1.15 0 1,0 -2.3,0M150.1,579.2a1.15,1.15 0 1,0 2.3,0a1.15,1.15 0 1,0 -2.3,0M164.9,580.8a1.15,1.15 0 1,0 2.3,0a1.15,1.15 0 1,0 -2.3,0M132.3,582.2a1.15,1.15 0 1,0 2.3,0a1.15,1.15 0 1,0 -2.3,0M127.3,586.1a1.15,1.15 0 1,0 2.3,0a1.15,1.15 0 1,0 -2.3,0M145.3,586.4a1.15,1.15 0 1,0 2.3,0a1.15,1.15 0 1,0 -2.3,0M149.9,586.7a1.15,1.15 0 1,0 2.3,0a1.15,1.15 0 1,0 -2.3,0M144.8,588.2a1.15,1.15 0 1,0 2.3,0a1.15,1.15 0 1,0 -2.3,0M141.1,590.1a1.15,1.15 0 1,0 2.3,0a1.15,1.15 0 1,0 -2.3,0M148.2,590.3a1.15,1.15 0 1,0 2.3,0a1.15,1.15 0 1,0 -2.3,0M153.6,589a1.15,1.15 0 1,0 2.3,0a1.15,1.15 0 1,0 -2.3,0M157.4,589.7a1.15,1.15 0 1,0 2.3,0a1.15,1.15 0 1,0 -2.3,0M161.2,591.1a1.15,1.15 0 1,0 2.3,0a1.15,1.15 0 1,0 -2.3,0M144.4,592.4a1.15,1.15 0 1,0 2.3,0a1.15,1.15 0 1,0 -2.3,0M149.9,592.4a1.15,1.15 0 1,0 2.3,0a1.15,1.15 0 1,0 -2.3,0M154.5,591.6a1.15,1.15 0 1,0 2.3,0a1.15,1.15 0 1,0 -2.3,0M155.7,593.2a1.15,1.15 0 1,0 2.3,0a1.15,1.15 0 1,0 -2.3,0M92.2,594.8a1.15,1.15 0 1,0 2.3,0a1.15,1.15 0 1,0 -2.3,0M93.9,597.3a1.15,1.15 0 1,0 2.3,0a1.15,1.15 0 1,0 -2.3,0M107.7,598.2a1.15,1.15 0 1,0 2.3,0a1.15,1.15 0 1,0 -2.3,0M80.9,602.5a1.15,1.15 0 1,0 2.3,0a1.15,1.15 0 1,0 -2.3,0M90.9,605.3a1.15,1.15 0 1,0 2.3,0a1.15,1.15 0 1,0 -2.3,0M95.1,604a1.15,1.15 0 1,0 2.3,0a1.15,1.15 0 1,0 -2.3,0M96.4,604.5a1.15,1.15 0 1,0 2.3,0a1.15,1.15 0 1,0 -2.3,0M88,607.8a1.15,1.15 0 1,0 2.3,0a1.15,1.15 0 1,0 -2.3,0M100.6,608.1a1.15,1.15 0 1,0 2.3,0a1.15,1.15 0 1,0 -2.3,0M77.1,609.9a1.15,1.15 0 1,0 2.3,0a1.15,1.15 0 1,0 -2.3,0M81.3,609.5a1.15,1.15 0 1,0 2.3,0a1.15,1.15 0 1,0 -2.3,0M95.1,609.9a1.15,1.15 0 1,0 2.3,0a1.15,1.15 0 1,0 -2.3,0M93.4,611.6a1.15,1.15 0 1,0 2.3,0a1.15,1.15 0 1,0 -2.3,0M89.7,614.1a1.15,1.15 0 1,0 2.3,0a1.15,1.15 0 1,0 -2.3,0M91.4,613.7a1.15,1.15 0 1,0 2.3,0a1.15,1.15 0 1,0 -2.3,0M96,613.9a1.15,1.15 0 1,0 2.3,0a1.15,1.15 0 1,0 -2.3,0M102.2,613.9a1.15,1.15 0 1,0 2.3,0a1.15,1.15 0 1,0 -2.3,0M103.9,614.1a1.15,1.15 0 1,0 2.3,0a1.15,1.15 0 1,0 -2.3,0M83.8,615.3a1.15,1.15 0 1,0 2.3,0a1.15,1.15 0 1,0 -2.3,0M88.4,615.8a1.15,1.15 0 1,0 2.3,0a1.15,1.15 0 1,0 -2.3,0M93,617a1.15,1.15 0 1,0 2.3,0a1.15,1.15 0 1,0 -2.3,0M77.5,619.1a1.15,1.15 0 1,0 2.3,0a1.15,1.15 0 1,0 -2.3,0M83,619.1a1.15,1.15 0 1,0 2.3,0a1.15,1.15 0 1,0 -2.3,0M87.2,619.1a1.15,1.15 0 1,0 2.3,0a1.15,1.15 0 1,0 -2.3,0M90.1,619.1a1.15,1.15 0 1,0 2.3,0a1.15,1.15 0 1,0 -2.3,0M94.3,619.1a1.15,1.15 0 1,0 2.3,0a1.15,1.15 0 1,0 -2.3,0M100.1,618.3a1.15,1.15 0 1,0 2.3,0a1.15,1.15 0 1,0 -2.3,0M100.6,619.9a1.15,1.15 0 1,0 2.3,0a1.15,1.15 0 1,0 -2.3,0M107.3,618.7a1.15,1.15 0 1,0 2.3,0a1.15,1.15 0 1,0 -2.3,0M86.3,621.6a1.15,1.15 0 1,0 2.3,0a1.15,1.15 0 1,0 -2.3,0M88.8,620.8a1.15,1.15 0 1,0 2.3,0a1.15,1.15 0 1,0 -2.3,0M92.6,621.6a1.15,1.15 0 1,0 2.3,0a1.15,1.15 0 1,0 -2.3,0M96,621.6a1.15,1.15 0 1,0 2.3,0a1.15,1.15 0 1,0 -2.3,0M90.9,623.3a1.15,1.15 0 1,0 2.3,0a1.15,1.15 0 1,0 -2.3,0M93.4,623.7a1.15,1.15 0 1,0 2.3,0a1.15,1.15 0 1,0 -2.3,0M96.8,623.7a1.15,1.15 0 1,0 2.3,0a1.15,1.15 0 1,0 -2.3,0M101.4,623.7a1.15,1.15 0 1,0 2.3,0a1.15,1.15 0 1,0 -2.3,0M105.2,623.3a1.15,1.15 0 1,0 2.3,0a1.15,1.15 0 1,0 -2.3,0M111.4,621.2a1.15,1.15 0 1,0 2.3,0a1.15,1.15 0 1,0 -2.3,0M111.9,624.1a1.15,1.15 0 1,0 2.3,0a1.15,1.15 0 1,0 -2.3,0M76.7,625.8a1.15,1.15 0 1,0 2.3,0a1.15,1.15 0 1,0 -2.3,0M79.2,625.4a1.15,1.15 0 1,0 2.3,0a1.15,1.15 0 1,0 -2.3,0M81.7,625a1.15,1.15 0 1,0 2.3,0a1.15,1.15 0 1,0 -2.3,0M85.5,624.1a1.15,1.15 0 1,0 2.3,0a1.15,1.15 0 1,0 -2.3,0M87.6,625.8a1.15,1.15 0 1,0 2.3,0a1.15,1.15 0 1,0 -2.3,0M90.1,625.8a1.15,1.15 0 1,0 2.3,0a1.15,1.15 0 1,0 -2.3,0M94.3,625.4a1.15,1.15 0 1,0 2.3,0a1.15,1.15 0 1,0 -2.3,0M98.5,625.8a1.15,1.15 0 1,0 2.3,0a1.15,1.15 0 1,0 -2.3,0M100.1,627.1a1.15,1.15 0 1,0 2.3,0a1.15,1.15 0 1,0 -2.3,0M103.9,625.8a1.15,1.15 0 1,0 2.3,0a1.15,1.15 0 1,0 -2.3,0M105.6,627.5a1.15,1.15 0 1,0 2.3,0a1.15,1.15 0 1,0 -2.3,0M110.2,627.5a1.15,1.15 0 1,0 2.3,0a1.15,1.15 0 1,0 -2.3,0M109.3,629.1a1.15,1.15 0 1,0 2.3,0a1.15,1.15 0 1,0 -2.3,0M78.8,628.3a1.15,1.15 0 1,0 2.3,0a1.15,1.15 0 1,0 -2.3,0M81.7,628.3a1.15,1.15 0 1,0 2.3,0a1.15,1.15 0 1,0 -2.3,0M84.2,629.1a1.15,1.15 0 1,0 2.3,0a1.15,1.15 0 1,0 -2.3,0M86.3,630.8a1.15,1.15 0 1,0 2.3,0a1.15,1.15 0 1,0 -2.3,0M85.9,627.5a1.15,1.15 0 1,0 2.3,0a1.15,1.15 0 1,0 -2.3,0M88.8,627.1a1.15,1.15 0 1,0 2.3,0a1.15,1.15 0 1,0 -2.3,0M91.8,629.1a1.15,1.15 0 1,0 2.3,0a1.15,1.15 0 1,0 -2.3,0M95.1,627.9a1.15,1.15 0 1,0 2.3,0a1.15,1.15 0 1,0 -2.3,0M97.6,627.5a1.15,1.15 0 1,0 2.3,0a1.15,1.15 0 1,0 -2.3,0M92.6,631.2a1.15,1.15 0 1,0 2.3,0a1.15,1.15 0 1,0 -2.3,0M93.4,633.3a1.15,1.15 0 1,0 2.3,0a1.15,1.15 0 1,0 -2.3,0M96,634.2a1.15,1.15 0 1,0 2.3,0a1.15,1.15 0 1,0 -2.3,0M98.5,632.9a1.15,1.15 0 1,0 2.3,0a1.15,1.15 0 1,0 -2.3,0M98,635a1.15,1.15 0 1,0 2.3,0a1.15,1.15 0 1,0 -2.3,0M79.6,631.7a1.15,1.15 0 1,0 2.3,0a1.15,1.15 0 1,0 -2.3,0M81.7,632.9a1.15,1.15 0 1,0 2.3,0a1.15,1.15 0 1,0 -2.3,0M84.2,635a1.15,1.15 0 1,0 2.3,0a1.15,1.15 0 1,0 -2.3,0M77.1,633.3a1.15,1.15 0 1,0 2.3,0a1.15,1.15 0 1,0 -2.3,0M77.5,635.4a1.15,1.15 0 1,0 2.3,0a1.15,1.15 0 1,0 -2.3,0M78.8,637.5a1.15,1.15 0 1,0 2.3,0a1.15,1.15 0 1,0 -2.3,0M80.1,637.9a1.15,1.15 0 1,0 2.3,0a1.15,1.15 0 1,0 -2.3,0M90.9,635a1.15,1.15 0 1,0 2.3,0a1.15,1.15 0 1,0 -2.3,0M90.9,637.5a1.15,1.15 0 1,0 2.3,0a1.15,1.15 0 1,0 -2.3,0M95.1,637.5a1.15,1.15 0 1,0 2.3,0a1.15,1.15 0 1,0 -2.3,0M100.1,637.9a1.15,1.15 0 1,0 2.3,0a1.15,1.15 0 1,0 -2.3,0M101,636.7a1.15,1.15 0 1,0 2.3,0a1.15,1.15 0 1,0 -2.3,0M108.1,633.3a1.15,1.15 0 1,0 2.3,0a1.15,1.15 0 1,0 -2.3,0M117.7,621.6a1.15,1.15 0 1,0 2.3,0a1.15,1.15 0 1,0 -2.3,0M121.9,619.9a1.15,1.15 0 1,0 2.3,0a1.15,1.15 0 1,0 -2.3,0M124.4,618.7a1.15,1.15 0 1,0 2.3,0a1.15,1.15 0 1,0 -2.3,0M120.2,623.7a1.15,1.15 0 1,0 2.3,0a1.15,1.15 0 1,0 -2.3,0M125.2,622.9a1.15,1.15 0 1,0 2.3,0a1.15,1.15 0 1,0 -2.3,0M126.5,607.8a1.15,1.15 0 1,0 2.3,0a1.15,1.15 0 1,0 -2.3,0M126.5,609.9a1.15,1.15 0 1,0 2.3,0a1.15,1.15 0 1,0 -2.3,0M141.2,598.2a1.15,1.15 0 1,0 2.3,0a1.15,1.15 0 1,0 -2.3,0M148.2,597.3a1.15,1.15 0 1,0 2.3,0a1.15,1.15 0 1,0 -2.3,0M161.2,597.5a1.15,1.15 0 1,0 2.3,0a1.15,1.15 0 1,0 -2.3,0M127.3,607.4a1.15,1.15 0 1,0 2.3,0a1.15,1.15 0 1,0 -2.3,0M154,616.2a1.15,1.15 0 1,0 2.3,0a1.15,1.15 0 1,0 -2.3,0M129.8,619.1a1.15,1.15 0 1,0 2.3,0a1.15,1.15 0 1,0 -2.3,0M133.5,618.7a1.15,1.15 0 1,0 2.3,0a1.15,1.15 0 1,0 -2.3,0M136.5,621.4a1.15,1.15 0 1,0 2.3,0a1.15,1.15 0 1,0 -2.3,0M128.1,622a1.15,1.15 0 1,0 2.3,0a1.15,1.15 0 1,0 -2.3,0M129.4,622.5a1.15,1.15 0 1,0 2.3,0a1.15,1.15 0 1,0 -2.3,0M131.9,624.1a1.15,1.15 0 1,0 2.3,0a1.15,1.15 0 1,0 -2.3,0M133.1,623.3a1.15,1.15 0 1,0 2.3,0a1.15,1.15 0 1,0 -2.3,0M134.8,624.8a1.15,1.15 0 1,0 2.3,0a1.15,1.15 0 1,0 -2.3,0M144.8,625.8a1.15,1.15 0 1,0 2.3,0a1.15,1.15 0 1,0 -2.3,0M131.5,629.1a1.15,1.15 0 1,0 2.3,0a1.15,1.15 0 1,0 -2.3,0M128.5,636.3a1.15,1.15 0 1,0 2.3,0a1.15,1.15 0 1,0 -2.3,0M172.7,637.1a1.15,1.15 0 1,0 2.3,0a1.15,1.15 0 1,0 -2.3,0"/>
<polygon fill="#1c1c1c" points="86.6,627.5 90.4,621.6 95.4,620.8 98.8,623.3 95.4,625.8 89.6,628.3"/>
<path fill="#1c1c1c" d="M273.9,543.4a1.15,1.15 0 1,0 2.3,0a1.15,1.15 0 1,0 -2.3,0M266.8,561.4a1.15,1.15 0 1,0 2.3,0a1.15,1.15 0 1,0 -2.3,0M275.4,566.2a1.15,1.15 0 1,0 2.3,0a1.15,1.15 0 1,0 -2.3,0M275.5,567.4a1.15,1.15 0 1,0 2.3,0a1.15,1.15 0 1,0 -2.3,0M261.8,567.4a1.15,1.15 0 1,0 2.3,0a1.15,1.15 0 1,0 -2.3,0M265,567.4a1.15,1.15 0 1,0 2.3,0a1.15,1.15 0 1,0 -2.3,0M262.2,569.5a1.15,1.15 0 1,0 2.3,0a1.15,1.15 0 1,0 -2.3,0M263,570.7a1.15,1.15 0 1,0 2.3,0a1.15,1.15 0 1,0 -2.3,0M265.4,571.1a1.15,1.15 0 1,0 2.3,0a1.15,1.15 0 1,0 -2.3,0M270.7,568.9a1.15,1.15 0 1,0 2.3,0a1.15,1.15 0 1,0 -2.3,0M261.4,573.9a1.15,1.15 0 1,0 2.3,0a1.15,1.15 0 1,0 -2.3,0M263,574.3a1.15,1.15 0 1,0 2.3,0a1.15,1.15 0 1,0 -2.3,0M261.8,575.5a1.15,1.15 0 1,0 2.3,0a1.15,1.15 0 1,0 -2.3,0M263.8,575.1a1.15,1.15 0 1,0 2.3,0a1.15,1.15 0 1,0 -2.3,0M267.4,573.9a1.15,1.15 0 1,0 2.3,0a1.15,1.15 0 1,0 -2.3,0M270.7,574.3a1.15,1.15 0 1,0 2.3,0a1.15,1.15 0 1,0 -2.3,0M271.5,575.1a1.15,1.15 0 1,0 2.3,0a1.15,1.15 0 1,0 -2.3,0M274.7,574.7a1.15,1.15 0 1,0 2.3,0a1.15,1.15 0 1,0 -2.3,0M280,571.9a1.15,1.15 0 1,0 2.3,0a1.15,1.15 0 1,0 -2.3,0M280.8,575.1a1.15,1.15 0 1,0 2.3,0a1.15,1.15 0 1,0 -2.3,0M261.8,577.5a1.15,1.15 0 1,0 2.3,0a1.15,1.15 0 1,0 -2.3,0M264.2,578.3a1.15,1.15 0 1,0 2.3,0a1.15,1.15 0 1,0 -2.3,0M265.4,579.5a1.15,1.15 0 1,0 2.3,0a1.15,1.15 0 1,0 -2.3,0M269.1,577.5a1.15,1.15 0 1,0 2.3,0a1.15,1.15 0 1,0 -2.3,0M268.3,579.5a1.15,1.15 0 1,0 2.3,0a1.15,1.15 0 1,0 -2.3,0M274.7,577.9a1.15,1.15 0 1,0 2.3,0a1.15,1.15 0 1,0 -2.3,0M275.1,578.7a1.15,1.15 0 1,0 2.3,0a1.15,1.15 0 1,0 -2.3,0M284.8,577.8a1.15,1.15 0 1,0 2.3,0a1.15,1.15 0 1,0 -2.3,0M261,580.8a1.15,1.15 0 1,0 2.3,0a1.15,1.15 0 1,0 -2.3,0M263,581.2a1.15,1.15 0 1,0 2.3,0a1.15,1.15 0 1,0 -2.3,0M267.9,582.4a1.15,1.15 0 1,0 2.3,0a1.15,1.15 0 1,0 -2.3,0M261.8,584a1.15,1.15 0 1,0 2.3,0a1.15,1.15 0 1,0 -2.3,0M262.2,586a1.15,1.15 0 1,0 2.3,0a1.15,1.15 0 1,0 -2.3,0M263.8,586.4a1.15,1.15 0 1,0 2.3,0a1.15,1.15 0 1,0 -2.3,0M265.8,585.6a1.15,1.15 0 1,0 2.3,0a1.15,1.15 0 1,0 -2.3,0M257,586.2a1.15,1.15 0 1,0 2.3,0a1.15,1.15 0 1,0 -2.3,0M261.8,588a1.15,1.15 0 1,0 2.3,0a1.15,1.15 0 1,0 -2.3,0M277.9,585.2a1.15,1.15 0 1,0 2.3,0a1.15,1.15 0 1,0 -2.3,0M283.2,587a1.15,1.15 0 1,0 2.3,0a1.15,1.15 0 1,0 -2.3,0M294.9,582.6a1.15,1.15 0 1,0 2.3,0a1.15,1.15 0 1,0 -2.3,0M271.9,588.4a1.15,1.15 0 1,0 2.3,0a1.15,1.15 0 1,0 -2.3,0M264.6,590a1.15,1.15 0 1,0 2.3,0a1.15,1.15 0 1,0 -2.3,0M269.5,591.5a1.15,1.15 0 1,0 2.3,0a1.15,1.15 0 1,0 -2.3,0M261.4,592.3a1.15,1.15 0 1,0 2.3,0a1.15,1.15 0 1,0 -2.3,0M314.6,572.1a1.15,1.15 0 1,0 2.3,0a1.15,1.15 0 1,0 -2.3,0M306,576.3a1.15,1.15 0 1,0 2.3,0a1.15,1.15 0 1,0 -2.3,0M304.5,581.2a1.15,1.15 0 1,0 2.3,0a1.15,1.15 0 1,0 -2.3,0M306.9,580a1.15,1.15 0 1,0 2.3,0a1.15,1.15 0 1,0 -2.3,0M308.9,582.4a1.15,1.15 0 1,0 2.3,0a1.15,1.15 0 1,0 -2.3,0M311,584a1.15,1.15 0 1,0 2.3,0a1.15,1.15 0 1,0 -2.3,0M314.6,584a1.15,1.15 0 1,0 2.3,0a1.15,1.15 0 1,0 -2.3,0M304.3,585.8a1.15,1.15 0 1,0 2.3,0a1.15,1.15 0 1,0 -2.3,0M302.1,589.9a1.15,1.15 0 1,0 2.3,0a1.15,1.15 0 1,0 -2.3,0M319.4,589.2a1.15,1.15 0 1,0 2.3,0a1.15,1.15 0 1,0 -2.3,0M311.6,590a1.15,1.15 0 1,0 2.3,0a1.15,1.15 0 1,0 -2.3,0M311.4,591.3a1.15,1.15 0 1,0 2.3,0a1.15,1.15 0 1,0 -2.3,0M264.7,622.6a1.15,1.15 0 1,0 2.3,0a1.15,1.15 0 1,0 -2.3,0M269.2,620.4a1.15,1.15 0 1,0 2.3,0a1.15,1.15 0 1,0 -2.3,0M262.3,623.8a1.15,1.15 0 1,0 2.3,0a1.15,1.15 0 1,0 -2.3,0M264.6,620.7a1.15,1.15 0 1,0 2.3,0a1.15,1.15 0 1,0 -2.3,0M263.5,620.5a1.15,1.15 0 1,0 2.3,0a1.15,1.15 0 1,0 -2.3,0M260.1,623.3a1.15,1.15 0 1,0 2.3,0a1.15,1.15 0 1,0 -2.3,0M270.4,623.8a1.15,1.15 0 1,0 2.3,0a1.15,1.15 0 1,0 -2.3,0M266.7,620.5a1.15,1.15 0 1,0 2.3,0a1.15,1.15 0 1,0 -2.3,0M263.9,618.7a1.15,1.15 0 1,0 2.3,0a1.15,1.15 0 1,0 -2.3,0M268.1,620.2a1.15,1.15 0 1,0 2.3,0a1.15,1.15 0 1,0 -2.3,0M262.6,626.5a1.15,1.15 0 1,0 2.3,0a1.15,1.15 0 1,0 -2.3,0M266.5,624.5a1.15,1.15 0 1,0 2.3,0a1.15,1.15 0 1,0 -2.3,0M266.6,619.1a1.15,1.15 0 1,0 2.3,0a1.15,1.15 0 1,0 -2.3,0M267.8,619.8a1.15,1.15 0 1,0 2.3,0a1.15,1.15 0 1,0 -2.3,0M263.5,618.6a1.15,1.15 0 1,0 2.3,0a1.15,1.15 0 1,0 -2.3,0M263.7,618.4a1.15,1.15 0 1,0 2.3,0a1.15,1.15 0 1,0 -2.3,0M262.7,618a1.15,1.15 0 1,0 2.3,0a1.15,1.15 0 1,0 -2.3,0M260.8,623.2a1.15,1.15 0 1,0 2.3,0a1.15,1.15 0 1,0 -2.3,0M264.7,621.3a1.15,1.15 0 1,0 2.3,0a1.15,1.15 0 1,0 -2.3,0M263.4,618.7a1.15,1.15 0 1,0 2.3,0a1.15,1.15 0 1,0 -2.3,0M263.3,618.4a1.15,1.15 0 1,0 2.3,0a1.15,1.15 0 1,0 -2.3,0M267.5,623.4a1.15,1.15 0 1,0 2.3,0a1.15,1.15 0 1,0 -2.3,0M297.8,620.2a1.15,1.15 0 1,0 2.3,0a1.15,1.15 0 1,0 -2.3,0M298.4,620.5a1.15,1.15 0 1,0 2.3,0a1.15,1.15 0 1,0 -2.3,0M291.1,623.6a1.15,1.15 0 1,0 2.3,0a1.15,1.15 0 1,0 -2.3,0M289.5,621.8a1.15,1.15 0 1,0 2.3,0a1.15,1.15 0 1,0 -2.3,0M286.7,623.8a1.15,1.15 0 1,0 2.3,0a1.15,1.15 0 1,0 -2.3,0M298.6,620.2a1.15,1.15 0 1,0 2.3,0a1.15,1.15 0 1,0 -2.3,0M286.2,621.6a1.15,1.15 0 1,0 2.3,0a1.15,1.15 0 1,0 -2.3,0M291.9,623a1.15,1.15 0 1,0 2.3,0a1.15,1.15 0 1,0 -2.3,0M289.3,622.1a1.15,1.15 0 1,0 2.3,0a1.15,1.15 0 1,0 -2.3,0M286.7,620.4a1.15,1.15 0 1,0 2.3,0a1.15,1.15 0 1,0 -2.3,0M285.5,621.9a1.15,1.15 0 1,0 2.3,0a1.15,1.15 0 1,0 -2.3,0M292.5,622.3a1.15,1.15 0 1,0 2.3,0a1.15,1.15 0 1,0 -2.3,0M297.9,620.8a1.15,1.15 0 1,0 2.3,0a1.15,1.15 0 1,0 -2.3,0M289.3,621.6a1.15,1.15 0 1,0 2.3,0a1.15,1.15 0 1,0 -2.3,0M263,598.8a1.15,1.15 0 1,0 2.3,0a1.15,1.15 0 1,0 -2.3,0M261.4,600.1a1.15,1.15 0 1,0 2.3,0a1.15,1.15 0 1,0 -2.3,0M261,601.7a1.15,1.15 0 1,0 2.3,0a1.15,1.15 0 1,0 -2.3,0M261.8,603.3a1.15,1.15 0 1,0 2.3,0a1.15,1.15 0 1,0 -2.3,0M267.4,599a1.15,1.15 0 1,0 2.3,0a1.15,1.15 0 1,0 -2.3,0M257.8,604.9a1.15,1.15 0 1,0 2.3,0a1.15,1.15 0 1,0 -2.3,0M263,605.3a1.15,1.15 0 1,0 2.3,0a1.15,1.15 0 1,0 -2.3,0M262.6,607.3a1.15,1.15 0 1,0 2.3,0a1.15,1.15 0 1,0 -2.3,0M255.7,609.7a1.15,1.15 0 1,0 2.3,0a1.15,1.15 0 1,0 -2.3,0M261.8,609.7a1.15,1.15 0 1,0 2.3,0a1.15,1.15 0 1,0 -2.3,0M261.8,611.4a1.15,1.15 0 1,0 2.3,0a1.15,1.15 0 1,0 -2.3,0M250.1,613.4a1.15,1.15 0 1,0 2.3,0a1.15,1.15 0 1,0 -2.3,0M250.9,615.4a1.15,1.15 0 1,0 2.3,0a1.15,1.15 0 1,0 -2.3,0M255.3,613a1.15,1.15 0 1,0 2.3,0a1.15,1.15 0 1,0 -2.3,0M257.4,613.8a1.15,1.15 0 1,0 2.3,0a1.15,1.15 0 1,0 -2.3,0M261.4,613.8a1.15,1.15 0 1,0 2.3,0a1.15,1.15 0 1,0 -2.3,0M263.8,616.2a1.15,1.15 0 1,0 2.3,0a1.15,1.15 0 1,0 -2.3,0M266.2,617.8a1.15,1.15 0 1,0 2.3,0a1.15,1.15 0 1,0 -2.3,0M268.7,615.8a1.15,1.15 0 1,0 2.3,0a1.15,1.15 0 1,0 -2.3,0M269.1,617.8a1.15,1.15 0 1,0 2.3,0a1.15,1.15 0 1,0 -2.3,0M256.6,618.6a1.15,1.15 0 1,0 2.3,0a1.15,1.15 0 1,0 -2.3,0M259.4,620.2a1.15,1.15 0 1,0 2.3,0a1.15,1.15 0 1,0 -2.3,0M272.3,621.4a1.15,1.15 0 1,0 2.3,0a1.15,1.15 0 1,0 -2.3,0M275.9,621.4a1.15,1.15 0 1,0 2.3,0a1.15,1.15 0 1,0 -2.3,0M271.5,623.5a1.15,1.15 0 1,0 2.3,0a1.15,1.15 0 1,0 -2.3,0M272.3,625.1a1.15,1.15 0 1,0 2.3,0a1.15,1.15 0 1,0 -2.3,0M275.1,625.1a1.15,1.15 0 1,0 2.3,0a1.15,1.15 0 1,0 -2.3,0M277.1,627.1a1.15,1.15 0 1,0 2.3,0a1.15,1.15 0 1,0 -2.3,0M277.9,628.7a1.15,1.15 0 1,0 2.3,0a1.15,1.15 0 1,0 -2.3,0M268.3,628.9a1.15,1.15 0 1,0 2.3,0a1.15,1.15 0 1,0 -2.3,0M249.3,623.1a1.15,1.15 0 1,0 2.3,0a1.15,1.15 0 1,0 -2.3,0M248.9,625.1a1.15,1.15 0 1,0 2.3,0a1.15,1.15 0 1,0 -2.3,0M249.7,628.3a1.15,1.15 0 1,0 2.3,0a1.15,1.15 0 1,0 -2.3,0M248.1,630.7a1.15,1.15 0 1,0 2.3,0a1.15,1.15 0 1,0 -2.3,0M254.1,624.3a1.15,1.15 0 1,0 2.3,0a1.15,1.15 0 1,0 -2.3,0M254.5,631.5a1.15,1.15 0 1,0 2.3,0a1.15,1.15 0 1,0 -2.3,0M259.4,627.1a1.15,1.15 0 1,0 2.3,0a1.15,1.15 0 1,0 -2.3,0M259,629.5a1.15,1.15 0 1,0 2.3,0a1.15,1.15 0 1,0 -2.3,0M261.4,630.7a1.15,1.15 0 1,0 2.3,0a1.15,1.15 0 1,0 -2.3,0M253.3,635.2a1.15,1.15 0 1,0 2.3,0a1.15,1.15 0 1,0 -2.3,0M257,634.8a1.15,1.15 0 1,0 2.3,0a1.15,1.15 0 1,0 -2.3,0M261,634.4a1.15,1.15 0 1,0 2.3,0a1.15,1.15 0 1,0 -2.3,0M261.8,636.4a1.15,1.15 0 1,0 2.3,0a1.15,1.15 0 1,0 -2.3,0M264.6,635.8a1.15,1.15 0 1,0 2.3,0a1.15,1.15 0 1,0 -2.3,0M279.6,609.3a1.15,1.15 0 1,0 2.3,0a1.15,1.15 0 1,0 -2.3,0M281.6,623.2a1.15,1.15 0 1,0 2.3,0a1.15,1.15 0 1,0 -2.3,0M284.8,615.8a1.15,1.15 0 1,0 2.3,0a1.15,1.15 0 1,0 -2.3,0M286.4,617a1.15,1.15 0 1,0 2.3,0a1.15,1.15 0 1,0 -2.3,0M289.6,616.6a1.15,1.15 0 1,0 2.3,0a1.15,1.15 0 1,0 -2.3,0M285.2,621.4a1.15,1.15 0 1,0 2.3,0a1.15,1.15 0 1,0 -2.3,0M286,623.5a1.15,1.15 0 1,0 2.3,0a1.15,1.15 0 1,0 -2.3,0M288.4,619.8a1.15,1.15 0 1,0 2.3,0a1.15,1.15 0 1,0 -2.3,0M290,621.4a1.15,1.15 0 1,0 2.3,0a1.15,1.15 0 1,0 -2.3,0M291.7,622.2a1.15,1.15 0 1,0 2.3,0a1.15,1.15 0 1,0 -2.3,0M293.3,621.8a1.15,1.15 0 1,0 2.3,0a1.15,1.15 0 1,0 -2.3,0M294.9,621.4a1.15,1.15 0 1,0 2.3,0a1.15,1.15 0 1,0 -2.3,0M296.5,620.6a1.15,1.15 0 1,0 2.3,0a1.15,1.15 0 1,0 -2.3,0M298.1,621.8a1.15,1.15 0 1,0 2.3,0a1.15,1.15 0 1,0 -2.3,0M292.9,619a1.15,1.15 0 1,0 2.3,0a1.15,1.15 0 1,0 -2.3,0M296.5,617.8a1.15,1.15 0 1,0 2.3,0a1.15,1.15 0 1,0 -2.3,0M286.8,627.7a1.15,1.15 0 1,0 2.3,0a1.15,1.15 0 1,0 -2.3,0M298.1,597.2a1.15,1.15 0 1,0 2.3,0a1.15,1.15 0 1,0 -2.3,0M317.4,595.2a1.15,1.15 0 1,0 2.3,0a1.15,1.15 0 1,0 -2.3,0M299.5,597.4a1.15,1.15 0 1,0 2.3,0a1.15,1.15 0 1,0 -2.3,0M306,600.5a1.15,1.15 0 1,0 2.3,0a1.15,1.15 0 1,0 -2.3,0M316,598.8a1.15,1.15 0 1,0 2.3,0a1.15,1.15 0 1,0 -2.3,0M342.8,605.9a1.15,1.15 0 1,0 2.3,0a1.15,1.15 0 1,0 -2.3,0M304.9,607.3a1.15,1.15 0 1,0 2.3,0a1.15,1.15 0 1,0 -2.3,0M307.7,607.9a1.15,1.15 0 1,0 2.3,0a1.15,1.15 0 1,0 -2.3,0M311.4,607.9a1.15,1.15 0 1,0 2.3,0a1.15,1.15 0 1,0 -2.3,0M316.2,610.1a1.15,1.15 0 1,0 2.3,0a1.15,1.15 0 1,0 -2.3,0M311,612.4a1.15,1.15 0 1,0 2.3,0a1.15,1.15 0 1,0 -2.3,0M324.5,613.4a1.15,1.15 0 1,0 2.3,0a1.15,1.15 0 1,0 -2.3,0M300.1,613.4a1.15,1.15 0 1,0 2.3,0a1.15,1.15 0 1,0 -2.3,0M302.5,616a1.15,1.15 0 1,0 2.3,0a1.15,1.15 0 1,0 -2.3,0M306.9,615.8a1.15,1.15 0 1,0 2.3,0a1.15,1.15 0 1,0 -2.3,0M308.9,616.6a1.15,1.15 0 1,0 2.3,0a1.15,1.15 0 1,0 -2.3,0M313.4,617.8a1.15,1.15 0 1,0 2.3,0a1.15,1.15 0 1,0 -2.3,0M314.2,619.8a1.15,1.15 0 1,0 2.3,0a1.15,1.15 0 1,0 -2.3,0M316.2,622.2a1.15,1.15 0 1,0 2.3,0a1.15,1.15 0 1,0 -2.3,0M310.6,620.6a1.15,1.15 0 1,0 2.3,0a1.15,1.15 0 1,0 -2.3,0M310.1,622.7a1.15,1.15 0 1,0 2.3,0a1.15,1.15 0 1,0 -2.3,0M312.2,626.3a1.15,1.15 0 1,0 2.3,0a1.15,1.15 0 1,0 -2.3,0M299.7,620.6a1.15,1.15 0 1,0 2.3,0a1.15,1.15 0 1,0 -2.3,0M301.3,621.8a1.15,1.15 0 1,0 2.3,0a1.15,1.15 0 1,0 -2.3,0M303.7,621.8a1.15,1.15 0 1,0 2.3,0a1.15,1.15 0 1,0 -2.3,0M306.5,621.3a1.15,1.15 0 1,0 2.3,0a1.15,1.15 0 1,0 -2.3,0"/>
<polygon fill="#1c1c1c" points="261.7,573.1 264.2,572.3 265.8,574.7 263.8,577.1 261.7,576.3"/>
<polygon fill="#1c1c1c" points="260.1,623.9 261.7,618.2 265.4,619.8 271,621.8 270.2,623.5 264.6,624.7 260.9,625.1"/>
<path fill="#1c1c1c" d="M424.7,613.9a1.15,1.15 0 1,0 2.3,0a1.15,1.15 0 1,0 -2.3,0M421.1,619.3a1.15,1.15 0 1,0 2.3,0a1.15,1.15 0 1,0 -2.3,0M422.5,623.8a1.15,1.15 0 1,0 2.3,0a1.15,1.15 0 1,0 -2.3,0M431.6,626.8a1.15,1.15 0 1,0 2.3,0a1.15,1.15 0 1,0 -2.3,0M428.7,634.3a1.15,1.15 0 1,0 2.3,0a1.15,1.15 0 1,0 -2.3,0M436.1,634.3a1.15,1.15 0 1,0 2.3,0a1.15,1.15 0 1,0 -2.3,0M441.8,632a1.15,1.15 0 1,0 2.3,0a1.15,1.15 0 1,0 -2.3,0"/>
<ellipse fill="#1c1c1c" cx="424.3" cy="632.2" rx="4.8" ry="2.1" transform="rotate(-42 424.3 632.2)"/>
<ellipse fill="#1c1c1c" cx="599.3" cy="627.2" rx="5" ry="2.3" transform="rotate(-38 599.3 627.2)"/>
</svg>
</body></html>
